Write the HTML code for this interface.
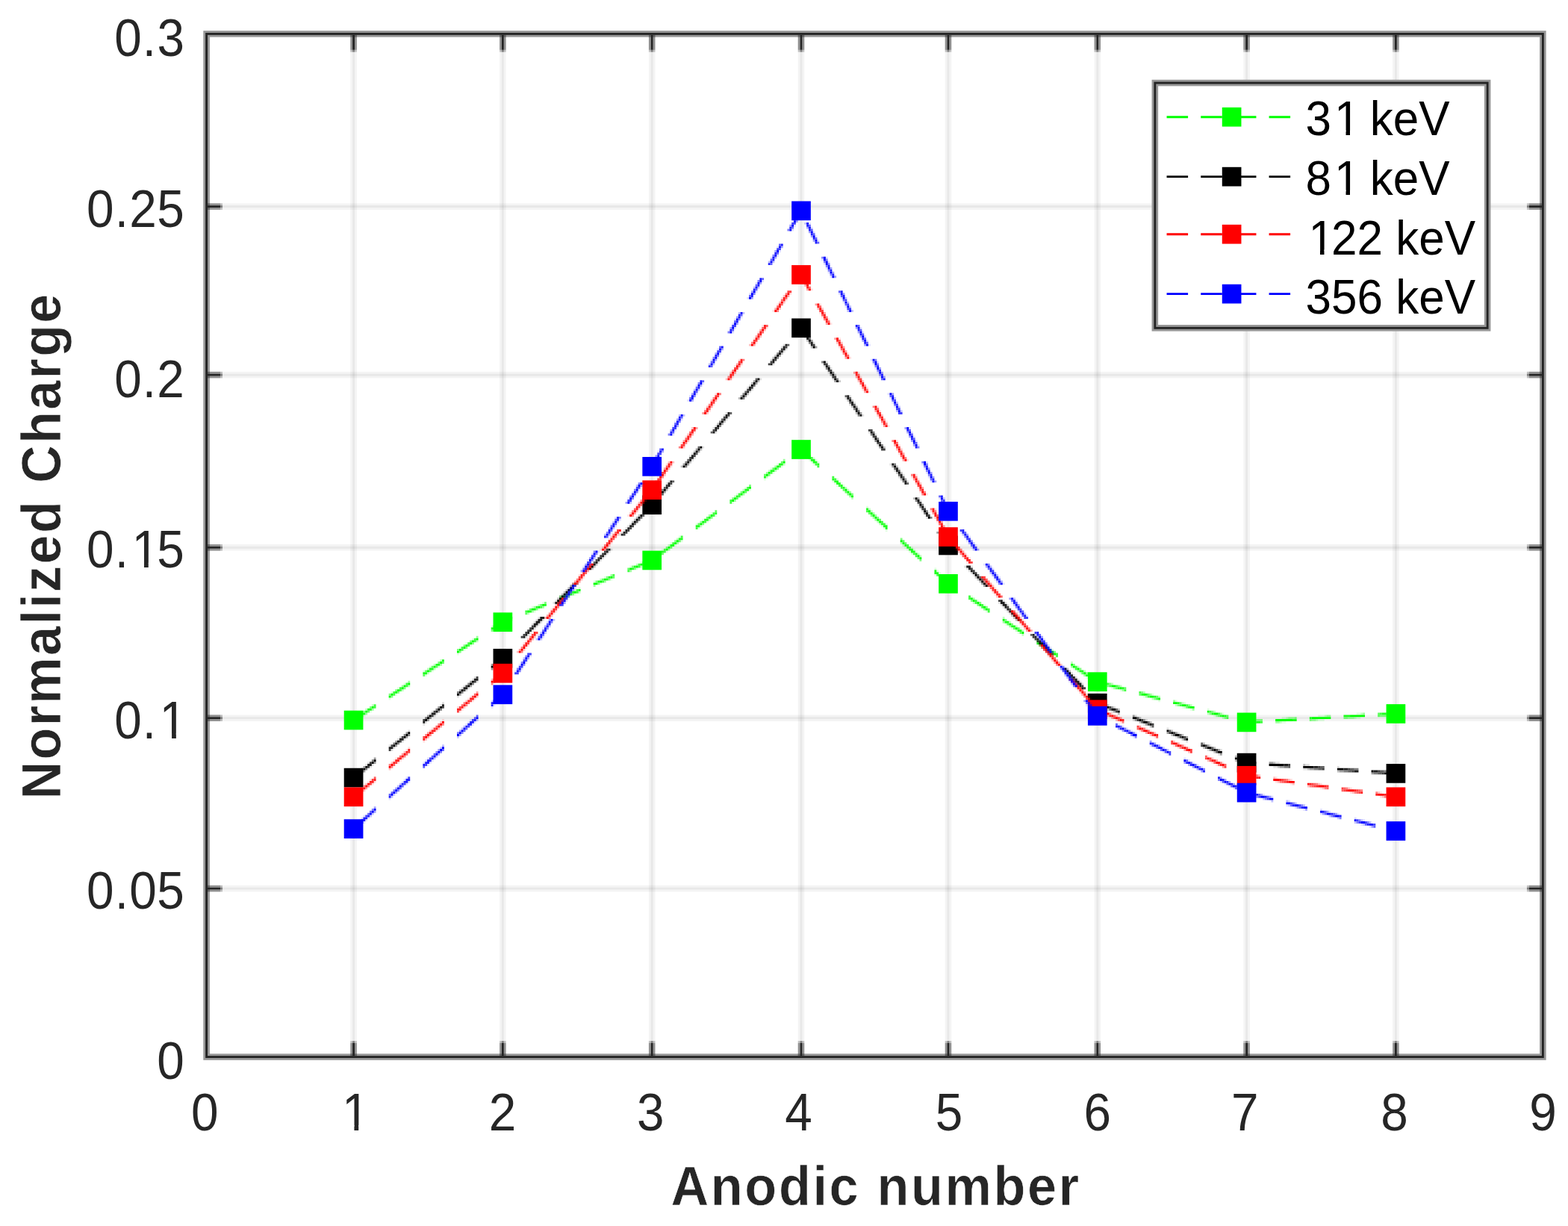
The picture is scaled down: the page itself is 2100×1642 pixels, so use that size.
<!DOCTYPE html>
<html lang="en"><head><meta charset="utf-8"><title>Normalized Charge vs Anodic number</title>
<style>
html,body{margin:0;padding:0;background:#fff;}
body{width:2100px;height:1642px;overflow:hidden;}
svg{display:block;}
text{font-family:"Liberation Sans",Arial,Helvetica,sans-serif;font-kerning:none;white-space:pre;}
.tick{font-size:70.5px;fill:#262626;}
.lab{font-size:73.4px;font-weight:bold;fill:#262626;stroke:#fff;stroke-width:0.6px;letter-spacing:2.75px;}
.leg{font-size:65.6px;fill:#000;}
</style></head><body>
<svg width="2100" height="1642" viewBox="0 0 2100 1642">
<rect width="2100" height="1642" fill="#fff"/>
<g id="grid">
<rect x="469.28" y="45.39" width="2.85" height="1370.16" fill="rgba(38,38,38,0.05)"/>
<rect x="472.13" y="45.39" width="2.85" height="1370.16" fill="rgba(38,38,38,0.105)"/>
<rect x="474.99" y="45.39" width="2.85" height="1370.16" fill="rgba(38,38,38,0.05)"/>
<rect x="669.09" y="45.39" width="2.85" height="1370.16" fill="rgba(38,38,38,0.05)"/>
<rect x="671.95" y="45.39" width="2.85" height="1370.16" fill="rgba(38,38,38,0.105)"/>
<rect x="674.8" y="45.39" width="2.85" height="1370.16" fill="rgba(38,38,38,0.05)"/>
<rect x="868.91" y="45.39" width="2.85" height="1370.16" fill="rgba(38,38,38,0.05)"/>
<rect x="871.76" y="45.39" width="2.85" height="1370.16" fill="rgba(38,38,38,0.105)"/>
<rect x="874.62" y="45.39" width="2.85" height="1370.16" fill="rgba(38,38,38,0.05)"/>
<rect x="1068.72" y="45.39" width="2.85" height="1370.16" fill="rgba(38,38,38,0.05)"/>
<rect x="1071.58" y="45.39" width="2.85" height="1370.16" fill="rgba(38,38,38,0.105)"/>
<rect x="1074.43" y="45.39" width="2.85" height="1370.16" fill="rgba(38,38,38,0.05)"/>
<rect x="1265.69" y="45.39" width="2.85" height="1370.16" fill="rgba(38,38,38,0.05)"/>
<rect x="1268.54" y="45.39" width="2.85" height="1370.16" fill="rgba(38,38,38,0.105)"/>
<rect x="1271.39" y="45.39" width="2.85" height="1370.16" fill="rgba(38,38,38,0.05)"/>
<rect x="1465.5" y="45.39" width="2.85" height="1370.16" fill="rgba(38,38,38,0.05)"/>
<rect x="1468.35" y="45.39" width="2.85" height="1370.16" fill="rgba(38,38,38,0.105)"/>
<rect x="1471.21" y="45.39" width="2.85" height="1370.16" fill="rgba(38,38,38,0.05)"/>
<rect x="1665.32" y="45.39" width="2.85" height="1370.16" fill="rgba(38,38,38,0.05)"/>
<rect x="1668.17" y="45.39" width="2.85" height="1370.16" fill="rgba(38,38,38,0.105)"/>
<rect x="1671.02" y="45.39" width="2.85" height="1370.16" fill="rgba(38,38,38,0.05)"/>
<rect x="1865.13" y="45.39" width="2.85" height="1370.16" fill="rgba(38,38,38,0.05)"/>
<rect x="1867.98" y="45.39" width="2.85" height="1370.16" fill="rgba(38,38,38,0.105)"/>
<rect x="1870.84" y="45.39" width="2.85" height="1370.16" fill="rgba(38,38,38,0.05)"/>
<rect x="276.6" y="272.32" width="1789.77" height="2.85" fill="rgba(38,38,38,0.05)"/>
<rect x="276.6" y="275.17" width="1789.77" height="2.85" fill="rgba(38,38,38,0.105)"/>
<rect x="276.6" y="278.03" width="1789.77" height="2.85" fill="rgba(38,38,38,0.05)"/>
<rect x="276.6" y="497.82" width="1789.77" height="2.85" fill="rgba(38,38,38,0.05)"/>
<rect x="276.6" y="500.68" width="1789.77" height="2.85" fill="rgba(38,38,38,0.105)"/>
<rect x="276.6" y="503.53" width="1789.77" height="2.85" fill="rgba(38,38,38,0.05)"/>
<rect x="276.6" y="729.04" width="1789.77" height="2.85" fill="rgba(38,38,38,0.05)"/>
<rect x="276.6" y="731.89" width="1789.77" height="2.85" fill="rgba(38,38,38,0.105)"/>
<rect x="276.6" y="734.75" width="1789.77" height="2.85" fill="rgba(38,38,38,0.05)"/>
<rect x="276.6" y="957.4" width="1789.77" height="2.85" fill="rgba(38,38,38,0.05)"/>
<rect x="276.6" y="960.25" width="1789.77" height="2.85" fill="rgba(38,38,38,0.105)"/>
<rect x="276.6" y="963.11" width="1789.77" height="2.85" fill="rgba(38,38,38,0.05)"/>
<rect x="276.6" y="1185.76" width="1789.77" height="2.85" fill="rgba(38,38,38,0.05)"/>
<rect x="276.6" y="1188.61" width="1789.77" height="2.85" fill="rgba(38,38,38,0.105)"/>
<rect x="276.6" y="1191.47" width="1789.77" height="2.85" fill="rgba(38,38,38,0.05)"/>
</g>
<g id="series">
<g fill="#00ff00">
<path d="M1068.72 606.3h2.85v2.85h-2.85zM1080.14 612h2.85v2.85h-2.85zM1088.71 612h2.85v2.85h-2.85zM1083 614.86h2.85v2.85h-2.85zM1091.56 614.86h2.85v2.85h-2.85zM1085.85 617.71h2.85v2.85h-2.85zM1094.42 617.71h2.85v2.85h-2.85zM1040.18 620.57h2.85v2.85h-2.85zM1088.71 620.57h2.85v2.85h-2.85zM1045.89 623.42h2.85v2.85h-2.85zM1031.62 626.28h2.85v2.85h-2.85zM1034.47 631.99h2.85v2.85h-2.85zM1023.05 640.55h2.85v2.85h-2.85zM1120.11 640.55h2.85v2.85h-2.85zM1114.4 643.4h2.85v2.85h-2.85zM1122.96 643.4h2.85v2.85h-2.85zM1117.25 646.26h2.85v2.85h-2.85zM1125.81 646.26h2.85v2.85h-2.85zM1120.11 649.11h2.85v2.85h-2.85zM1128.67 649.11h2.85v2.85h-2.85zM997.36 651.97h2.85v2.85h-2.85zM1003.07 654.82h2.85v2.85h-2.85zM985.94 660.53h2.85v2.85h-2.85zM991.65 663.39h2.85v2.85h-2.85zM980.24 671.95h2.85v2.85h-2.85zM1160.07 677.66h2.85v2.85h-2.85zM951.69 686.22h2.85v2.85h-2.85zM957.4 689.08h2.85v2.85h-2.85zM940.27 694.79h2.85v2.85h-2.85zM945.98 697.64h2.85v2.85h-2.85zM931.71 700.49h2.85v2.85h-2.85zM1185.76 700.49h2.85v2.85h-2.85zM1180.05 703.35h2.85v2.85h-2.85zM934.56 706.2h2.85v2.85h-2.85zM1182.9 706.2h2.85v2.85h-2.85zM1185.76 709.06h2.85v2.85h-2.85zM908.87 717.62h2.85v2.85h-2.85zM911.73 723.33h2.85v2.85h-2.85zM897.45 726.18h2.85v2.85h-2.85zM903.16 729.04h2.85v2.85h-2.85zM1211.45 731.89h2.85v2.85h-2.85zM1220.01 731.89h2.85v2.85h-2.85zM886.04 734.75h2.85v2.85h-2.85zM1214.3 734.75h2.85v2.85h-2.85zM1222.87 734.75h2.85v2.85h-2.85zM891.75 737.6h2.85v2.85h-2.85zM1217.16 737.6h2.85v2.85h-2.85zM1225.72 737.6h2.85v2.85h-2.85zM1220.01 740.46h2.85v2.85h-2.85zM857.49 751.88h2.85v2.85h-2.85zM866.06 754.73h2.85v2.85h-2.85zM843.22 757.58h2.85v2.85h-2.85zM851.78 760.44h2.85v2.85h-2.85zM1251.41 760.44h2.85v2.85h-2.85zM1254.27 763.29h2.85v2.85h-2.85zM1257.12 766.15h2.85v2.85h-2.85zM1251.41 769h2.85v2.85h-2.85zM1259.98 769h2.85v2.85h-2.85zM808.97 771.86h2.85v2.85h-2.85zM817.53 774.71h2.85v2.85h-2.85zM794.69 777.57h2.85v2.85h-2.85zM803.26 780.42h2.85v2.85h-2.85zM1274.25 780.42h2.85v2.85h-2.85zM774.71 786.13h2.85v2.85h-2.85zM1271.39 786.13h2.85v2.85h-2.85zM760.44 791.84h2.85v2.85h-2.85zM769 794.69h2.85v2.85h-2.85zM1299.94 797.55h2.85v2.85h-2.85zM749.02 803.26h2.85v2.85h-2.85zM1308.5 803.26h2.85v2.85h-2.85zM726.18 806.11h2.85v2.85h-2.85zM1317.07 808.97h2.85v2.85h-2.85zM711.91 811.82h2.85v2.85h-2.85zM1311.36 811.82h2.85v2.85h-2.85zM706.2 814.67h2.85v2.85h-2.85zM720.48 814.67h2.85v2.85h-2.85zM714.77 817.53h2.85v2.85h-2.85zM1319.92 817.53h2.85v2.85h-2.85zM677.66 826.09h2.85v2.85h-2.85zM666.24 831.8h2.85v2.85h-2.85zM1345.61 834.66h2.85v2.85h-2.85zM657.68 837.51h2.85v2.85h-2.85zM669.09 837.51h2.85v2.85h-2.85zM1354.17 840.36h2.85v2.85h-2.85zM1365.59 840.36h2.85v2.85h-2.85zM1362.74 846.07h2.85v2.85h-2.85zM631.99 854.64h2.85v2.85h-2.85zM1391.28 857.49h2.85v2.85h-2.85zM623.42 860.35h2.85v2.85h-2.85zM629.13 863.2h2.85v2.85h-2.85zM1399.85 863.2h2.85v2.85h-2.85zM614.86 866.06h2.85v2.85h-2.85zM620.57 868.91h2.85v2.85h-2.85zM1408.41 868.91h2.85v2.85h-2.85zM612 874.62h2.85v2.85h-2.85zM1411.26 877.47h2.85v2.85h-2.85zM574.9 891.75h2.85v2.85h-2.85zM586.31 891.75h2.85v2.85h-2.85zM1436.96 894.6h2.85v2.85h-2.85zM566.33 897.45h2.85v2.85h-2.85zM577.75 897.45h2.85v2.85h-2.85zM1445.52 900.31h2.85v2.85h-2.85zM569.19 903.16h2.85v2.85h-2.85zM1454.08 906.02h2.85v2.85h-2.85zM1479.77 911.73h2.85v2.85h-2.85zM540.64 914.58h2.85v2.85h-2.85zM532.08 920.29h2.85v2.85h-2.85zM1488.34 920.29h2.85v2.85h-2.85zM1499.75 923.15h2.85v2.85h-2.85zM523.52 926h2.85v2.85h-2.85zM529.22 928.85h2.85v2.85h-2.85zM1542.57 928.85h2.85v2.85h-2.85zM1531.15 931.71h2.85v2.85h-2.85zM520.66 934.56h2.85v2.85h-2.85zM1551.14 937.42h2.85v2.85h-2.85zM1573.97 937.42h2.85v2.85h-2.85zM1585.39 940.27h2.85v2.85h-2.85zM1582.53 945.98h2.85v2.85h-2.85zM1593.95 948.84h2.85v2.85h-2.85zM1616.79 948.84h2.85v2.85h-2.85zM494.97 951.69h2.85v2.85h-2.85zM1865.13 951.69h5.71v2.85h-5.71zM1636.77 954.54h2.85v2.85h-2.85zM1816.6 954.54h5.71v2.85h-5.71zM474.99 957.4h2.85v2.85h-2.85zM486.41 957.4h2.85v2.85h-2.85zM1625.35 957.4h2.85v2.85h-2.85zM1765.22 957.4h8.56v2.85h-8.56zM1865.13 957.4h5.71v2.85h-5.71zM1716.7 960.25h5.71v2.85h-5.71zM1816.6 960.25h5.71v2.85h-5.71zM477.84 963.11h2.85v2.85h-2.85zM1668.17 963.11h5.71v2.85h-5.71zM1765.22 963.11h8.56v2.85h-8.56zM1716.7 965.96h5.71v2.85h-5.71zM1668.17 968.82h5.71v2.85h-5.71z" fill-opacity="0.12"/>
<path d="M1074.43 606.3h2.85v2.85h-2.85zM1077.29 609.15h2.85v2.85h-2.85zM1048.74 620.57h2.85v2.85h-2.85zM1028.76 629.13h2.85v2.85h-2.85zM1037.33 629.13h2.85v2.85h-2.85zM1025.91 637.7h2.85v2.85h-2.85zM1131.52 651.97h2.85v2.85h-2.85zM994.51 654.82h2.85v2.85h-2.85zM1134.38 654.82h2.85v2.85h-2.85zM983.09 663.39h2.85v2.85h-2.85zM1140.09 666.24h2.85v2.85h-2.85zM1162.92 680.51h2.85v2.85h-2.85zM1165.78 683.37h2.85v2.85h-2.85zM948.84 694.79h2.85v2.85h-2.85zM1174.34 697.64h2.85v2.85h-2.85zM1177.2 700.49h2.85v2.85h-2.85zM937.42 703.35h2.85v2.85h-2.85zM906.02 720.48h2.85v2.85h-2.85zM1205.74 726.18h2.85v2.85h-2.85zM894.6 729.04h2.85v2.85h-2.85zM1208.6 729.04h2.85v2.85h-2.85zM1228.58 740.46h2.85v2.85h-2.85zM1231.43 743.31h2.85v2.85h-2.85zM851.78 754.73h2.85v2.85h-2.85zM857.49 757.58h2.85v2.85h-2.85zM1262.83 771.86h2.85v2.85h-2.85zM803.26 774.71h2.85v2.85h-2.85zM1265.69 774.71h2.85v2.85h-2.85zM1268.54 777.57h2.85v2.85h-2.85zM1268.54 783.27h2.85v2.85h-2.85zM1277.1 783.27h2.85v2.85h-2.85zM769 788.98h2.85v2.85h-2.85zM1277.1 788.98h2.85v2.85h-2.85zM774.71 791.84h2.85v2.85h-2.85zM754.73 794.69h2.85v2.85h-2.85zM754.73 800.4h2.85v2.85h-2.85zM1302.79 806.11h2.85v2.85h-2.85zM720.48 808.97h2.85v2.85h-2.85zM706.2 820.38h2.85v2.85h-2.85zM1342.76 826.09h2.85v2.85h-2.85zM671.95 828.95h2.85v2.85h-2.85zM1351.32 831.8h2.85v2.85h-2.85zM663.39 834.66h2.85v2.85h-2.85zM671.95 834.66h2.85v2.85h-2.85zM1359.88 837.51h2.85v2.85h-2.85zM663.39 840.36h2.85v2.85h-2.85zM1359.88 843.22h2.85v2.85h-2.85zM1368.45 843.22h2.85v2.85h-2.85zM1368.45 848.93h2.85v2.85h-2.85zM637.7 857.49h2.85v2.85h-2.85zM1394.14 866.06h2.85v2.85h-2.85zM1402.7 871.76h2.85v2.85h-2.85zM589.17 883.18h2.85v2.85h-2.85zM1434.1 886.04h2.85v2.85h-2.85zM580.61 888.89h2.85v2.85h-2.85zM1442.66 891.75h2.85v2.85h-2.85zM572.04 894.6h2.85v2.85h-2.85zM580.61 894.6h2.85v2.85h-2.85zM1451.23 897.45h2.85v2.85h-2.85zM572.04 900.31h2.85v2.85h-2.85zM1459.79 903.16h2.85v2.85h-2.85zM1459.79 908.87h2.85v2.85h-2.85zM1488.34 914.58h2.85v2.85h-2.85zM546.35 917.44h2.85v2.85h-2.85zM1479.77 917.44h2.85v2.85h-2.85zM1499.75 917.44h2.85v2.85h-2.85zM537.79 923.15h2.85v2.85h-2.85zM1531.15 926h2.85v2.85h-2.85zM1551.14 931.71h2.85v2.85h-2.85zM1542.57 934.56h2.85v2.85h-2.85zM1582.53 940.27h2.85v2.85h-2.85zM497.82 943.13h2.85v2.85h-2.85zM1573.97 943.13h2.85v2.85h-2.85zM1593.95 943.13h2.85v2.85h-2.85zM1585.39 945.98h2.85v2.85h-2.85zM489.26 948.84h2.85v2.85h-2.85zM1625.35 951.69h2.85v2.85h-2.85zM480.7 954.54h2.85v2.85h-2.85zM1616.79 954.54h2.85v2.85h-2.85zM1822.31 954.54h2.85v2.85h-2.85zM1773.79 957.4h2.85v2.85h-2.85zM1862.28 957.4h2.85v2.85h-2.85zM480.7 960.25h2.85v2.85h-2.85zM1636.77 960.25h2.85v2.85h-2.85zM1722.41 960.25h2.85v2.85h-2.85zM1813.75 960.25h2.85v2.85h-2.85zM1673.88 963.11h2.85v2.85h-2.85zM1762.37 963.11h2.85v2.85h-2.85zM1713.84 965.96h2.85v2.85h-2.85z" fill-opacity="0.25"/>
<path d="M1071.58 597.73h2.85v2.85h-2.85zM1071.58 603.44h2.85v2.85h-2.85zM1048.74 614.86h2.85v2.85h-2.85zM1037.33 623.42h2.85v2.85h-2.85zM1025.91 631.99h2.85v2.85h-2.85zM1137.23 657.68h2.85v2.85h-2.85zM994.51 660.53h2.85v2.85h-2.85zM1137.23 663.39h2.85v2.85h-2.85zM983.09 669.09h2.85v2.85h-2.85zM1168.63 686.22h2.85v2.85h-2.85zM948.84 689.08h2.85v2.85h-2.85zM1171.49 689.08h2.85v2.85h-2.85zM1168.63 691.93h2.85v2.85h-2.85zM1171.49 694.79h2.85v2.85h-2.85zM937.42 697.64h2.85v2.85h-2.85zM906.02 726.18h2.85v2.85h-2.85zM894.6 734.75h2.85v2.85h-2.85zM866.06 749.02h2.85v2.85h-2.85zM843.22 763.29h2.85v2.85h-2.85zM817.53 769h2.85v2.85h-2.85zM808.97 777.57h2.85v2.85h-2.85zM794.69 783.27h2.85v2.85h-2.85zM749.02 797.55h2.85v2.85h-2.85zM760.44 797.55h2.85v2.85h-2.85zM1302.79 800.4h2.85v2.85h-2.85zM714.77 811.82h2.85v2.85h-2.85zM726.18 811.82h2.85v2.85h-2.85zM711.91 817.53h2.85v2.85h-2.85zM677.66 831.8h2.85v2.85h-2.85zM1342.76 831.8h2.85v2.85h-2.85zM1351.32 837.51h2.85v2.85h-2.85zM637.7 851.78h2.85v2.85h-2.85zM1394.14 860.35h2.85v2.85h-2.85zM1402.7 866.06h2.85v2.85h-2.85zM589.17 888.89h2.85v2.85h-2.85zM1434.1 891.75h2.85v2.85h-2.85zM1442.66 897.45h2.85v2.85h-2.85zM1451.23 903.16h2.85v2.85h-2.85zM546.35 911.73h2.85v2.85h-2.85zM537.79 917.44h2.85v2.85h-2.85zM1491.19 920.29h2.85v2.85h-2.85zM1502.61 923.15h2.85v2.85h-2.85zM1539.72 928.85h2.85v2.85h-2.85zM1534.01 931.71h2.85v2.85h-2.85zM1571.12 937.42h2.85v2.85h-2.85zM497.82 948.84h2.85v2.85h-2.85zM1596.81 948.84h2.85v2.85h-2.85zM489.26 954.54h2.85v2.85h-2.85zM1633.92 954.54h2.85v2.85h-2.85zM1825.17 954.54h2.85v2.85h-2.85zM1628.21 957.4h2.85v2.85h-2.85zM1776.64 957.4h5.71v2.85h-5.71zM1856.57 957.4h5.71v2.85h-5.71zM1725.26 960.25h8.56v2.85h-8.56zM1805.19 960.25h8.56v2.85h-8.56zM1676.73 963.11h5.71v2.85h-5.71zM1756.66 963.11h5.71v2.85h-5.71zM1708.13 965.96h5.71v2.85h-5.71z" fill-opacity="0.38"/>
<path d="M1074.43 600.59h2.85v2.85h-2.85zM1040.18 626.28h2.85v2.85h-2.85zM1028.76 634.84h2.85v2.85h-2.85zM1003.07 649.11h2.85v2.85h-2.85zM991.65 657.68h2.85v2.85h-2.85zM1134.38 660.53h2.85v2.85h-2.85zM1140.09 660.53h2.85v2.85h-2.85zM980.24 666.24h2.85v2.85h-2.85zM1165.78 689.08h2.85v2.85h-2.85zM951.69 691.93h2.85v2.85h-2.85zM1174.34 691.93h2.85v2.85h-2.85zM940.27 700.49h2.85v2.85h-2.85zM1205.74 720.48h2.85v2.85h-2.85zM903.16 723.33h2.85v2.85h-2.85zM891.75 731.89h2.85v2.85h-2.85zM1231.43 749.02h2.85v2.85h-2.85zM860.35 751.88h2.85v2.85h-2.85zM863.2 754.73h2.85v2.85h-2.85zM846.07 757.58h2.85v2.85h-2.85zM848.93 760.44h2.85v2.85h-2.85zM811.82 771.86h2.85v2.85h-2.85zM814.67 774.71h2.85v2.85h-2.85zM797.55 777.57h2.85v2.85h-2.85zM800.4 780.42h2.85v2.85h-2.85zM1265.69 780.42h2.85v2.85h-2.85zM763.29 791.84h2.85v2.85h-2.85zM766.15 794.69h2.85v2.85h-2.85zM1299.94 803.26h2.85v2.85h-2.85zM729.04 806.11h2.85v2.85h-2.85zM1311.36 806.11h2.85v2.85h-2.85zM1308.5 808.97h2.85v2.85h-2.85zM1319.92 811.82h2.85v2.85h-2.85zM717.62 814.67h2.85v2.85h-2.85zM1317.07 814.67h2.85v2.85h-2.85zM680.51 826.09h2.85v2.85h-2.85zM683.37 828.95h2.85v2.85h-2.85zM1345.61 828.95h2.85v2.85h-2.85zM1354.17 834.66h2.85v2.85h-2.85zM657.68 843.22h2.85v2.85h-2.85zM629.13 857.49h2.85v2.85h-2.85zM631.99 860.35h2.85v2.85h-2.85zM620.57 863.2h2.85v2.85h-2.85zM1391.28 863.2h2.85v2.85h-2.85zM623.42 866.06h2.85v2.85h-2.85zM612 868.91h2.85v2.85h-2.85zM1399.85 868.91h2.85v2.85h-2.85zM614.86 871.76h2.85v2.85h-2.85zM1411.26 871.76h2.85v2.85h-2.85zM1408.41 874.62h2.85v2.85h-2.85zM586.31 886.04h2.85v2.85h-2.85zM1436.96 888.89h2.85v2.85h-2.85zM1445.52 894.6h2.85v2.85h-2.85zM1454.08 900.31h2.85v2.85h-2.85zM1485.48 914.58h2.85v2.85h-2.85zM1482.63 917.44h2.85v2.85h-2.85zM1496.9 917.44h2.85v2.85h-2.85zM540.64 920.29h2.85v2.85h-2.85zM529.22 923.15h2.85v2.85h-2.85zM532.08 926h2.85v2.85h-2.85zM1528.3 926h2.85v2.85h-2.85zM520.66 928.85h2.85v2.85h-2.85zM523.52 931.71h2.85v2.85h-2.85zM1545.43 934.56h2.85v2.85h-2.85zM1576.83 943.13h2.85v2.85h-2.85zM1591.1 943.13h2.85v2.85h-2.85zM494.97 945.98h2.85v2.85h-2.85zM486.41 951.69h2.85v2.85h-2.85zM1622.5 951.69h2.85v2.85h-2.85zM1619.64 954.54h2.85v2.85h-2.85zM1848 957.4h8.56v2.85h-8.56zM1639.62 960.25h2.85v2.85h-2.85zM1733.82 960.25h2.85v2.85h-2.85zM1799.48 960.25h5.71v2.85h-5.71zM1665.32 963.11h2.85v2.85h-2.85zM1682.44 963.11h8.56v2.85h-8.56zM1753.8 963.11h2.85v2.85h-2.85z" fill-opacity="0.5"/>
<path d="M1068.72 600.59h2.85v2.85h-2.85zM1077.29 603.44h2.85v2.85h-2.85zM1080.14 606.3h2.85v2.85h-2.85zM1045.89 617.71h2.85v2.85h-2.85zM1034.47 626.28h2.85v2.85h-2.85zM1023.05 634.84h2.85v2.85h-2.85zM1128.67 654.82h2.85v2.85h-2.85zM997.36 657.68h2.85v2.85h-2.85zM1131.52 657.68h2.85v2.85h-2.85zM985.94 666.24h2.85v2.85h-2.85zM957.4 683.37h2.85v2.85h-2.85zM1162.92 686.22h2.85v2.85h-2.85zM945.98 691.93h2.85v2.85h-2.85zM1177.2 694.79h2.85v2.85h-2.85zM934.56 700.49h2.85v2.85h-2.85zM908.87 723.33h2.85v2.85h-2.85zM1208.6 723.33h2.85v2.85h-2.85zM1211.45 726.18h2.85v2.85h-2.85zM897.45 731.89h2.85v2.85h-2.85zM886.04 740.46h2.85v2.85h-2.85zM1228.58 746.17h2.85v2.85h-2.85zM840.36 760.44h2.85v2.85h-2.85zM820.38 771.86h2.85v2.85h-2.85zM806.11 774.71h2.85v2.85h-2.85zM1259.98 774.71h2.85v2.85h-2.85zM1262.83 777.57h2.85v2.85h-2.85zM1271.39 780.42h2.85v2.85h-2.85zM1274.25 786.13h2.85v2.85h-2.85zM757.58 794.69h2.85v2.85h-2.85zM751.88 800.4h2.85v2.85h-2.85zM723.33 808.97h2.85v2.85h-2.85zM709.06 814.67h2.85v2.85h-2.85zM703.35 820.38h2.85v2.85h-2.85zM674.8 828.95h2.85v2.85h-2.85zM669.09 831.8h2.85v2.85h-2.85zM1348.47 834.66h2.85v2.85h-2.85zM660.53 837.51h2.85v2.85h-2.85zM666.24 837.51h2.85v2.85h-2.85zM1357.03 840.36h2.85v2.85h-2.85zM1362.74 840.36h2.85v2.85h-2.85zM1365.59 846.07h2.85v2.85h-2.85zM1388.43 857.49h2.85v2.85h-2.85zM592.02 886.04h2.85v2.85h-2.85zM577.75 891.75h2.85v2.85h-2.85zM583.46 891.75h2.85v2.85h-2.85zM569.19 897.45h2.85v2.85h-2.85zM574.9 897.45h2.85v2.85h-2.85zM1448.37 900.31h2.85v2.85h-2.85zM566.33 903.16h2.85v2.85h-2.85zM1456.94 906.02h2.85v2.85h-2.85zM1494.05 920.29h2.85v2.85h-2.85zM1505.46 920.29h2.85v2.85h-2.85zM1525.44 928.85h2.85v2.85h-2.85zM1536.86 928.85h2.85v2.85h-2.85zM1548.28 931.71h2.85v2.85h-2.85zM1579.68 940.27h2.85v2.85h-2.85zM1588.24 945.98h2.85v2.85h-2.85zM492.12 951.69h2.85v2.85h-2.85zM1845.15 954.54h2.85v2.85h-2.85zM477.84 957.4h2.85v2.85h-2.85zM483.55 957.4h2.85v2.85h-2.85zM1631.06 957.4h2.85v2.85h-2.85zM1642.48 957.4h2.85v2.85h-2.85zM1845.15 957.4h2.85v2.85h-2.85zM474.99 963.11h2.85v2.85h-2.85zM1662.46 965.96h2.85v2.85h-2.85z" fill-opacity="0.62"/>
<path d="M1083 609.15h2.85v2.85h-2.85zM1085.85 612h2.85v2.85h-2.85zM1091.56 620.57h2.85v2.85h-2.85zM1043.03 623.42h2.85v2.85h-2.85zM1094.42 623.42h2.85v2.85h-2.85zM1031.62 631.99h2.85v2.85h-2.85zM1114.4 637.7h2.85v2.85h-2.85zM1117.25 640.55h2.85v2.85h-2.85zM1122.96 649.11h2.85v2.85h-2.85zM1000.22 651.97h2.85v2.85h-2.85zM1125.81 651.97h2.85v2.85h-2.85zM988.8 660.53h2.85v2.85h-2.85zM988.8 663.39h2.85v2.85h-2.85zM977.38 669.09h2.85v2.85h-2.85zM977.38 671.95h2.85v2.85h-2.85zM1160.07 683.37h2.85v2.85h-2.85zM954.54 686.22h2.85v2.85h-2.85zM954.54 689.08h2.85v2.85h-2.85zM943.13 697.64h2.85v2.85h-2.85zM1180.05 697.64h2.85v2.85h-2.85zM1182.9 700.49h2.85v2.85h-2.85zM931.71 706.2h2.85v2.85h-2.85zM911.73 717.62h2.85v2.85h-2.85zM900.31 726.18h2.85v2.85h-2.85zM1214.3 729.04h2.85v2.85h-2.85zM1217.16 731.89h2.85v2.85h-2.85zM888.89 734.75h2.85v2.85h-2.85zM888.89 737.6h2.85v2.85h-2.85zM1222.87 740.46h2.85v2.85h-2.85zM1225.72 743.31h2.85v2.85h-2.85zM854.64 754.73h2.85v2.85h-2.85zM854.64 757.58h2.85v2.85h-2.85zM840.36 763.29h2.85v2.85h-2.85zM820.38 769h2.85v2.85h-2.85zM1254.27 769h2.85v2.85h-2.85zM1257.12 771.86h2.85v2.85h-2.85zM806.11 777.57h2.85v2.85h-2.85zM771.86 788.98h2.85v2.85h-2.85zM771.86 791.84h2.85v2.85h-2.85zM751.88 797.55h2.85v2.85h-2.85zM757.58 797.55h2.85v2.85h-2.85zM1297.08 797.55h2.85v2.85h-2.85zM1297.08 800.4h2.85v2.85h-2.85zM1305.65 803.26h2.85v2.85h-2.85zM1305.65 806.11h2.85v2.85h-2.85zM1314.21 808.97h2.85v2.85h-2.85zM723.33 811.82h2.85v2.85h-2.85zM1314.21 811.82h2.85v2.85h-2.85zM1322.78 814.67h2.85v2.85h-2.85zM703.35 817.53h2.85v2.85h-2.85zM1322.78 817.53h2.85v2.85h-2.85zM674.8 831.8h2.85v2.85h-2.85zM634.84 854.64h2.85v2.85h-2.85zM634.84 857.49h2.85v2.85h-2.85zM626.28 860.35h2.85v2.85h-2.85zM626.28 863.2h2.85v2.85h-2.85zM1396.99 863.2h2.85v2.85h-2.85zM617.71 866.06h2.85v2.85h-2.85zM1396.99 866.06h2.85v2.85h-2.85zM617.71 868.91h2.85v2.85h-2.85zM1405.56 868.91h2.85v2.85h-2.85zM1405.56 871.76h2.85v2.85h-2.85zM1414.12 874.62h2.85v2.85h-2.85zM1414.12 877.47h2.85v2.85h-2.85zM1439.81 891.75h2.85v2.85h-2.85zM1439.81 894.6h2.85v2.85h-2.85zM543.5 914.58h2.85v2.85h-2.85zM1482.63 914.58h2.85v2.85h-2.85zM543.5 917.44h2.85v2.85h-2.85zM1485.48 917.44h2.85v2.85h-2.85zM1494.05 917.44h2.85v2.85h-2.85zM534.93 920.29h2.85v2.85h-2.85zM534.93 923.15h2.85v2.85h-2.85zM1505.46 923.15h2.85v2.85h-2.85zM526.37 926h2.85v2.85h-2.85zM1525.44 926h2.85v2.85h-2.85zM526.37 928.85h2.85v2.85h-2.85zM1536.86 931.71h2.85v2.85h-2.85zM1548.28 934.56h2.85v2.85h-2.85zM500.68 943.13h2.85v2.85h-2.85zM1579.68 943.13h2.85v2.85h-2.85zM1588.24 943.13h2.85v2.85h-2.85zM500.68 945.98h2.85v2.85h-2.85zM1619.64 951.69h2.85v2.85h-2.85zM1631.06 954.54h2.85v2.85h-2.85zM1848 954.54h2.85v2.85h-2.85zM1642.48 960.25h2.85v2.85h-2.85zM1662.46 963.11h2.85v2.85h-2.85zM1688.15 965.96h2.85v2.85h-2.85z" fill-opacity="0.75"/>
<path d="M1068.72 603.44h2.85v2.85h-2.85zM1080.14 609.15h2.85v2.85h-2.85zM1083 612h2.85v2.85h-2.85zM1085.85 614.86h5.71v2.85h-5.71zM1088.71 617.71h5.71v2.85h-5.71zM1043.03 620.57h5.71v2.85h-5.71zM1094.42 620.57h2.85v2.85h-2.85zM1031.62 629.13h5.71v2.85h-5.71zM1023.05 637.7h2.85v2.85h-2.85zM1114.4 640.55h2.85v2.85h-2.85zM1117.25 643.4h5.71v2.85h-5.71zM1120.11 646.26h5.71v2.85h-5.71zM1125.81 649.11h2.85v2.85h-2.85zM1128.67 651.97h2.85v2.85h-2.85zM997.36 654.82h5.71v2.85h-5.71zM985.94 663.39h2.85v2.85h-2.85zM1160.07 680.51h2.85v2.85h-2.85zM957.4 686.22h2.85v2.85h-2.85zM943.13 694.79h5.71v2.85h-5.71zM1180.05 700.49h2.85v2.85h-2.85zM931.71 703.35h5.71v2.85h-5.71zM1182.9 703.35h5.71v2.85h-5.71zM1185.76 706.2h2.85v2.85h-2.85zM908.87 720.48h5.71v2.85h-5.71zM897.45 729.04h5.71v2.85h-5.71zM1211.45 729.04h2.85v2.85h-2.85zM1214.3 731.89h2.85v2.85h-2.85zM1217.16 734.75h5.71v2.85h-5.71zM886.04 737.6h2.85v2.85h-2.85zM1220.01 737.6h5.71v2.85h-5.71zM1225.72 740.46h2.85v2.85h-2.85zM860.35 754.73h2.85v2.85h-2.85zM848.93 757.58h2.85v2.85h-2.85zM846.07 760.44h2.85v2.85h-2.85zM1251.41 763.29h2.85v2.85h-2.85zM1251.41 766.15h5.71v2.85h-5.71zM1257.12 769h2.85v2.85h-2.85zM814.67 771.86h2.85v2.85h-2.85zM1259.98 771.86h2.85v2.85h-2.85zM811.82 774.71h2.85v2.85h-2.85zM800.4 777.57h2.85v2.85h-2.85zM1271.39 783.27h5.71v2.85h-5.71zM766.15 791.84h2.85v2.85h-2.85zM763.29 794.69h2.85v2.85h-2.85zM729.04 808.97h2.85v2.85h-2.85zM717.62 811.82h2.85v2.85h-2.85zM709.06 817.53h2.85v2.85h-2.85zM683.37 826.09h2.85v2.85h-2.85zM1345.61 831.8h5.71v2.85h-5.71zM666.24 834.66h5.71v2.85h-5.71zM1354.17 837.51h5.71v2.85h-5.71zM657.68 840.36h5.71v2.85h-5.71zM1362.74 843.22h5.71v2.85h-5.71zM1388.43 860.35h5.71v2.85h-5.71zM592.02 883.18h2.85v2.85h-2.85zM583.46 888.89h5.71v2.85h-5.71zM574.9 894.6h5.71v2.85h-5.71zM1445.52 897.45h5.71v2.85h-5.71zM566.33 900.31h5.71v2.85h-5.71zM1454.08 903.16h5.71v2.85h-5.71zM1496.9 920.29h2.85v2.85h-2.85zM1502.61 920.29h2.85v2.85h-2.85zM1528.3 928.85h2.85v2.85h-2.85zM1534.01 928.85h2.85v2.85h-2.85zM1545.43 931.71h2.85v2.85h-2.85zM1576.83 940.27h2.85v2.85h-2.85zM1591.1 945.98h2.85v2.85h-2.85zM492.12 948.84h5.71v2.85h-5.71zM483.55 954.54h5.71v2.85h-5.71zM1622.5 954.54h2.85v2.85h-2.85zM1850.86 954.54h5.71v2.85h-5.71zM1633.92 957.4h2.85v2.85h-2.85zM1639.62 957.4h2.85v2.85h-2.85zM1799.48 957.4h8.56v2.85h-8.56zM474.99 960.25h5.71v2.85h-5.71zM1753.8 960.25h2.85v2.85h-2.85zM1730.97 963.11h5.71v2.85h-5.71zM1665.32 965.96h2.85v2.85h-2.85zM1682.44 965.96h5.71v2.85h-5.71z" fill-opacity="0.88"/>
<path d="M1071.58 600.59h2.85v2.85h-2.85zM1074.43 603.44h2.85v2.85h-2.85zM1077.29 606.3h2.85v2.85h-2.85zM1048.74 617.71h2.85v2.85h-2.85zM1040.18 623.42h2.85v2.85h-2.85zM1037.33 626.28h2.85v2.85h-2.85zM1028.76 631.99h2.85v2.85h-2.85zM1025.91 634.84h2.85v2.85h-2.85zM1003.07 651.97h2.85v2.85h-2.85zM1131.52 654.82h2.85v2.85h-2.85zM994.51 657.68h2.85v2.85h-2.85zM1134.38 657.68h2.85v2.85h-2.85zM991.65 660.53h2.85v2.85h-2.85zM1137.23 660.53h2.85v2.85h-2.85zM1140.09 663.39h2.85v2.85h-2.85zM983.09 666.24h2.85v2.85h-2.85zM980.24 669.09h2.85v2.85h-2.85zM1162.92 683.37h2.85v2.85h-2.85zM1165.78 686.22h2.85v2.85h-2.85zM951.69 689.08h2.85v2.85h-2.85zM1168.63 689.08h2.85v2.85h-2.85zM948.84 691.93h2.85v2.85h-2.85zM1171.49 691.93h2.85v2.85h-2.85zM1174.34 694.79h2.85v2.85h-2.85zM940.27 697.64h2.85v2.85h-2.85zM1177.2 697.64h2.85v2.85h-2.85zM937.42 700.49h2.85v2.85h-2.85zM906.02 723.33h2.85v2.85h-2.85zM1205.74 723.33h2.85v2.85h-2.85zM903.16 726.18h2.85v2.85h-2.85zM1208.6 726.18h2.85v2.85h-2.85zM894.6 731.89h2.85v2.85h-2.85zM891.75 734.75h2.85v2.85h-2.85zM1228.58 743.31h2.85v2.85h-2.85zM1231.43 746.17h2.85v2.85h-2.85zM863.2 751.88h5.71v2.85h-5.71zM857.49 754.73h2.85v2.85h-2.85zM851.78 757.58h2.85v2.85h-2.85zM843.22 760.44h2.85v2.85h-2.85zM817.53 771.86h2.85v2.85h-2.85zM808.97 774.71h2.85v2.85h-2.85zM1262.83 774.71h2.85v2.85h-2.85zM803.26 777.57h2.85v2.85h-2.85zM1265.69 777.57h2.85v2.85h-2.85zM794.69 780.42h5.71v2.85h-5.71zM1268.54 780.42h2.85v2.85h-2.85zM1277.1 786.13h2.85v2.85h-2.85zM774.71 788.98h2.85v2.85h-2.85zM769 791.84h2.85v2.85h-2.85zM760.44 794.69h2.85v2.85h-2.85zM754.73 797.55h2.85v2.85h-2.85zM749.02 800.4h2.85v2.85h-2.85zM1299.94 800.4h2.85v2.85h-2.85zM1302.79 803.26h2.85v2.85h-2.85zM1308.5 806.11h2.85v2.85h-2.85zM726.18 808.97h2.85v2.85h-2.85zM1311.36 808.97h2.85v2.85h-2.85zM720.48 811.82h2.85v2.85h-2.85zM1317.07 811.82h2.85v2.85h-2.85zM711.91 814.67h5.71v2.85h-5.71zM1319.92 814.67h2.85v2.85h-2.85zM706.2 817.53h2.85v2.85h-2.85zM677.66 828.95h5.71v2.85h-5.71zM1342.76 828.95h2.85v2.85h-2.85zM671.95 831.8h2.85v2.85h-2.85zM1351.32 834.66h2.85v2.85h-2.85zM663.39 837.51h2.85v2.85h-2.85zM1359.88 840.36h2.85v2.85h-2.85zM1368.45 846.07h2.85v2.85h-2.85zM637.7 854.64h2.85v2.85h-2.85zM631.99 857.49h2.85v2.85h-2.85zM629.13 860.35h2.85v2.85h-2.85zM623.42 863.2h2.85v2.85h-2.85zM1394.14 863.2h2.85v2.85h-2.85zM620.57 866.06h2.85v2.85h-2.85zM1399.85 866.06h2.85v2.85h-2.85zM614.86 868.91h2.85v2.85h-2.85zM1402.7 868.91h2.85v2.85h-2.85zM612 871.76h2.85v2.85h-2.85zM1408.41 871.76h2.85v2.85h-2.85zM1411.26 874.62h2.85v2.85h-2.85zM589.17 886.04h2.85v2.85h-2.85zM1434.1 888.89h2.85v2.85h-2.85zM580.61 891.75h2.85v2.85h-2.85zM1436.96 891.75h2.85v2.85h-2.85zM1442.66 894.6h2.85v2.85h-2.85zM572.04 897.45h2.85v2.85h-2.85zM1451.23 900.31h2.85v2.85h-2.85zM1459.79 906.02h2.85v2.85h-2.85zM546.35 914.58h2.85v2.85h-2.85zM1479.77 914.58h2.85v2.85h-2.85zM540.64 917.44h2.85v2.85h-2.85zM1488.34 917.44h5.71v2.85h-5.71zM537.79 920.29h2.85v2.85h-2.85zM1499.75 920.29h2.85v2.85h-2.85zM532.08 923.15h2.85v2.85h-2.85zM529.22 926h2.85v2.85h-2.85zM523.52 928.85h2.85v2.85h-2.85zM1531.15 928.85h2.85v2.85h-2.85zM520.66 931.71h2.85v2.85h-2.85zM1539.72 931.71h5.71v2.85h-5.71zM1551.14 934.56h2.85v2.85h-2.85zM1571.12 940.27h5.71v2.85h-5.71zM1582.53 943.13h5.71v2.85h-5.71zM497.82 945.98h2.85v2.85h-2.85zM1593.95 945.98h5.71v2.85h-5.71zM489.26 951.69h2.85v2.85h-2.85zM1616.79 951.69h2.85v2.85h-2.85zM1625.35 954.54h5.71v2.85h-5.71zM1856.57 954.54h14.27v2.85h-14.27zM480.7 957.4h2.85v2.85h-2.85zM1636.77 957.4h2.85v2.85h-2.85zM1808.04 957.4h19.98v2.85h-19.98zM1756.66 960.25h25.69v2.85h-25.69zM1708.13 963.11h22.84v2.85h-22.84zM1668.17 965.96h14.27v2.85h-14.27z"/>
<rect x="460.72" y="951.69" width="25.69" height="25.69"/>
<rect x="660.53" y="820.38" width="25.69" height="25.69"/>
<rect x="860.35" y="737.6" width="25.69" height="25.69"/>
<rect x="1060.16" y="589.17" width="25.69" height="25.69"/>
<rect x="1257.12" y="769" width="25.69" height="25.69"/>
<rect x="1456.94" y="900.31" width="25.69" height="25.69"/>
<rect x="1656.75" y="954.54" width="25.69" height="25.69"/>
<rect x="1856.57" y="943.13" width="25.69" height="25.69"/>
</g>
<g fill="#000000">
<path d="M1077.29 440.73h2.85v2.85h-2.85zM1071.58 443.59h2.85v2.85h-2.85zM1083 449.3h2.85v2.85h-2.85zM1088.71 457.86h2.85v2.85h-2.85zM1048.74 460.72h2.85v2.85h-2.85zM1045.89 463.57h2.85v2.85h-2.85zM1051.6 466.43h2.85v2.85h-2.85zM1048.74 469.28h2.85v2.85h-2.85zM1031.62 480.7h2.85v2.85h-2.85zM1105.83 483.55h2.85v2.85h-2.85zM1034.47 486.41h2.85v2.85h-2.85zM1102.98 489.26h2.85v2.85h-2.85zM1111.54 492.12h2.85v2.85h-2.85zM1108.69 497.82h2.85v2.85h-2.85zM1017.34 506.39h2.85v2.85h-2.85zM1114.4 506.39h2.85v2.85h-2.85zM1003.07 514.95h2.85v2.85h-2.85zM1000.22 517.81h2.85v2.85h-2.85zM1005.93 520.66h2.85v2.85h-2.85zM1003.07 523.52h2.85v2.85h-2.85zM1137.23 529.22h2.85v2.85h-2.85zM1131.52 532.08h2.85v2.85h-2.85zM1142.94 537.79h2.85v2.85h-2.85zM1137.23 540.64h2.85v2.85h-2.85zM1148.65 546.35h2.85v2.85h-2.85zM971.67 552.06h2.85v2.85h-2.85zM968.82 554.91h2.85v2.85h-2.85zM1154.36 554.91h2.85v2.85h-2.85zM974.53 557.77h2.85v2.85h-2.85zM971.67 560.62h2.85v2.85h-2.85zM957.4 569.19h2.85v2.85h-2.85zM954.54 572.04h2.85v2.85h-2.85zM957.4 577.75h2.85v2.85h-2.85zM1162.92 577.75h2.85v2.85h-2.85zM1171.49 580.61h2.85v2.85h-2.85zM1168.63 586.31h2.85v2.85h-2.85zM1177.2 589.17h2.85v2.85h-2.85zM1174.34 594.88h2.85v2.85h-2.85zM940.27 597.73h2.85v2.85h-2.85zM926 606.3h2.85v2.85h-2.85zM923.15 609.15h2.85v2.85h-2.85zM928.85 612h2.85v2.85h-2.85zM926 614.86h2.85v2.85h-2.85zM1191.47 620.57h2.85v2.85h-2.85zM1202.89 626.28h2.85v2.85h-2.85zM1197.18 629.13h2.85v2.85h-2.85zM1208.6 634.84h2.85v2.85h-2.85zM1202.89 637.7h2.85v2.85h-2.85zM894.6 643.4h2.85v2.85h-2.85zM1214.3 643.4h2.85v2.85h-2.85zM891.75 646.26h2.85v2.85h-2.85zM897.45 649.11h2.85v2.85h-2.85zM894.6 651.97h2.85v2.85h-2.85zM880.33 660.53h2.85v2.85h-2.85zM877.47 663.39h2.85v2.85h-2.85zM883.18 666.24h2.85v2.85h-2.85zM880.33 669.09h2.85v2.85h-2.85zM1231.43 669.09h2.85v2.85h-2.85zM1228.58 674.8h2.85v2.85h-2.85zM1237.14 677.66h2.85v2.85h-2.85zM1234.29 683.37h2.85v2.85h-2.85zM1242.85 686.22h2.85v2.85h-2.85zM1239.99 691.93h2.85v2.85h-2.85zM843.22 700.49h2.85v2.85h-2.85zM840.36 703.35h2.85v2.85h-2.85zM837.51 706.2h2.85v2.85h-2.85zM834.66 709.06h2.85v2.85h-2.85zM831.8 711.91h2.85v2.85h-2.85zM828.95 714.77h2.85v2.85h-2.85zM1257.12 717.62h2.85v2.85h-2.85zM1268.54 723.33h2.85v2.85h-2.85zM1262.83 726.18h2.85v2.85h-2.85zM817.53 734.75h2.85v2.85h-2.85zM814.67 737.6h2.85v2.85h-2.85zM811.82 740.46h2.85v2.85h-2.85zM808.97 743.31h2.85v2.85h-2.85zM806.11 746.17h2.85v2.85h-2.85zM803.26 749.02h2.85v2.85h-2.85zM800.4 751.88h2.85v2.85h-2.85zM1291.38 757.58h2.85v2.85h-2.85zM1299.94 757.58h2.85v2.85h-2.85zM1294.23 760.44h2.85v2.85h-2.85zM1297.08 763.29h2.85v2.85h-2.85zM1299.94 766.15h2.85v2.85h-2.85zM1302.79 769h2.85v2.85h-2.85zM743.31 803.26h2.85v2.85h-2.85zM1342.76 803.26h2.85v2.85h-2.85zM740.46 806.11h2.85v2.85h-2.85zM1337.05 806.11h2.85v2.85h-2.85zM1345.61 806.11h2.85v2.85h-2.85zM1339.9 808.97h2.85v2.85h-2.85zM1348.47 808.97h2.85v2.85h-2.85zM1342.76 811.82h2.85v2.85h-2.85zM1345.61 814.67h2.85v2.85h-2.85zM1348.47 817.53h2.85v2.85h-2.85zM1351.32 820.38h2.85v2.85h-2.85zM720.48 826.09h2.85v2.85h-2.85zM729.04 826.09h2.85v2.85h-2.85zM717.62 828.95h2.85v2.85h-2.85zM726.18 828.95h2.85v2.85h-2.85zM714.77 831.8h2.85v2.85h-2.85zM723.33 831.8h2.85v2.85h-2.85zM711.91 834.66h2.85v2.85h-2.85zM720.48 834.66h2.85v2.85h-2.85zM717.62 837.51h2.85v2.85h-2.85zM714.77 840.36h2.85v2.85h-2.85zM711.91 843.22h2.85v2.85h-2.85zM709.06 846.07h2.85v2.85h-2.85zM706.2 848.93h2.85v2.85h-2.85zM1385.57 848.93h2.85v2.85h-2.85zM703.35 851.78h2.85v2.85h-2.85zM1388.43 851.78h2.85v2.85h-2.85zM1391.28 854.64h2.85v2.85h-2.85zM1394.14 857.49h2.85v2.85h-2.85zM1388.43 860.35h2.85v2.85h-2.85zM1396.99 860.35h2.85v2.85h-2.85zM1391.28 863.2h2.85v2.85h-2.85zM1399.85 863.2h2.85v2.85h-2.85zM1394.14 866.06h2.85v2.85h-2.85zM1396.99 868.91h2.85v2.85h-2.85zM1399.85 871.76h2.85v2.85h-2.85zM1402.7 874.62h2.85v2.85h-2.85zM663.39 883.18h2.85v2.85h-2.85zM660.53 886.04h2.85v2.85h-2.85zM669.09 886.04h2.85v2.85h-2.85zM666.24 888.89h2.85v2.85h-2.85zM1434.1 900.31h2.85v2.85h-2.85zM1436.96 903.16h2.85v2.85h-2.85zM634.84 906.02h2.85v2.85h-2.85zM1439.81 906.02h2.85v2.85h-2.85zM631.99 908.87h2.85v2.85h-2.85zM1442.66 908.87h2.85v2.85h-2.85zM637.7 911.73h2.85v2.85h-2.85zM1436.96 911.73h2.85v2.85h-2.85zM1445.52 911.73h2.85v2.85h-2.85zM1439.81 914.58h2.85v2.85h-2.85zM1448.37 914.58h2.85v2.85h-2.85zM620.57 917.44h2.85v2.85h-2.85zM1442.66 917.44h2.85v2.85h-2.85zM617.71 920.29h2.85v2.85h-2.85zM626.28 920.29h2.85v2.85h-2.85zM1445.52 920.29h2.85v2.85h-2.85zM623.42 923.15h2.85v2.85h-2.85zM612 931.71h2.85v2.85h-2.85zM592.02 940.27h2.85v2.85h-2.85zM1476.92 940.27h2.85v2.85h-2.85zM589.17 943.13h2.85v2.85h-2.85zM1474.06 945.98h2.85v2.85h-2.85zM1491.19 945.98h2.85v2.85h-2.85zM577.75 951.69h2.85v2.85h-2.85zM1488.34 951.69h2.85v2.85h-2.85zM574.9 954.54h2.85v2.85h-2.85zM583.46 954.54h2.85v2.85h-2.85zM580.61 957.4h2.85v2.85h-2.85zM1519.74 957.4h2.85v2.85h-2.85zM1516.88 963.11h2.85v2.85h-2.85zM1534.01 963.11h2.85v2.85h-2.85zM569.19 965.96h2.85v2.85h-2.85zM566.33 968.82h2.85v2.85h-2.85zM1531.15 968.82h2.85v2.85h-2.85zM1562.55 974.53h2.85v2.85h-2.85zM546.35 977.38h2.85v2.85h-2.85zM1576.83 980.24h2.85v2.85h-2.85zM534.93 985.94h2.85v2.85h-2.85zM1573.97 985.94h2.85v2.85h-2.85zM532.08 988.8h2.85v2.85h-2.85zM540.64 988.8h2.85v2.85h-2.85zM537.79 991.65h2.85v2.85h-2.85zM1588.24 991.65h2.85v2.85h-2.85zM520.66 997.36h2.85v2.85h-2.85zM1619.64 997.36h2.85v2.85h-2.85zM526.37 1000.22h2.85v2.85h-2.85zM523.52 1003.07h2.85v2.85h-2.85zM1616.79 1003.07h2.85v2.85h-2.85zM1633.92 1003.07h2.85v2.85h-2.85zM1631.06 1008.78h2.85v2.85h-2.85zM1662.46 1014.49h2.85v2.85h-2.85zM1668.17 1017.34h5.71v2.85h-5.71zM492.12 1020.2h2.85v2.85h-2.85zM1659.61 1020.2h2.85v2.85h-2.85zM1708.13 1020.2h5.71v2.85h-5.71zM489.26 1023.05h2.85v2.85h-2.85zM497.82 1023.05h2.85v2.85h-2.85zM1668.17 1023.05h2.85v2.85h-2.85zM1748.1 1023.05h5.71v2.85h-5.71zM494.97 1025.91h2.85v2.85h-2.85zM1705.28 1025.91h5.71v2.85h-5.71zM1790.91 1025.91h2.85v2.85h-2.85zM1745.24 1028.76h5.71v2.85h-5.71zM477.84 1031.62h2.85v2.85h-2.85zM474.99 1034.47h2.85v2.85h-2.85zM483.55 1034.47h2.85v2.85h-2.85zM480.7 1037.33h2.85v2.85h-2.85z" fill-opacity="0.12"/>
<path d="M1068.72 437.88h2.85v2.85h-2.85zM1074.43 437.88h2.85v2.85h-2.85zM1065.87 440.73h2.85v2.85h-2.85zM1074.43 446.44h2.85v2.85h-2.85zM1080.14 455.01h2.85v2.85h-2.85zM1085.85 463.57h2.85v2.85h-2.85zM1045.89 472.13h2.85v2.85h-2.85zM1037.33 474.99h2.85v2.85h-2.85zM1034.47 477.84h2.85v2.85h-2.85zM1117.25 500.68h2.85v2.85h-2.85zM1014.49 509.24h2.85v2.85h-2.85zM1122.96 509.24h2.85v2.85h-2.85zM1005.93 512.1h2.85v2.85h-2.85zM1000.22 526.37h2.85v2.85h-2.85zM988.8 532.08h2.85v2.85h-2.85zM1134.38 534.93h2.85v2.85h-2.85zM1140.09 534.93h2.85v2.85h-2.85zM1140.09 543.5h2.85v2.85h-2.85zM1145.8 552.06h2.85v2.85h-2.85zM968.82 563.48h2.85v2.85h-2.85zM960.25 566.33h2.85v2.85h-2.85zM1182.9 597.73h2.85v2.85h-2.85zM937.42 600.59h2.85v2.85h-2.85zM928.85 603.44h2.85v2.85h-2.85zM923.15 617.71h2.85v2.85h-2.85zM911.73 623.42h2.85v2.85h-2.85zM1200.03 623.42h2.85v2.85h-2.85zM1200.03 631.99h2.85v2.85h-2.85zM1205.74 631.99h2.85v2.85h-2.85zM1205.74 640.55h2.85v2.85h-2.85zM891.75 654.82h2.85v2.85h-2.85zM883.18 657.68h2.85v2.85h-2.85zM1222.87 666.24h2.85v2.85h-2.85zM854.64 689.08h2.85v2.85h-2.85zM851.78 691.93h2.85v2.85h-2.85zM848.93 694.79h2.85v2.85h-2.85zM846.07 697.64h2.85v2.85h-2.85zM1259.98 711.91h2.85v2.85h-2.85zM1265.69 720.48h2.85v2.85h-2.85zM1277.1 734.75h2.85v2.85h-2.85zM1279.96 737.6h2.85v2.85h-2.85zM797.55 754.73h2.85v2.85h-2.85zM794.69 757.58h2.85v2.85h-2.85zM791.84 760.44h2.85v2.85h-2.85zM1305.65 771.86h2.85v2.85h-2.85zM1308.5 774.71h2.85v2.85h-2.85zM1311.36 777.57h2.85v2.85h-2.85zM760.44 786.13h2.85v2.85h-2.85zM757.58 788.98h2.85v2.85h-2.85zM754.73 791.84h2.85v2.85h-2.85zM751.88 794.69h2.85v2.85h-2.85zM749.02 797.55h2.85v2.85h-2.85zM746.17 800.4h2.85v2.85h-2.85zM1354.17 823.24h2.85v2.85h-2.85zM1357.03 826.09h2.85v2.85h-2.85zM1359.88 828.95h2.85v2.85h-2.85zM683.37 871.76h2.85v2.85h-2.85zM1428.39 894.6h2.85v2.85h-2.85zM1431.25 897.45h2.85v2.85h-2.85zM1482.63 943.13h2.85v2.85h-2.85zM1482.63 948.84h2.85v2.85h-2.85zM1496.9 948.84h2.85v2.85h-2.85zM1496.9 954.54h2.85v2.85h-2.85zM1525.44 960.25h2.85v2.85h-2.85zM1525.44 965.96h2.85v2.85h-2.85zM1539.72 965.96h2.85v2.85h-2.85zM1539.72 971.67h2.85v2.85h-2.85zM1568.26 977.38h2.85v2.85h-2.85zM1568.26 983.09h2.85v2.85h-2.85zM1582.53 983.09h2.85v2.85h-2.85zM1582.53 988.8h2.85v2.85h-2.85zM1611.08 994.51h2.85v2.85h-2.85zM1611.08 1000.22h2.85v2.85h-2.85zM1625.35 1000.22h2.85v2.85h-2.85zM1625.35 1005.93h2.85v2.85h-2.85zM1653.9 1011.63h2.85v2.85h-2.85zM1653.9 1017.34h2.85v2.85h-2.85zM1705.28 1020.2h2.85v2.85h-2.85zM1671.02 1023.05h2.85v2.85h-2.85zM1745.24 1023.05h2.85v2.85h-2.85zM1710.99 1025.91h2.85v2.85h-2.85zM1750.95 1028.76h2.85v2.85h-2.85zM1790.91 1031.62h2.85v2.85h-2.85z" fill-opacity="0.25"/>
<path d="M1080.14 446.44h2.85v2.85h-2.85zM1085.85 455.01h2.85v2.85h-2.85zM1091.56 463.57h2.85v2.85h-2.85zM1043.03 474.99h2.85v2.85h-2.85zM1111.54 500.68h2.85v2.85h-2.85zM1008.78 509.24h2.85v2.85h-2.85zM1117.25 509.24h2.85v2.85h-2.85zM1011.63 512.1h2.85v2.85h-2.85zM991.65 529.22h2.85v2.85h-2.85zM997.36 529.22h2.85v2.85h-2.85zM1145.8 543.5h2.85v2.85h-2.85zM1151.51 552.06h2.85v2.85h-2.85zM965.96 566.33h2.85v2.85h-2.85zM1177.2 597.73h2.85v2.85h-2.85zM931.71 600.59h2.85v2.85h-2.85zM934.56 603.44h2.85v2.85h-2.85zM914.58 620.57h2.85v2.85h-2.85zM920.29 620.57h2.85v2.85h-2.85zM1194.32 623.42h2.85v2.85h-2.85zM1211.45 640.55h2.85v2.85h-2.85zM888.89 657.68h2.85v2.85h-2.85zM1228.58 666.24h2.85v2.85h-2.85zM1254.27 711.91h2.85v2.85h-2.85zM1259.98 720.48h2.85v2.85h-2.85zM1265.69 729.04h2.85v2.85h-2.85zM1271.39 729.04h2.85v2.85h-2.85zM1268.54 731.89h2.85v2.85h-2.85zM1274.25 731.89h2.85v2.85h-2.85zM1317.07 777.57h2.85v2.85h-2.85zM766.15 780.42h2.85v2.85h-2.85zM771.86 780.42h2.85v2.85h-2.85zM1314.21 780.42h2.85v2.85h-2.85zM1319.92 780.42h2.85v2.85h-2.85zM763.29 783.27h2.85v2.85h-2.85zM769 783.27h2.85v2.85h-2.85zM1317.07 783.27h2.85v2.85h-2.85zM1322.78 783.27h2.85v2.85h-2.85zM674.8 874.62h2.85v2.85h-2.85zM680.51 874.62h2.85v2.85h-2.85zM671.95 877.47h2.85v2.85h-2.85zM677.66 877.47h2.85v2.85h-2.85zM674.8 880.33h2.85v2.85h-2.85zM657.68 888.89h2.85v2.85h-2.85zM657.68 894.6h2.85v2.85h-2.85zM629.13 911.73h2.85v2.85h-2.85zM629.13 917.44h2.85v2.85h-2.85zM614.86 923.15h2.85v2.85h-2.85zM614.86 928.85h2.85v2.85h-2.85zM1474.06 940.27h2.85v2.85h-2.85zM586.31 945.98h2.85v2.85h-2.85zM1476.92 945.98h2.85v2.85h-2.85zM1488.34 945.98h2.85v2.85h-2.85zM586.31 951.69h2.85v2.85h-2.85zM1491.19 951.69h2.85v2.85h-2.85zM572.04 957.4h2.85v2.85h-2.85zM1516.88 957.4h2.85v2.85h-2.85zM572.04 963.11h2.85v2.85h-2.85zM1519.74 963.11h2.85v2.85h-2.85zM1531.15 963.11h2.85v2.85h-2.85zM1534.01 968.82h2.85v2.85h-2.85zM543.5 980.24h2.85v2.85h-2.85zM1562.55 980.24h2.85v2.85h-2.85zM1573.97 980.24h2.85v2.85h-2.85zM543.5 985.94h2.85v2.85h-2.85zM1576.83 985.94h2.85v2.85h-2.85zM1588.24 985.94h2.85v2.85h-2.85zM529.22 991.65h2.85v2.85h-2.85zM529.22 997.36h2.85v2.85h-2.85zM1616.79 997.36h2.85v2.85h-2.85zM1619.64 1003.07h2.85v2.85h-2.85zM1631.06 1003.07h2.85v2.85h-2.85zM1633.92 1008.78h2.85v2.85h-2.85zM500.68 1014.49h2.85v2.85h-2.85zM1659.61 1014.49h2.85v2.85h-2.85zM500.68 1020.2h2.85v2.85h-2.85zM1662.46 1020.2h2.85v2.85h-2.85zM1699.57 1020.2h5.71v2.85h-5.71zM1673.88 1023.05h5.71v2.85h-5.71zM486.41 1025.91h2.85v2.85h-2.85zM1713.84 1025.91h5.71v2.85h-5.71zM1753.8 1028.76h5.71v2.85h-5.71zM486.41 1031.62h2.85v2.85h-2.85zM1793.77 1031.62h5.71v2.85h-5.71zM1859.42 1031.62h5.71v2.85h-5.71zM1836.59 1034.47h2.85v2.85h-2.85z" fill-opacity="0.38"/>
<path d="M1077.29 449.3h2.85v2.85h-2.85zM1083 457.86h2.85v2.85h-2.85zM1040.18 472.13h2.85v2.85h-2.85zM1040.18 477.84h2.85v2.85h-2.85zM1100.12 483.55h2.85v2.85h-2.85zM1108.69 489.26h2.85v2.85h-2.85zM1105.83 492.12h2.85v2.85h-2.85zM1114.4 497.82h2.85v2.85h-2.85zM1120.11 506.39h2.85v2.85h-2.85zM994.51 526.37h2.85v2.85h-2.85zM994.51 532.08h2.85v2.85h-2.85zM1142.94 546.35h2.85v2.85h-2.85zM1148.65 554.91h2.85v2.85h-2.85zM963.11 563.48h2.85v2.85h-2.85zM963.11 569.19h2.85v2.85h-2.85zM1168.63 577.75h2.85v2.85h-2.85zM1165.78 580.61h2.85v2.85h-2.85zM1174.34 586.31h2.85v2.85h-2.85zM1171.49 589.17h2.85v2.85h-2.85zM1180.05 594.88h2.85v2.85h-2.85zM917.44 617.71h2.85v2.85h-2.85zM1197.18 620.57h2.85v2.85h-2.85zM917.44 623.42h2.85v2.85h-2.85zM1208.6 643.4h2.85v2.85h-2.85zM886.04 654.82h2.85v2.85h-2.85zM1225.72 669.09h2.85v2.85h-2.85zM1234.29 674.8h2.85v2.85h-2.85zM1231.43 677.66h2.85v2.85h-2.85zM1239.99 683.37h2.85v2.85h-2.85zM1237.14 686.22h2.85v2.85h-2.85zM1245.7 691.93h2.85v2.85h-2.85zM1262.83 717.62h2.85v2.85h-2.85zM1271.39 734.75h2.85v2.85h-2.85zM766.15 786.13h2.85v2.85h-2.85zM1365.59 828.95h2.85v2.85h-2.85zM677.66 871.76h2.85v2.85h-2.85zM669.09 880.33h2.85v2.85h-2.85zM660.53 891.75h2.85v2.85h-2.85zM626.28 914.58h2.85v2.85h-2.85zM631.99 914.58h2.85v2.85h-2.85zM612 926h2.85v2.85h-2.85zM617.71 926h2.85v2.85h-2.85zM583.46 948.84h2.85v2.85h-2.85zM589.17 948.84h2.85v2.85h-2.85zM569.19 960.25h2.85v2.85h-2.85zM574.9 960.25h2.85v2.85h-2.85zM540.64 983.09h2.85v2.85h-2.85zM546.35 983.09h2.85v2.85h-2.85zM526.37 994.51h2.85v2.85h-2.85zM532.08 994.51h2.85v2.85h-2.85zM497.82 1017.34h2.85v2.85h-2.85zM1679.59 1023.05h2.85v2.85h-2.85zM1719.55 1025.91h5.71v2.85h-5.71zM483.55 1028.76h2.85v2.85h-2.85zM489.26 1028.76h2.85v2.85h-2.85zM1759.51 1028.76h5.71v2.85h-5.71zM1813.75 1028.76h5.71v2.85h-5.71zM1799.48 1031.62h5.71v2.85h-5.71zM1853.71 1031.62h5.71v2.85h-5.71zM1839.44 1034.47h5.71v2.85h-5.71zM474.99 1040.18h2.85v2.85h-2.85z" fill-opacity="0.5"/>
<path d="M1071.58 440.73h2.85v2.85h-2.85zM1077.29 443.59h2.85v2.85h-2.85zM1083 452.15h2.85v2.85h-2.85zM1054.45 460.72h2.85v2.85h-2.85zM1043.03 469.28h2.85v2.85h-2.85zM1011.63 506.39h2.85v2.85h-2.85zM1008.78 514.95h2.85v2.85h-2.85zM997.36 523.52h2.85v2.85h-2.85zM1131.52 529.22h2.85v2.85h-2.85zM1137.23 532.08h2.85v2.85h-2.85zM1137.23 537.79h2.85v2.85h-2.85zM1142.94 540.64h2.85v2.85h-2.85zM1148.65 549.21h2.85v2.85h-2.85zM977.38 552.06h2.85v2.85h-2.85zM965.96 560.62h2.85v2.85h-2.85zM951.69 577.75h2.85v2.85h-2.85zM934.56 597.73h2.85v2.85h-2.85zM931.71 606.3h2.85v2.85h-2.85zM920.29 614.86h2.85v2.85h-2.85zM1197.18 626.28h2.85v2.85h-2.85zM1202.89 629.13h2.85v2.85h-2.85zM1202.89 634.84h2.85v2.85h-2.85zM1208.6 637.7h2.85v2.85h-2.85zM900.31 643.4h2.85v2.85h-2.85zM1214.3 646.26h2.85v2.85h-2.85zM888.89 651.97h2.85v2.85h-2.85zM886.04 660.53h2.85v2.85h-2.85zM874.62 669.09h2.85v2.85h-2.85zM860.35 689.08h2.85v2.85h-2.85zM857.49 691.93h2.85v2.85h-2.85zM854.64 694.79h2.85v2.85h-2.85zM851.78 697.64h2.85v2.85h-2.85zM848.93 700.49h2.85v2.85h-2.85zM1257.12 714.77h2.85v2.85h-2.85zM1262.83 723.33h2.85v2.85h-2.85zM1268.54 726.18h2.85v2.85h-2.85zM1274.25 737.6h2.85v2.85h-2.85zM794.69 751.88h2.85v2.85h-2.85zM791.84 754.73h2.85v2.85h-2.85zM788.98 757.58h2.85v2.85h-2.85zM786.13 760.44h2.85v2.85h-2.85zM1308.5 769h2.85v2.85h-2.85zM1311.36 771.86h2.85v2.85h-2.85zM1314.21 774.71h2.85v2.85h-2.85zM763.29 788.98h2.85v2.85h-2.85zM760.44 791.84h2.85v2.85h-2.85zM757.58 794.69h2.85v2.85h-2.85zM754.73 797.55h2.85v2.85h-2.85zM751.88 800.4h2.85v2.85h-2.85zM749.02 803.26h2.85v2.85h-2.85zM1357.03 820.38h2.85v2.85h-2.85zM1359.88 823.24h2.85v2.85h-2.85zM1362.74 826.09h2.85v2.85h-2.85zM1379.87 848.93h2.85v2.85h-2.85zM1408.41 874.62h2.85v2.85h-2.85zM1422.68 894.6h2.85v2.85h-2.85zM1425.54 897.45h2.85v2.85h-2.85zM1428.39 900.31h2.85v2.85h-2.85zM1471.21 943.13h2.85v2.85h-2.85zM1479.77 943.13h2.85v2.85h-2.85zM1485.48 948.84h2.85v2.85h-2.85zM1494.05 948.84h2.85v2.85h-2.85zM1522.59 960.25h2.85v2.85h-2.85zM1528.3 965.96h2.85v2.85h-2.85zM1536.86 965.96h2.85v2.85h-2.85zM1542.57 971.67h2.85v2.85h-2.85zM1565.41 977.38h2.85v2.85h-2.85zM1571.12 983.09h2.85v2.85h-2.85zM1579.68 983.09h2.85v2.85h-2.85zM1585.39 988.8h2.85v2.85h-2.85zM1608.23 994.51h2.85v2.85h-2.85zM1613.93 1000.22h2.85v2.85h-2.85zM1622.5 1000.22h2.85v2.85h-2.85zM1628.21 1005.93h2.85v2.85h-2.85zM1656.75 1017.34h2.85v2.85h-2.85zM1665.32 1017.34h2.85v2.85h-2.85zM1725.26 1025.91h2.85v2.85h-2.85zM1768.08 1025.91h5.71v2.85h-5.71zM1765.22 1028.76h5.71v2.85h-5.71zM1808.04 1028.76h5.71v2.85h-5.71zM1805.19 1031.62h5.71v2.85h-5.71zM1848 1031.62h5.71v2.85h-5.71zM1845.15 1034.47h5.71v2.85h-5.71z" fill-opacity="0.62"/>
<path d="M1088.71 460.72h2.85v2.85h-2.85zM1051.6 463.57h2.85v2.85h-2.85zM1045.89 466.43h2.85v2.85h-2.85zM1037.33 480.7h2.85v2.85h-2.85zM1031.62 483.55h2.85v2.85h-2.85zM1028.76 486.41h2.85v2.85h-2.85zM1102.98 486.41h5.71v2.85h-5.71zM1108.69 494.97h5.71v2.85h-5.71zM1114.4 503.53h5.71v2.85h-5.71zM1005.93 517.81h2.85v2.85h-2.85zM1000.22 520.66h2.85v2.85h-2.85zM974.53 554.91h2.85v2.85h-2.85zM968.82 557.77h2.85v2.85h-2.85zM960.25 572.04h2.85v2.85h-2.85zM954.54 574.9h2.85v2.85h-2.85zM1162.92 574.9h5.71v2.85h-5.71zM1168.63 583.46h5.71v2.85h-5.71zM1174.34 592.02h5.71v2.85h-5.71zM1180.05 600.59h5.71v2.85h-5.71zM928.85 609.15h2.85v2.85h-2.85zM923.15 612h2.85v2.85h-2.85zM897.45 646.26h2.85v2.85h-2.85zM891.75 649.11h2.85v2.85h-2.85zM883.18 663.39h2.85v2.85h-2.85zM877.47 666.24h2.85v2.85h-2.85zM1228.58 671.95h5.71v2.85h-5.71zM1234.29 680.51h5.71v2.85h-5.71zM1239.99 689.08h5.71v2.85h-5.71zM846.07 703.35h2.85v2.85h-2.85zM843.22 706.2h2.85v2.85h-2.85zM840.36 709.06h2.85v2.85h-2.85zM837.51 711.91h2.85v2.85h-2.85zM834.66 714.77h2.85v2.85h-2.85zM811.82 734.75h2.85v2.85h-2.85zM808.97 737.6h2.85v2.85h-2.85zM806.11 740.46h2.85v2.85h-2.85zM803.26 743.31h2.85v2.85h-2.85zM800.4 746.17h2.85v2.85h-2.85zM797.55 749.02h2.85v2.85h-2.85zM1299.94 760.44h2.85v2.85h-2.85zM1302.79 763.29h2.85v2.85h-2.85zM1305.65 766.15h2.85v2.85h-2.85zM1337.05 803.26h2.85v2.85h-2.85zM746.17 806.11h2.85v2.85h-2.85zM1348.47 811.82h2.85v2.85h-2.85zM1351.32 814.67h2.85v2.85h-2.85zM1354.17 817.53h2.85v2.85h-2.85zM711.91 837.51h2.85v2.85h-2.85zM709.06 840.36h2.85v2.85h-2.85zM706.2 843.22h2.85v2.85h-2.85zM703.35 846.07h2.85v2.85h-2.85zM700.49 848.93h2.85v2.85h-2.85zM697.64 851.78h2.85v2.85h-2.85zM1382.72 851.78h2.85v2.85h-2.85zM1385.57 854.64h2.85v2.85h-2.85zM1388.43 857.49h2.85v2.85h-2.85zM1399.85 866.06h2.85v2.85h-2.85zM1402.7 868.91h2.85v2.85h-2.85zM1405.56 871.76h2.85v2.85h-2.85zM666.24 883.18h2.85v2.85h-2.85zM663.39 888.89h2.85v2.85h-2.85zM1431.25 903.16h2.85v2.85h-2.85zM637.7 906.02h2.85v2.85h-2.85zM1434.1 906.02h2.85v2.85h-2.85zM1436.96 908.87h2.85v2.85h-2.85zM634.84 911.73h2.85v2.85h-2.85zM623.42 917.44h2.85v2.85h-2.85zM1448.37 917.44h2.85v2.85h-2.85zM1451.23 920.29h2.85v2.85h-2.85zM620.57 923.15h2.85v2.85h-2.85zM1471.21 940.27h2.85v2.85h-2.85zM592.02 945.98h2.85v2.85h-2.85zM1479.77 945.98h2.85v2.85h-2.85zM1485.48 945.98h2.85v2.85h-2.85zM580.61 951.69h2.85v2.85h-2.85zM1494.05 951.69h2.85v2.85h-2.85zM577.75 957.4h2.85v2.85h-2.85zM566.33 963.11h2.85v2.85h-2.85zM1522.59 963.11h2.85v2.85h-2.85zM1528.3 963.11h2.85v2.85h-2.85zM1536.86 968.82h2.85v2.85h-2.85zM1542.57 968.82h2.85v2.85h-2.85zM1565.41 980.24h2.85v2.85h-2.85zM1571.12 980.24h2.85v2.85h-2.85zM537.79 985.94h2.85v2.85h-2.85zM1579.68 985.94h2.85v2.85h-2.85zM1585.39 985.94h2.85v2.85h-2.85zM534.93 991.65h2.85v2.85h-2.85zM523.52 997.36h2.85v2.85h-2.85zM1608.23 997.36h2.85v2.85h-2.85zM1613.93 997.36h2.85v2.85h-2.85zM520.66 1003.07h2.85v2.85h-2.85zM1622.5 1003.07h2.85v2.85h-2.85zM1628.21 1003.07h2.85v2.85h-2.85zM1656.75 1014.49h2.85v2.85h-2.85zM494.97 1020.2h2.85v2.85h-2.85zM1665.32 1020.2h2.85v2.85h-2.85zM1725.26 1023.05h2.85v2.85h-2.85zM492.12 1025.91h2.85v2.85h-2.85zM1765.22 1025.91h2.85v2.85h-2.85zM1770.93 1028.76h2.85v2.85h-2.85zM1805.19 1028.76h2.85v2.85h-2.85zM480.7 1031.62h2.85v2.85h-2.85zM1810.89 1031.62h2.85v2.85h-2.85zM1845.15 1031.62h2.85v2.85h-2.85zM1850.86 1034.47h2.85v2.85h-2.85zM477.84 1037.33h2.85v2.85h-2.85z" fill-opacity="0.75"/>
<path d="M1074.43 440.73h2.85v2.85h-2.85zM1074.43 443.59h2.85v2.85h-2.85zM1080.14 449.3h2.85v2.85h-2.85zM1080.14 452.15h2.85v2.85h-2.85zM1085.85 457.86h2.85v2.85h-2.85zM1051.6 460.72h2.85v2.85h-2.85zM1085.85 460.72h2.85v2.85h-2.85zM1048.74 463.57h2.85v2.85h-2.85zM1048.74 466.43h2.85v2.85h-2.85zM1045.89 469.28h2.85v2.85h-2.85zM1034.47 480.7h2.85v2.85h-2.85zM1034.47 483.55h2.85v2.85h-2.85zM1031.62 486.41h2.85v2.85h-2.85zM1003.07 517.81h2.85v2.85h-2.85zM1003.07 520.66h2.85v2.85h-2.85zM1000.22 523.52h2.85v2.85h-2.85zM1134.38 529.22h2.85v2.85h-2.85zM1134.38 532.08h2.85v2.85h-2.85zM1140.09 537.79h2.85v2.85h-2.85zM1140.09 540.64h2.85v2.85h-2.85zM1145.8 546.35h2.85v2.85h-2.85zM1145.8 549.21h2.85v2.85h-2.85zM974.53 552.06h2.85v2.85h-2.85zM971.67 554.91h2.85v2.85h-2.85zM1151.51 554.91h2.85v2.85h-2.85zM971.67 557.77h2.85v2.85h-2.85zM968.82 560.62h2.85v2.85h-2.85zM957.4 572.04h2.85v2.85h-2.85zM957.4 574.9h2.85v2.85h-2.85zM954.54 577.75h2.85v2.85h-2.85zM926 609.15h2.85v2.85h-2.85zM926 612h2.85v2.85h-2.85zM923.15 614.86h2.85v2.85h-2.85zM1194.32 620.57h2.85v2.85h-2.85zM1200.03 626.28h2.85v2.85h-2.85zM1200.03 629.13h2.85v2.85h-2.85zM1205.74 634.84h2.85v2.85h-2.85zM1205.74 637.7h2.85v2.85h-2.85zM897.45 643.4h2.85v2.85h-2.85zM1211.45 643.4h2.85v2.85h-2.85zM894.6 646.26h2.85v2.85h-2.85zM1211.45 646.26h2.85v2.85h-2.85zM894.6 649.11h2.85v2.85h-2.85zM891.75 651.97h2.85v2.85h-2.85zM880.33 663.39h2.85v2.85h-2.85zM880.33 666.24h2.85v2.85h-2.85zM877.47 669.09h2.85v2.85h-2.85zM843.22 703.35h2.85v2.85h-2.85zM840.36 706.2h2.85v2.85h-2.85zM837.51 709.06h2.85v2.85h-2.85zM834.66 711.91h2.85v2.85h-2.85zM831.8 714.77h2.85v2.85h-2.85zM1259.98 714.77h2.85v2.85h-2.85zM1259.98 717.62h2.85v2.85h-2.85zM1265.69 723.33h2.85v2.85h-2.85zM1265.69 726.18h2.85v2.85h-2.85zM814.67 734.75h2.85v2.85h-2.85zM811.82 737.6h2.85v2.85h-2.85zM808.97 740.46h2.85v2.85h-2.85zM806.11 743.31h2.85v2.85h-2.85zM803.26 746.17h2.85v2.85h-2.85zM800.4 749.02h2.85v2.85h-2.85zM1294.23 757.58h5.71v2.85h-5.71zM1297.08 760.44h2.85v2.85h-2.85zM1299.94 763.29h2.85v2.85h-2.85zM1302.79 766.15h2.85v2.85h-2.85zM1339.9 803.26h2.85v2.85h-2.85zM743.31 806.11h2.85v2.85h-2.85zM1339.9 806.11h5.71v2.85h-5.71zM1342.76 808.97h5.71v2.85h-5.71zM1345.61 811.82h2.85v2.85h-2.85zM1348.47 814.67h2.85v2.85h-2.85zM1351.32 817.53h2.85v2.85h-2.85zM1354.17 820.38h2.85v2.85h-2.85zM723.33 826.09h5.71v2.85h-5.71zM720.48 828.95h5.71v2.85h-5.71zM717.62 831.8h5.71v2.85h-5.71zM714.77 834.66h5.71v2.85h-5.71zM714.77 837.51h2.85v2.85h-2.85zM711.91 840.36h2.85v2.85h-2.85zM709.06 843.22h2.85v2.85h-2.85zM706.2 846.07h2.85v2.85h-2.85zM703.35 848.93h2.85v2.85h-2.85zM1382.72 848.93h2.85v2.85h-2.85zM700.49 851.78h2.85v2.85h-2.85zM1385.57 851.78h2.85v2.85h-2.85zM1388.43 854.64h2.85v2.85h-2.85zM1391.28 857.49h2.85v2.85h-2.85zM1391.28 860.35h5.71v2.85h-5.71zM1394.14 863.2h5.71v2.85h-5.71zM1396.99 866.06h2.85v2.85h-2.85zM1399.85 868.91h2.85v2.85h-2.85zM1402.7 871.76h2.85v2.85h-2.85zM663.39 886.04h5.71v2.85h-5.71zM1434.1 903.16h2.85v2.85h-2.85zM1436.96 906.02h2.85v2.85h-2.85zM634.84 908.87h5.71v2.85h-5.71zM1439.81 908.87h2.85v2.85h-2.85zM1439.81 911.73h5.71v2.85h-5.71zM1442.66 914.58h5.71v2.85h-5.71zM1445.52 917.44h2.85v2.85h-2.85zM620.57 920.29h5.71v2.85h-5.71zM1448.37 920.29h2.85v2.85h-2.85zM592.02 943.13h2.85v2.85h-2.85zM577.75 954.54h5.71v2.85h-5.71zM566.33 965.96h2.85v2.85h-2.85zM534.93 988.8h5.71v2.85h-5.71zM520.66 1000.22h5.71v2.85h-5.71zM1679.59 1020.2h2.85v2.85h-2.85zM492.12 1023.05h5.71v2.85h-5.71zM1719.55 1023.05h5.71v2.85h-5.71zM1759.51 1025.91h5.71v2.85h-5.71zM1799.48 1028.76h5.71v2.85h-5.71zM1813.75 1031.62h5.71v2.85h-5.71zM1839.44 1031.62h5.71v2.85h-5.71zM477.84 1034.47h5.71v2.85h-5.71zM1853.71 1034.47h5.71v2.85h-5.71z" fill-opacity="0.88"/>
<path d="M1071.58 437.88h2.85v2.85h-2.85zM1068.72 440.73h2.85v2.85h-2.85zM1077.29 446.44h2.85v2.85h-2.85zM1083 455.01h2.85v2.85h-2.85zM1088.71 463.57h2.85v2.85h-2.85zM1043.03 472.13h2.85v2.85h-2.85zM1040.18 474.99h2.85v2.85h-2.85zM1037.33 477.84h2.85v2.85h-2.85zM1102.98 483.55h2.85v2.85h-2.85zM1105.83 489.26h2.85v2.85h-2.85zM1108.69 492.12h2.85v2.85h-2.85zM1111.54 497.82h2.85v2.85h-2.85zM1114.4 500.68h2.85v2.85h-2.85zM1014.49 506.39h2.85v2.85h-2.85zM1117.25 506.39h2.85v2.85h-2.85zM1011.63 509.24h2.85v2.85h-2.85zM1120.11 509.24h2.85v2.85h-2.85zM1008.78 512.1h2.85v2.85h-2.85zM1005.93 514.95h2.85v2.85h-2.85zM997.36 526.37h2.85v2.85h-2.85zM994.51 529.22h2.85v2.85h-2.85zM991.65 532.08h2.85v2.85h-2.85zM1137.23 534.93h2.85v2.85h-2.85zM1142.94 543.5h2.85v2.85h-2.85zM1148.65 552.06h2.85v2.85h-2.85zM965.96 563.48h2.85v2.85h-2.85zM963.11 566.33h2.85v2.85h-2.85zM960.25 569.19h2.85v2.85h-2.85zM1165.78 577.75h2.85v2.85h-2.85zM1168.63 580.61h2.85v2.85h-2.85zM1171.49 586.31h2.85v2.85h-2.85zM1174.34 589.17h2.85v2.85h-2.85zM1177.2 594.88h2.85v2.85h-2.85zM937.42 597.73h2.85v2.85h-2.85zM1180.05 597.73h2.85v2.85h-2.85zM934.56 600.59h2.85v2.85h-2.85zM931.71 603.44h2.85v2.85h-2.85zM928.85 606.3h2.85v2.85h-2.85zM920.29 617.71h2.85v2.85h-2.85zM917.44 620.57h2.85v2.85h-2.85zM914.58 623.42h2.85v2.85h-2.85zM1197.18 623.42h2.85v2.85h-2.85zM1202.89 631.99h2.85v2.85h-2.85zM1208.6 640.55h2.85v2.85h-2.85zM888.89 654.82h2.85v2.85h-2.85zM886.04 657.68h2.85v2.85h-2.85zM883.18 660.53h2.85v2.85h-2.85zM1225.72 666.24h2.85v2.85h-2.85zM1228.58 669.09h2.85v2.85h-2.85zM1231.43 674.8h2.85v2.85h-2.85zM1234.29 677.66h2.85v2.85h-2.85zM1237.14 683.37h2.85v2.85h-2.85zM1239.99 686.22h2.85v2.85h-2.85zM857.49 689.08h2.85v2.85h-2.85zM854.64 691.93h2.85v2.85h-2.85zM1242.85 691.93h2.85v2.85h-2.85zM851.78 694.79h2.85v2.85h-2.85zM848.93 697.64h2.85v2.85h-2.85zM846.07 700.49h2.85v2.85h-2.85zM1257.12 711.91h2.85v2.85h-2.85zM1262.83 720.48h2.85v2.85h-2.85zM1268.54 729.04h2.85v2.85h-2.85zM1271.39 731.89h2.85v2.85h-2.85zM1274.25 734.75h2.85v2.85h-2.85zM1277.1 737.6h2.85v2.85h-2.85zM797.55 751.88h2.85v2.85h-2.85zM794.69 754.73h2.85v2.85h-2.85zM791.84 757.58h2.85v2.85h-2.85zM788.98 760.44h2.85v2.85h-2.85zM1305.65 769h2.85v2.85h-2.85zM1308.5 771.86h2.85v2.85h-2.85zM1311.36 774.71h2.85v2.85h-2.85zM1314.21 777.57h2.85v2.85h-2.85zM769 780.42h2.85v2.85h-2.85zM1317.07 780.42h2.85v2.85h-2.85zM766.15 783.27h2.85v2.85h-2.85zM1319.92 783.27h2.85v2.85h-2.85zM763.29 786.13h2.85v2.85h-2.85zM760.44 788.98h2.85v2.85h-2.85zM757.58 791.84h2.85v2.85h-2.85zM754.73 794.69h2.85v2.85h-2.85zM751.88 797.55h2.85v2.85h-2.85zM749.02 800.4h2.85v2.85h-2.85zM746.17 803.26h2.85v2.85h-2.85zM1357.03 823.24h2.85v2.85h-2.85zM1359.88 826.09h2.85v2.85h-2.85zM1362.74 828.95h2.85v2.85h-2.85zM680.51 871.76h2.85v2.85h-2.85zM677.66 874.62h2.85v2.85h-2.85zM1405.56 874.62h2.85v2.85h-2.85zM674.8 877.47h2.85v2.85h-2.85zM671.95 880.33h2.85v2.85h-2.85zM669.09 883.18h2.85v2.85h-2.85zM660.53 888.89h2.85v2.85h-2.85zM657.68 891.75h2.85v2.85h-2.85zM1425.54 894.6h2.85v2.85h-2.85zM1428.39 897.45h2.85v2.85h-2.85zM1431.25 900.31h2.85v2.85h-2.85zM631.99 911.73h2.85v2.85h-2.85zM629.13 914.58h2.85v2.85h-2.85zM626.28 917.44h2.85v2.85h-2.85zM617.71 923.15h2.85v2.85h-2.85zM614.86 926h2.85v2.85h-2.85zM612 928.85h2.85v2.85h-2.85zM1474.06 943.13h5.71v2.85h-5.71zM589.17 945.98h2.85v2.85h-2.85zM1482.63 945.98h2.85v2.85h-2.85zM586.31 948.84h2.85v2.85h-2.85zM1488.34 948.84h5.71v2.85h-5.71zM583.46 951.69h2.85v2.85h-2.85zM1496.9 951.69h2.85v2.85h-2.85zM574.9 957.4h2.85v2.85h-2.85zM572.04 960.25h2.85v2.85h-2.85zM1516.88 960.25h5.71v2.85h-5.71zM569.19 963.11h2.85v2.85h-2.85zM1525.44 963.11h2.85v2.85h-2.85zM1531.15 965.96h5.71v2.85h-5.71zM1539.72 968.82h2.85v2.85h-2.85zM1562.55 977.38h2.85v2.85h-2.85zM546.35 980.24h2.85v2.85h-2.85zM1568.26 980.24h2.85v2.85h-2.85zM543.5 983.09h2.85v2.85h-2.85zM1573.97 983.09h5.71v2.85h-5.71zM540.64 985.94h2.85v2.85h-2.85zM1582.53 985.94h2.85v2.85h-2.85zM1588.24 988.8h2.85v2.85h-2.85zM532.08 991.65h2.85v2.85h-2.85zM529.22 994.51h2.85v2.85h-2.85zM526.37 997.36h2.85v2.85h-2.85zM1611.08 997.36h2.85v2.85h-2.85zM1616.79 1000.22h5.71v2.85h-5.71zM1625.35 1003.07h2.85v2.85h-2.85zM1631.06 1005.93h5.71v2.85h-5.71zM1653.9 1014.49h2.85v2.85h-2.85zM500.68 1017.34h2.85v2.85h-2.85zM1659.61 1017.34h5.71v2.85h-5.71zM497.82 1020.2h2.85v2.85h-2.85zM1668.17 1020.2h11.42v2.85h-11.42zM1699.57 1023.05h19.98v2.85h-19.98zM489.26 1025.91h2.85v2.85h-2.85zM1745.24 1025.91h14.27v2.85h-14.27zM486.41 1028.76h2.85v2.85h-2.85zM1790.91 1028.76h8.56v2.85h-8.56zM483.55 1031.62h2.85v2.85h-2.85zM1836.59 1031.62h2.85v2.85h-2.85zM1859.42 1034.47h5.71v2.85h-5.71zM474.99 1037.33h2.85v2.85h-2.85z"/>
<rect x="460.72" y="1028.76" width="25.69" height="25.69"/>
<rect x="660.53" y="868.91" width="25.69" height="25.69"/>
<rect x="860.35" y="663.39" width="25.69" height="25.69"/>
<rect x="1060.16" y="426.46" width="25.69" height="25.69"/>
<rect x="1257.12" y="717.62" width="25.69" height="25.69"/>
<rect x="1456.94" y="928.85" width="25.69" height="25.69"/>
<rect x="1656.75" y="1008.78" width="25.69" height="25.69"/>
<rect x="1856.57" y="1023.05" width="25.69" height="25.69"/>
</g>
<g fill="#ff0000">
<path d="M1065.87 369.37h2.85v2.85h-2.85zM1071.58 372.23h2.85v2.85h-2.85zM1074.43 377.94h2.85v2.85h-2.85zM1083 380.79h2.85v2.85h-2.85zM1085.85 386.5h2.85v2.85h-2.85zM1057.31 392.21h2.85v2.85h-2.85zM1045.89 397.92h2.85v2.85h-2.85zM1051.6 400.77h2.85v2.85h-2.85zM1040.18 406.48h2.85v2.85h-2.85zM1097.27 406.48h2.85v2.85h-2.85zM1034.47 415.04h2.85v2.85h-2.85zM1097.27 417.9h2.85v2.85h-2.85zM1100.12 423.61h2.85v2.85h-2.85zM1108.69 426.46h2.85v2.85h-2.85zM1111.54 432.17h2.85v2.85h-2.85zM1020.2 435.03h2.85v2.85h-2.85zM1025.91 437.88h2.85v2.85h-2.85zM1014.49 443.59h2.85v2.85h-2.85zM1008.78 452.15h2.85v2.85h-2.85zM1122.96 452.15h2.85v2.85h-2.85zM1011.63 457.86h2.85v2.85h-2.85zM1122.96 463.57h2.85v2.85h-2.85zM1125.81 469.28h2.85v2.85h-2.85zM1134.38 472.13h2.85v2.85h-2.85zM1137.23 477.84h2.85v2.85h-2.85zM988.8 480.7h2.85v2.85h-2.85zM983.09 489.26h2.85v2.85h-2.85zM985.94 494.97h2.85v2.85h-2.85zM1148.65 497.82h2.85v2.85h-2.85zM980.24 503.53h2.85v2.85h-2.85zM1151.51 503.53h2.85v2.85h-2.85zM1151.51 514.95h2.85v2.85h-2.85zM1160.07 517.81h2.85v2.85h-2.85zM1154.36 520.66h2.85v2.85h-2.85zM1162.92 523.52h2.85v2.85h-2.85zM957.4 526.37h2.85v2.85h-2.85zM960.25 532.08h2.85v2.85h-2.85zM954.54 540.64h2.85v2.85h-2.85zM1174.34 543.5h2.85v2.85h-2.85zM943.13 546.35h2.85v2.85h-2.85zM948.84 549.21h2.85v2.85h-2.85zM1177.2 549.21h2.85v2.85h-2.85zM1177.2 560.62h2.85v2.85h-2.85zM1185.76 563.48h2.85v2.85h-2.85zM1180.05 566.33h2.85v2.85h-2.85zM1188.61 569.19h2.85v2.85h-2.85zM928.85 577.75h2.85v2.85h-2.85zM917.44 583.46h2.85v2.85h-2.85zM923.15 586.31h2.85v2.85h-2.85zM1200.03 589.17h2.85v2.85h-2.85zM911.73 592.02h2.85v2.85h-2.85zM1202.89 594.88h2.85v2.85h-2.85zM1202.89 606.3h2.85v2.85h-2.85zM1205.74 612h2.85v2.85h-2.85zM1214.3 614.86h2.85v2.85h-2.85zM891.75 620.57h2.85v2.85h-2.85zM897.45 623.42h2.85v2.85h-2.85zM886.04 629.13h2.85v2.85h-2.85zM1225.72 634.84h2.85v2.85h-2.85zM880.33 637.7h2.85v2.85h-2.85zM1220.01 637.7h2.85v2.85h-2.85zM1228.58 640.55h2.85v2.85h-2.85zM883.18 643.4h2.85v2.85h-2.85zM1228.58 651.97h2.85v2.85h-2.85zM1231.43 657.68h2.85v2.85h-2.85zM1239.99 660.53h2.85v2.85h-2.85zM868.91 663.39h2.85v2.85h-2.85zM866.06 666.24h2.85v2.85h-2.85zM851.78 674.8h2.85v2.85h-2.85zM854.64 680.51h2.85v2.85h-2.85zM1251.41 680.51h2.85v2.85h-2.85zM1245.7 683.37h2.85v2.85h-2.85zM1254.27 686.22h2.85v2.85h-2.85zM840.36 689.08h2.85v2.85h-2.85zM1254.27 697.64h2.85v2.85h-2.85zM1257.12 703.35h2.85v2.85h-2.85zM1265.69 706.2h2.85v2.85h-2.85zM828.95 711.91h2.85v2.85h-2.85zM814.67 720.48h2.85v2.85h-2.85zM817.53 726.18h2.85v2.85h-2.85zM1279.96 726.18h2.85v2.85h-2.85zM1274.25 729.04h2.85v2.85h-2.85zM1277.1 731.89h2.85v2.85h-2.85zM803.26 734.75h2.85v2.85h-2.85zM1294.23 743.31h2.85v2.85h-2.85zM1297.08 746.17h2.85v2.85h-2.85zM1294.23 751.88h2.85v2.85h-2.85zM791.84 757.58h2.85v2.85h-2.85zM777.57 766.15h2.85v2.85h-2.85zM774.71 769h2.85v2.85h-2.85zM780.42 771.86h2.85v2.85h-2.85zM1311.36 771.86h2.85v2.85h-2.85zM1314.21 774.71h2.85v2.85h-2.85zM1331.34 786.13h2.85v2.85h-2.85zM1334.19 788.98h2.85v2.85h-2.85zM1328.48 791.84h2.85v2.85h-2.85zM1331.34 794.69h2.85v2.85h-2.85zM754.73 803.26h2.85v2.85h-2.85zM740.46 811.82h2.85v2.85h-2.85zM737.6 814.67h2.85v2.85h-2.85zM743.31 817.53h2.85v2.85h-2.85zM1351.32 817.53h2.85v2.85h-2.85zM740.46 820.38h2.85v2.85h-2.85zM1368.45 828.95h2.85v2.85h-2.85zM1371.3 831.8h2.85v2.85h-2.85zM1365.59 834.66h2.85v2.85h-2.85zM1368.45 837.51h2.85v2.85h-2.85zM717.62 848.93h2.85v2.85h-2.85zM703.35 857.49h2.85v2.85h-2.85zM700.49 860.35h2.85v2.85h-2.85zM706.2 863.2h2.85v2.85h-2.85zM703.35 866.06h2.85v2.85h-2.85zM1405.56 871.76h2.85v2.85h-2.85zM1408.41 874.62h2.85v2.85h-2.85zM1402.7 877.47h2.85v2.85h-2.85zM1405.56 880.33h2.85v2.85h-2.85zM674.8 891.75h2.85v2.85h-2.85zM680.51 894.6h2.85v2.85h-2.85zM660.53 906.02h2.85v2.85h-2.85zM666.24 908.87h2.85v2.85h-2.85zM1439.81 911.73h2.85v2.85h-2.85zM1442.66 914.58h2.85v2.85h-2.85zM1439.81 920.29h2.85v2.85h-2.85zM1442.66 923.15h2.85v2.85h-2.85zM629.13 931.71h2.85v2.85h-2.85zM626.28 934.56h2.85v2.85h-2.85zM634.84 934.56h2.85v2.85h-2.85zM1459.79 934.56h2.85v2.85h-2.85zM631.99 937.42h2.85v2.85h-2.85zM612 945.98h2.85v2.85h-2.85zM617.71 948.84h2.85v2.85h-2.85zM614.86 951.69h2.85v2.85h-2.85zM1482.63 951.69h2.85v2.85h-2.85zM1488.34 954.54h2.85v2.85h-2.85zM1479.77 957.4h2.85v2.85h-2.85zM592.02 963.11h2.85v2.85h-2.85zM1499.75 965.96h2.85v2.85h-2.85zM577.75 974.53h2.85v2.85h-2.85zM1534.01 974.53h2.85v2.85h-2.85zM583.46 977.38h2.85v2.85h-2.85zM1525.44 977.38h2.85v2.85h-2.85zM1539.72 977.38h2.85v2.85h-2.85zM1545.43 985.94h2.85v2.85h-2.85zM566.33 991.65h2.85v2.85h-2.85zM1571.12 997.36h2.85v2.85h-2.85zM1585.39 997.36h2.85v2.85h-2.85zM546.35 1000.22h2.85v2.85h-2.85zM1576.83 1000.22h2.85v2.85h-2.85zM1591.1 1000.22h2.85v2.85h-2.85zM543.5 1003.07h2.85v2.85h-2.85zM1616.79 1011.63h2.85v2.85h-2.85zM529.22 1014.49h2.85v2.85h-2.85zM526.37 1017.34h2.85v2.85h-2.85zM534.93 1017.34h2.85v2.85h-2.85zM532.08 1020.2h2.85v2.85h-2.85zM1622.5 1020.2h2.85v2.85h-2.85zM1636.77 1020.2h2.85v2.85h-2.85zM1628.21 1023.05h2.85v2.85h-2.85zM1662.46 1031.62h2.85v2.85h-2.85zM1668.17 1034.47h2.85v2.85h-2.85zM1668.17 1040.18h2.85v2.85h-2.85zM1708.13 1040.18h2.85v2.85h-2.85zM494.97 1043.03h2.85v2.85h-2.85zM1728.11 1043.03h2.85v2.85h-2.85zM492.12 1045.89h2.85v2.85h-2.85zM500.68 1045.89h2.85v2.85h-2.85zM1708.13 1045.89h2.85v2.85h-2.85zM497.82 1048.74h2.85v2.85h-2.85zM1728.11 1048.74h2.85v2.85h-2.85zM1768.08 1048.74h2.85v2.85h-2.85zM1768.08 1054.45h2.85v2.85h-2.85zM1808.04 1054.45h2.85v2.85h-2.85zM477.84 1057.31h2.85v2.85h-2.85zM483.55 1060.16h2.85v2.85h-2.85zM1808.04 1060.16h2.85v2.85h-2.85zM1848 1060.16h2.85v2.85h-2.85zM1867.98 1063.02h2.85v2.85h-2.85zM1848 1065.87h2.85v2.85h-2.85zM1867.98 1068.72h2.85v2.85h-2.85z" fill-opacity="0.12"/>
<path d="M1068.72 366.52h2.85v2.85h-2.85zM1074.43 366.52h2.85v2.85h-2.85zM1048.74 395.06h2.85v2.85h-2.85zM1043.03 403.63h2.85v2.85h-2.85zM1048.74 403.63h2.85v2.85h-2.85zM1043.03 412.19h2.85v2.85h-2.85zM1094.42 412.19h2.85v2.85h-2.85zM1100.12 412.19h2.85v2.85h-2.85zM1023.05 440.73h2.85v2.85h-2.85zM1017.34 449.3h2.85v2.85h-2.85zM1120.11 457.86h2.85v2.85h-2.85zM1125.81 457.86h2.85v2.85h-2.85zM1003.07 460.72h2.85v2.85h-2.85zM991.65 486.41h2.85v2.85h-2.85zM977.38 497.82h2.85v2.85h-2.85zM971.67 506.39h2.85v2.85h-2.85zM1148.65 509.24h2.85v2.85h-2.85zM1154.36 509.24h2.85v2.85h-2.85zM951.69 534.93h2.85v2.85h-2.85zM945.98 543.5h2.85v2.85h-2.85zM945.98 552.06h2.85v2.85h-2.85zM1174.34 554.91h2.85v2.85h-2.85zM1180.05 554.91h2.85v2.85h-2.85zM926 572.04h2.85v2.85h-2.85zM920.29 580.61h2.85v2.85h-2.85zM920.29 589.17h2.85v2.85h-2.85zM914.58 597.73h2.85v2.85h-2.85zM1200.03 600.59h2.85v2.85h-2.85zM1205.74 600.59h2.85v2.85h-2.85zM894.6 617.71h2.85v2.85h-2.85zM900.31 617.71h2.85v2.85h-2.85zM894.6 626.28h2.85v2.85h-2.85zM888.89 634.84h2.85v2.85h-2.85zM1225.72 646.26h2.85v2.85h-2.85zM1231.43 646.26h2.85v2.85h-2.85zM863.2 669.09h2.85v2.85h-2.85zM854.64 671.95h2.85v2.85h-2.85zM851.78 683.37h2.85v2.85h-2.85zM843.22 686.22h2.85v2.85h-2.85zM1251.41 691.93h2.85v2.85h-2.85zM1257.12 691.93h2.85v2.85h-2.85zM826.09 714.77h2.85v2.85h-2.85zM817.53 717.62h2.85v2.85h-2.85zM814.67 729.04h2.85v2.85h-2.85zM806.11 731.89h2.85v2.85h-2.85zM1279.96 734.75h2.85v2.85h-2.85zM1282.81 737.6h2.85v2.85h-2.85zM1291.38 740.46h2.85v2.85h-2.85zM788.98 760.44h2.85v2.85h-2.85zM780.42 763.29h2.85v2.85h-2.85zM777.57 774.71h2.85v2.85h-2.85zM1317.07 777.57h2.85v2.85h-2.85zM766.15 780.42h2.85v2.85h-2.85zM1328.48 783.27h2.85v2.85h-2.85zM1334.19 797.55h2.85v2.85h-2.85zM751.88 806.11h2.85v2.85h-2.85zM743.31 808.97h2.85v2.85h-2.85zM1354.17 820.38h2.85v2.85h-2.85zM737.6 823.24h2.85v2.85h-2.85zM729.04 826.09h2.85v2.85h-2.85zM1365.59 826.09h2.85v2.85h-2.85zM1371.3 840.36h2.85v2.85h-2.85zM714.77 851.78h2.85v2.85h-2.85zM706.2 854.64h2.85v2.85h-2.85zM1391.28 863.2h2.85v2.85h-2.85zM1399.85 866.06h2.85v2.85h-2.85zM700.49 868.91h2.85v2.85h-2.85zM1402.7 868.91h2.85v2.85h-2.85zM691.93 871.76h2.85v2.85h-2.85zM1408.41 883.18h2.85v2.85h-2.85zM1419.83 888.89h2.85v2.85h-2.85zM677.66 897.45h2.85v2.85h-2.85zM669.09 906.02h2.85v2.85h-2.85zM657.68 908.87h2.85v2.85h-2.85zM1436.96 908.87h2.85v2.85h-2.85zM1445.52 926h2.85v2.85h-2.85zM1454.08 928.85h2.85v2.85h-2.85zM637.7 931.71h2.85v2.85h-2.85zM1456.94 931.71h2.85v2.85h-2.85zM623.42 937.42h2.85v2.85h-2.85zM620.57 945.98h2.85v2.85h-2.85zM1494.05 957.4h2.85v2.85h-2.85zM1494.05 963.11h2.85v2.85h-2.85zM589.17 965.96h2.85v2.85h-2.85zM586.31 974.53h2.85v2.85h-2.85zM574.9 977.38h2.85v2.85h-2.85zM1545.43 980.24h2.85v2.85h-2.85zM1539.72 983.09h2.85v2.85h-2.85zM569.19 988.8h2.85v2.85h-2.85zM1571.12 991.65h2.85v2.85h-2.85zM540.64 1005.93h2.85v2.85h-2.85zM1591.1 1005.93h2.85v2.85h-2.85zM537.79 1014.49h2.85v2.85h-2.85zM1622.5 1014.49h2.85v2.85h-2.85zM1616.79 1017.34h2.85v2.85h-2.85zM523.52 1020.2h2.85v2.85h-2.85zM520.66 1028.76h2.85v2.85h-2.85zM1685.3 1037.33h2.85v2.85h-2.85zM1671.02 1040.18h2.85v2.85h-2.85zM1705.28 1040.18h2.85v2.85h-2.85zM1725.26 1043.03h2.85v2.85h-2.85zM1710.99 1045.89h2.85v2.85h-2.85zM489.26 1048.74h2.85v2.85h-2.85zM1730.97 1048.74h2.85v2.85h-2.85zM1765.22 1048.74h2.85v2.85h-2.85zM1750.95 1051.6h2.85v2.85h-2.85zM1770.93 1054.45h2.85v2.85h-2.85zM1805.19 1054.45h2.85v2.85h-2.85zM486.41 1057.31h2.85v2.85h-2.85zM474.99 1060.16h2.85v2.85h-2.85zM1810.89 1060.16h2.85v2.85h-2.85zM1845.15 1060.16h2.85v2.85h-2.85zM1865.13 1063.02h2.85v2.85h-2.85zM1850.86 1065.87h2.85v2.85h-2.85z" fill-opacity="0.25"/>
<path d="M1077.29 372.23h2.85v2.85h-2.85zM1077.29 380.79h2.85v2.85h-2.85zM1080.14 386.5h2.85v2.85h-2.85zM1054.45 395.06h2.85v2.85h-2.85zM1091.56 406.48h2.85v2.85h-2.85zM1037.33 412.19h2.85v2.85h-2.85zM1102.98 417.9h2.85v2.85h-2.85zM1105.83 432.17h2.85v2.85h-2.85zM1017.34 440.73h2.85v2.85h-2.85zM1011.63 449.3h2.85v2.85h-2.85zM1117.25 452.15h2.85v2.85h-2.85zM1008.78 460.72h2.85v2.85h-2.85zM1128.67 463.57h2.85v2.85h-2.85zM1131.52 469.28h2.85v2.85h-2.85zM1131.52 477.84h2.85v2.85h-2.85zM985.94 486.41h2.85v2.85h-2.85zM983.09 497.82h2.85v2.85h-2.85zM1142.94 497.82h2.85v2.85h-2.85zM1145.8 503.53h2.85v2.85h-2.85zM977.38 506.39h2.85v2.85h-2.85zM1157.21 514.95h2.85v2.85h-2.85zM1157.21 523.52h2.85v2.85h-2.85zM957.4 534.93h2.85v2.85h-2.85zM951.69 543.5h2.85v2.85h-2.85zM1171.49 549.21h2.85v2.85h-2.85zM940.27 552.06h2.85v2.85h-2.85zM1182.9 560.62h2.85v2.85h-2.85zM1182.9 569.19h2.85v2.85h-2.85zM931.71 572.04h2.85v2.85h-2.85zM926 580.61h2.85v2.85h-2.85zM914.58 589.17h2.85v2.85h-2.85zM1197.18 594.88h2.85v2.85h-2.85zM1208.6 606.3h2.85v2.85h-2.85zM1208.6 614.86h2.85v2.85h-2.85zM888.89 626.28h2.85v2.85h-2.85zM1222.87 640.55h2.85v2.85h-2.85zM1234.29 651.97h2.85v2.85h-2.85zM857.49 669.09h2.85v2.85h-2.85zM848.93 686.22h2.85v2.85h-2.85zM1248.56 686.22h2.85v2.85h-2.85zM1259.98 697.64h2.85v2.85h-2.85zM1262.83 703.35h2.85v2.85h-2.85zM811.82 731.89h2.85v2.85h-2.85zM1288.52 737.6h2.85v2.85h-2.85zM786.13 763.29h2.85v2.85h-2.85zM769 777.57h2.85v2.85h-2.85zM774.71 777.57h2.85v2.85h-2.85zM1319.92 780.42h2.85v2.85h-2.85zM1325.63 780.42h2.85v2.85h-2.85zM749.02 808.97h2.85v2.85h-2.85zM731.89 823.24h2.85v2.85h-2.85zM1357.03 823.24h2.85v2.85h-2.85zM1362.74 823.24h2.85v2.85h-2.85zM1374.16 843.22h2.85v2.85h-2.85zM1379.87 843.22h2.85v2.85h-2.85zM711.91 854.64h2.85v2.85h-2.85zM1396.99 863.2h2.85v2.85h-2.85zM1394.14 866.06h2.85v2.85h-2.85zM694.79 868.91h2.85v2.85h-2.85zM1411.26 886.04h2.85v2.85h-2.85zM1416.97 886.04h2.85v2.85h-2.85zM674.8 900.31h2.85v2.85h-2.85zM637.7 926h2.85v2.85h-2.85zM1448.37 928.85h2.85v2.85h-2.85zM1482.63 957.4h2.85v2.85h-2.85zM1488.34 960.25h2.85v2.85h-2.85zM1499.75 960.25h2.85v2.85h-2.85zM589.17 971.67h2.85v2.85h-2.85zM1525.44 971.67h2.85v2.85h-2.85zM572.04 980.24h2.85v2.85h-2.85zM1534.01 980.24h2.85v2.85h-2.85zM572.04 985.94h2.85v2.85h-2.85zM1576.83 994.51h2.85v2.85h-2.85zM1585.39 1003.07h2.85v2.85h-2.85zM537.79 1008.78h2.85v2.85h-2.85zM1628.21 1017.34h2.85v2.85h-2.85zM1636.77 1025.91h2.85v2.85h-2.85zM1662.46 1037.33h2.85v2.85h-2.85zM489.26 1054.45h2.85v2.85h-2.85z" fill-opacity="0.38"/>
<path d="M1080.14 377.94h2.85v2.85h-2.85zM1051.6 392.21h2.85v2.85h-2.85zM1040.18 415.04h2.85v2.85h-2.85zM1105.83 423.61h2.85v2.85h-2.85zM1102.98 426.46h2.85v2.85h-2.85zM1014.49 452.15h2.85v2.85h-2.85zM1005.93 457.86h2.85v2.85h-2.85zM1128.67 472.13h2.85v2.85h-2.85zM994.51 480.7h2.85v2.85h-2.85zM988.8 489.26h2.85v2.85h-2.85zM980.24 494.97h2.85v2.85h-2.85zM974.53 503.53h2.85v2.85h-2.85zM1154.36 517.81h2.85v2.85h-2.85zM1160.07 520.66h2.85v2.85h-2.85zM963.11 526.37h2.85v2.85h-2.85zM954.54 532.08h2.85v2.85h-2.85zM948.84 540.64h2.85v2.85h-2.85zM1168.63 543.5h2.85v2.85h-2.85zM1180.05 563.48h2.85v2.85h-2.85zM1185.76 566.33h2.85v2.85h-2.85zM1194.32 589.17h2.85v2.85h-2.85zM917.44 592.02h2.85v2.85h-2.85zM908.87 597.73h2.85v2.85h-2.85zM1211.45 612h2.85v2.85h-2.85zM891.75 629.13h2.85v2.85h-2.85zM883.18 634.84h2.85v2.85h-2.85zM1220.01 634.84h2.85v2.85h-2.85zM886.04 637.7h2.85v2.85h-2.85zM1225.72 637.7h2.85v2.85h-2.85zM877.47 643.4h2.85v2.85h-2.85zM1237.14 657.68h2.85v2.85h-2.85zM1234.29 660.53h2.85v2.85h-2.85zM860.35 671.95h2.85v2.85h-2.85zM1245.7 680.51h2.85v2.85h-2.85zM846.07 683.37h2.85v2.85h-2.85zM1251.41 683.37h2.85v2.85h-2.85zM846.07 689.08h2.85v2.85h-2.85zM1259.98 706.2h2.85v2.85h-2.85zM820.38 714.77h2.85v2.85h-2.85zM823.24 717.62h2.85v2.85h-2.85zM808.97 729.04h2.85v2.85h-2.85zM808.97 734.75h2.85v2.85h-2.85zM1285.67 734.75h2.85v2.85h-2.85zM1285.67 740.46h2.85v2.85h-2.85zM783.27 760.44h2.85v2.85h-2.85zM771.86 774.71h2.85v2.85h-2.85zM1322.78 777.57h2.85v2.85h-2.85zM771.86 780.42h2.85v2.85h-2.85zM1322.78 783.27h2.85v2.85h-2.85zM746.17 806.11h2.85v2.85h-2.85zM746.17 811.82h2.85v2.85h-2.85zM734.75 820.38h2.85v2.85h-2.85zM1359.88 820.38h2.85v2.85h-2.85zM734.75 826.09h2.85v2.85h-2.85zM1359.88 826.09h2.85v2.85h-2.85zM1377.01 840.36h2.85v2.85h-2.85zM709.06 851.78h2.85v2.85h-2.85zM709.06 857.49h2.85v2.85h-2.85zM697.64 866.06h2.85v2.85h-2.85zM697.64 871.76h2.85v2.85h-2.85zM1414.12 883.18h2.85v2.85h-2.85zM1414.12 888.89h2.85v2.85h-2.85zM671.95 897.45h2.85v2.85h-2.85zM669.09 900.31h2.85v2.85h-2.85zM1431.25 908.87h2.85v2.85h-2.85zM657.68 914.58h2.85v2.85h-2.85zM1451.23 926h2.85v2.85h-2.85zM1451.23 931.71h2.85v2.85h-2.85zM620.57 940.27h2.85v2.85h-2.85zM623.42 943.13h2.85v2.85h-2.85zM1479.77 951.69h2.85v2.85h-2.85zM1476.92 954.54h2.85v2.85h-2.85zM1485.48 954.54h2.85v2.85h-2.85zM1502.61 965.96h2.85v2.85h-2.85zM586.31 968.82h2.85v2.85h-2.85zM592.02 968.82h2.85v2.85h-2.85zM1531.15 974.53h2.85v2.85h-2.85zM1528.3 977.38h2.85v2.85h-2.85zM569.19 983.09h2.85v2.85h-2.85zM574.9 983.09h2.85v2.85h-2.85zM1582.53 997.36h2.85v2.85h-2.85zM1579.68 1000.22h2.85v2.85h-2.85zM540.64 1011.63h2.85v2.85h-2.85zM1633.92 1020.2h2.85v2.85h-2.85zM520.66 1023.05h2.85v2.85h-2.85zM1631.06 1023.05h2.85v2.85h-2.85zM523.52 1025.91h2.85v2.85h-2.85zM1659.61 1031.62h2.85v2.85h-2.85zM1682.44 1037.33h2.85v2.85h-2.85zM1673.88 1040.18h2.85v2.85h-2.85zM1722.41 1043.03h2.85v2.85h-2.85zM1713.84 1045.89h2.85v2.85h-2.85zM1762.37 1048.74h2.85v2.85h-2.85zM486.41 1051.6h2.85v2.85h-2.85zM492.12 1051.6h2.85v2.85h-2.85zM1753.8 1051.6h2.85v2.85h-2.85zM1773.79 1054.45h2.85v2.85h-2.85zM1802.33 1054.45h2.85v2.85h-2.85zM1822.31 1057.31h2.85v2.85h-2.85zM1813.75 1060.16h2.85v2.85h-2.85zM1842.29 1060.16h2.85v2.85h-2.85zM1862.28 1063.02h2.85v2.85h-2.85zM474.99 1065.87h2.85v2.85h-2.85zM1853.71 1065.87h2.85v2.85h-2.85z" fill-opacity="0.5"/>
<path d="M1074.43 375.08h2.85v2.85h-2.85zM1083 383.64h2.85v2.85h-2.85zM1051.6 397.92h2.85v2.85h-2.85zM1045.89 400.77h2.85v2.85h-2.85zM1045.89 406.48h2.85v2.85h-2.85zM1040.18 409.34h2.85v2.85h-2.85zM1097.27 409.34h2.85v2.85h-2.85zM1100.12 420.75h2.85v2.85h-2.85zM1108.69 429.32h2.85v2.85h-2.85zM1025.91 435.03h2.85v2.85h-2.85zM1020.2 437.88h2.85v2.85h-2.85zM1020.2 443.59h2.85v2.85h-2.85zM1122.96 455.01h2.85v2.85h-2.85zM1125.81 466.43h2.85v2.85h-2.85zM1134.38 474.99h2.85v2.85h-2.85zM1148.65 500.68h2.85v2.85h-2.85zM1151.51 512.1h2.85v2.85h-2.85zM948.84 546.35h2.85v2.85h-2.85zM1174.34 546.35h2.85v2.85h-2.85zM943.13 549.21h2.85v2.85h-2.85zM1177.2 557.77h2.85v2.85h-2.85zM923.15 577.75h2.85v2.85h-2.85zM923.15 583.46h2.85v2.85h-2.85zM917.44 586.31h2.85v2.85h-2.85zM1200.03 592.02h2.85v2.85h-2.85zM1205.74 609.15h2.85v2.85h-2.85zM897.45 620.57h2.85v2.85h-2.85zM891.75 623.42h2.85v2.85h-2.85zM1228.58 643.4h2.85v2.85h-2.85zM1231.43 654.82h2.85v2.85h-2.85zM860.35 666.24h2.85v2.85h-2.85zM857.49 674.8h2.85v2.85h-2.85zM848.93 680.51h2.85v2.85h-2.85zM1254.27 689.08h2.85v2.85h-2.85zM1257.12 700.49h2.85v2.85h-2.85zM823.24 711.91h2.85v2.85h-2.85zM820.38 720.48h2.85v2.85h-2.85zM1288.52 743.31h2.85v2.85h-2.85zM786.13 757.58h2.85v2.85h-2.85zM783.27 766.15h2.85v2.85h-2.85zM1319.92 774.71h2.85v2.85h-2.85zM1325.63 786.13h2.85v2.85h-2.85zM1339.9 797.55h2.85v2.85h-2.85zM749.02 803.26h2.85v2.85h-2.85zM1357.03 817.53h2.85v2.85h-2.85zM1362.74 828.95h2.85v2.85h-2.85zM1374.16 837.51h2.85v2.85h-2.85zM1396.99 868.91h2.85v2.85h-2.85zM1411.26 880.33h2.85v2.85h-2.85zM660.53 911.73h2.85v2.85h-2.85zM1434.1 911.73h2.85v2.85h-2.85zM1448.37 923.15h2.85v2.85h-2.85zM634.84 928.85h2.85v2.85h-2.85zM626.28 940.27h2.85v2.85h-2.85zM617.71 943.13h2.85v2.85h-2.85zM1491.19 957.4h2.85v2.85h-2.85zM1496.9 963.11h2.85v2.85h-2.85zM583.46 971.67h2.85v2.85h-2.85zM1522.59 974.53h2.85v2.85h-2.85zM1536.86 977.38h2.85v2.85h-2.85zM1548.28 985.94h2.85v2.85h-2.85zM1573.97 997.36h2.85v2.85h-2.85zM1588.24 1000.22h2.85v2.85h-2.85zM543.5 1008.78h2.85v2.85h-2.85zM534.93 1011.63h2.85v2.85h-2.85zM1613.93 1011.63h2.85v2.85h-2.85zM1619.64 1017.34h2.85v2.85h-2.85zM1625.35 1020.2h2.85v2.85h-2.85zM526.37 1023.05h2.85v2.85h-2.85zM1639.62 1023.05h2.85v2.85h-2.85zM1665.32 1034.47h2.85v2.85h-2.85zM1679.59 1037.33h2.85v2.85h-2.85zM500.68 1040.18h2.85v2.85h-2.85zM1676.73 1040.18h2.85v2.85h-2.85zM1719.55 1043.03h2.85v2.85h-2.85zM1716.7 1045.89h2.85v2.85h-2.85zM1759.51 1048.74h2.85v2.85h-2.85zM1756.66 1051.6h2.85v2.85h-2.85zM483.55 1054.45h2.85v2.85h-2.85zM1776.64 1054.45h2.85v2.85h-2.85zM1799.48 1054.45h2.85v2.85h-2.85zM1796.62 1057.31h2.85v2.85h-2.85zM1819.46 1057.31h2.85v2.85h-2.85zM1816.6 1060.16h2.85v2.85h-2.85zM1859.42 1063.02h2.85v2.85h-2.85zM1856.57 1065.87h2.85v2.85h-2.85z" fill-opacity="0.62"/>
<path d="M1071.58 369.37h5.71v2.85h-5.71zM1054.45 389.35h5.71v2.85h-5.71zM1097.27 415.04h5.71v2.85h-5.71zM1014.49 446.44h2.85v2.85h-2.85zM1008.78 455.01h5.71v2.85h-5.71zM1122.96 460.72h5.71v2.85h-5.71zM988.8 483.55h2.85v2.85h-2.85zM983.09 492.12h5.71v2.85h-5.71zM980.24 500.68h2.85v2.85h-2.85zM1148.65 506.39h5.71v2.85h-5.71zM957.4 529.22h5.71v2.85h-5.71zM954.54 537.79h2.85v2.85h-2.85zM1174.34 552.06h5.71v2.85h-5.71zM928.85 574.9h2.85v2.85h-2.85zM911.73 594.88h5.71v2.85h-5.71zM1200.03 597.73h5.71v2.85h-5.71zM1202.89 603.44h5.71v2.85h-5.71zM886.04 631.99h5.71v2.85h-5.71zM880.33 640.55h5.71v2.85h-5.71zM1228.58 649.11h5.71v2.85h-5.71zM863.2 663.39h2.85v2.85h-2.85zM854.64 677.66h2.85v2.85h-2.85zM1254.27 694.79h5.71v2.85h-5.71zM826.09 709.06h2.85v2.85h-2.85zM817.53 723.33h2.85v2.85h-2.85zM811.82 726.18h2.85v2.85h-2.85zM1274.25 726.18h2.85v2.85h-2.85zM1279.96 729.04h2.85v2.85h-2.85zM1282.81 731.89h2.85v2.85h-2.85zM1291.38 746.17h2.85v2.85h-2.85zM1299.94 751.88h2.85v2.85h-2.85zM788.98 754.73h2.85v2.85h-2.85zM780.42 769h2.85v2.85h-2.85zM774.71 771.86h2.85v2.85h-2.85zM1317.07 771.86h2.85v2.85h-2.85zM1328.48 788.98h2.85v2.85h-2.85zM1334.19 791.84h2.85v2.85h-2.85zM1337.05 794.69h2.85v2.85h-2.85zM754.73 800.4h2.85v2.85h-2.85zM743.31 814.67h2.85v2.85h-2.85zM737.6 817.53h2.85v2.85h-2.85zM1365.59 831.8h2.85v2.85h-2.85zM1371.3 834.66h2.85v2.85h-2.85zM717.62 846.07h2.85v2.85h-2.85zM711.91 848.93h2.85v2.85h-2.85zM706.2 860.35h2.85v2.85h-2.85zM700.49 863.2h2.85v2.85h-2.85zM1399.85 871.76h2.85v2.85h-2.85zM1402.7 874.62h2.85v2.85h-2.85zM1408.41 877.47h2.85v2.85h-2.85zM680.51 891.75h2.85v2.85h-2.85zM674.8 894.6h2.85v2.85h-2.85zM666.24 903.16h2.85v2.85h-2.85zM663.39 908.87h2.85v2.85h-2.85zM1436.96 914.58h2.85v2.85h-2.85zM1445.52 920.29h2.85v2.85h-2.85zM631.99 931.71h2.85v2.85h-2.85zM1454.08 934.56h2.85v2.85h-2.85zM629.13 937.42h2.85v2.85h-2.85zM614.86 945.98h2.85v2.85h-2.85zM612 951.69h2.85v2.85h-2.85zM1491.19 960.25h2.85v2.85h-2.85zM1496.9 960.25h2.85v2.85h-2.85zM1522.59 971.67h2.85v2.85h-2.85zM580.61 974.53h2.85v2.85h-2.85zM577.75 980.24h2.85v2.85h-2.85zM1542.57 980.24h2.85v2.85h-2.85zM1542.57 983.09h2.85v2.85h-2.85zM566.33 985.94h2.85v2.85h-2.85zM1568.26 991.65h2.85v2.85h-2.85zM1568.26 994.51h2.85v2.85h-2.85zM1593.95 1003.07h2.85v2.85h-2.85zM546.35 1005.93h2.85v2.85h-2.85zM1593.95 1005.93h2.85v2.85h-2.85zM532.08 1014.49h2.85v2.85h-2.85zM1613.93 1014.49h2.85v2.85h-2.85zM1619.64 1014.49h2.85v2.85h-2.85zM529.22 1020.2h2.85v2.85h-2.85zM1639.62 1025.91h2.85v2.85h-2.85zM1665.32 1037.33h2.85v2.85h-2.85zM1676.73 1037.33h2.85v2.85h-2.85zM1679.59 1040.18h2.85v2.85h-2.85zM497.82 1043.03h2.85v2.85h-2.85zM1716.7 1043.03h2.85v2.85h-2.85zM1719.55 1045.89h2.85v2.85h-2.85zM494.97 1048.74h2.85v2.85h-2.85zM1756.66 1048.74h2.85v2.85h-2.85zM1759.51 1051.6h2.85v2.85h-2.85zM1776.64 1051.6h2.85v2.85h-2.85zM1796.62 1054.45h2.85v2.85h-2.85zM480.7 1057.31h2.85v2.85h-2.85zM1799.48 1057.31h2.85v2.85h-2.85zM1816.6 1057.31h2.85v2.85h-2.85zM1819.46 1060.16h2.85v2.85h-2.85zM477.84 1063.02h2.85v2.85h-2.85zM1856.57 1063.02h2.85v2.85h-2.85zM1859.42 1065.87h2.85v2.85h-2.85z" fill-opacity="0.75"/>
<path d="M1068.72 369.37h2.85v2.85h-2.85zM1077.29 375.08h2.85v2.85h-2.85zM1080.14 383.64h2.85v2.85h-2.85zM1048.74 397.92h2.85v2.85h-2.85zM1048.74 400.77h2.85v2.85h-2.85zM1043.03 406.48h2.85v2.85h-2.85zM1043.03 409.34h2.85v2.85h-2.85zM1094.42 409.34h2.85v2.85h-2.85zM1102.98 420.75h2.85v2.85h-2.85zM1105.83 429.32h2.85v2.85h-2.85zM1023.05 435.03h2.85v2.85h-2.85zM1023.05 437.88h2.85v2.85h-2.85zM1017.34 443.59h2.85v2.85h-2.85zM1017.34 446.44h2.85v2.85h-2.85zM1120.11 455.01h2.85v2.85h-2.85zM1128.67 466.43h2.85v2.85h-2.85zM1131.52 474.99h2.85v2.85h-2.85zM991.65 480.7h2.85v2.85h-2.85zM991.65 483.55h2.85v2.85h-2.85zM977.38 500.68h2.85v2.85h-2.85zM1145.8 500.68h2.85v2.85h-2.85zM977.38 503.53h2.85v2.85h-2.85zM1154.36 512.1h2.85v2.85h-2.85zM1157.21 517.81h2.85v2.85h-2.85zM1157.21 520.66h2.85v2.85h-2.85zM951.69 537.79h2.85v2.85h-2.85zM951.69 540.64h2.85v2.85h-2.85zM945.98 546.35h2.85v2.85h-2.85zM1171.49 546.35h2.85v2.85h-2.85zM945.98 549.21h2.85v2.85h-2.85zM1180.05 557.77h2.85v2.85h-2.85zM1182.9 563.48h2.85v2.85h-2.85zM1182.9 566.33h2.85v2.85h-2.85zM926 574.9h2.85v2.85h-2.85zM926 577.75h2.85v2.85h-2.85zM920.29 583.46h2.85v2.85h-2.85zM920.29 586.31h2.85v2.85h-2.85zM1197.18 592.02h2.85v2.85h-2.85zM1208.6 609.15h2.85v2.85h-2.85zM894.6 620.57h2.85v2.85h-2.85zM894.6 623.42h2.85v2.85h-2.85zM1222.87 634.84h2.85v2.85h-2.85zM1222.87 637.7h2.85v2.85h-2.85zM1225.72 643.4h2.85v2.85h-2.85zM1234.29 654.82h2.85v2.85h-2.85zM866.06 663.39h2.85v2.85h-2.85zM863.2 666.24h2.85v2.85h-2.85zM854.64 674.8h2.85v2.85h-2.85zM851.78 677.66h2.85v2.85h-2.85zM851.78 680.51h2.85v2.85h-2.85zM1248.56 680.51h2.85v2.85h-2.85zM1248.56 683.37h2.85v2.85h-2.85zM1251.41 689.08h2.85v2.85h-2.85zM1259.98 700.49h2.85v2.85h-2.85zM828.95 709.06h2.85v2.85h-2.85zM826.09 711.91h2.85v2.85h-2.85zM817.53 720.48h2.85v2.85h-2.85zM814.67 723.33h2.85v2.85h-2.85zM814.67 726.18h2.85v2.85h-2.85zM1277.1 726.18h2.85v2.85h-2.85zM1277.1 729.04h2.85v2.85h-2.85zM1279.96 731.89h2.85v2.85h-2.85zM1294.23 746.17h2.85v2.85h-2.85zM1294.23 749.02h5.71v2.85h-5.71zM1297.08 751.88h2.85v2.85h-2.85zM791.84 754.73h2.85v2.85h-2.85zM788.98 757.58h2.85v2.85h-2.85zM780.42 766.15h2.85v2.85h-2.85zM777.57 769h2.85v2.85h-2.85zM777.57 771.86h2.85v2.85h-2.85zM1314.21 771.86h2.85v2.85h-2.85zM1317.07 774.71h2.85v2.85h-2.85zM1328.48 786.13h2.85v2.85h-2.85zM1331.34 788.98h2.85v2.85h-2.85zM1331.34 791.84h2.85v2.85h-2.85zM1334.19 794.69h2.85v2.85h-2.85zM751.88 800.4h2.85v2.85h-2.85zM751.88 803.26h2.85v2.85h-2.85zM740.46 814.67h2.85v2.85h-2.85zM740.46 817.53h2.85v2.85h-2.85zM1365.59 828.95h2.85v2.85h-2.85zM1368.45 831.8h2.85v2.85h-2.85zM1368.45 834.66h2.85v2.85h-2.85zM1371.3 837.51h2.85v2.85h-2.85zM714.77 846.07h2.85v2.85h-2.85zM714.77 848.93h2.85v2.85h-2.85zM703.35 860.35h2.85v2.85h-2.85zM703.35 863.2h2.85v2.85h-2.85zM1402.7 871.76h2.85v2.85h-2.85zM1405.56 874.62h2.85v2.85h-2.85zM1405.56 877.47h2.85v2.85h-2.85zM1408.41 880.33h2.85v2.85h-2.85zM677.66 891.75h2.85v2.85h-2.85zM677.66 894.6h2.85v2.85h-2.85zM663.39 906.02h5.71v2.85h-5.71zM660.53 908.87h2.85v2.85h-2.85zM1439.81 914.58h2.85v2.85h-2.85zM1439.81 917.44h5.71v2.85h-5.71zM1442.66 920.29h2.85v2.85h-2.85zM629.13 934.56h5.71v2.85h-5.71zM1456.94 934.56h2.85v2.85h-2.85zM626.28 937.42h2.85v2.85h-2.85zM617.71 945.98h2.85v2.85h-2.85zM612 948.84h5.71v2.85h-5.71zM1476.92 951.69h2.85v2.85h-2.85zM1485.48 957.4h2.85v2.85h-2.85zM1502.61 963.11h2.85v2.85h-2.85zM583.46 974.53h2.85v2.85h-2.85zM1528.3 974.53h2.85v2.85h-2.85zM577.75 977.38h5.71v2.85h-5.71zM1536.86 980.24h2.85v2.85h-2.85zM1548.28 983.09h2.85v2.85h-2.85zM566.33 988.8h2.85v2.85h-2.85zM1573.97 994.51h2.85v2.85h-2.85zM1579.68 997.36h2.85v2.85h-2.85zM1582.53 1000.22h2.85v2.85h-2.85zM546.35 1003.07h2.85v2.85h-2.85zM1588.24 1003.07h2.85v2.85h-2.85zM543.5 1005.93h2.85v2.85h-2.85zM529.22 1017.34h5.71v2.85h-5.71zM1625.35 1017.34h2.85v2.85h-2.85zM526.37 1020.2h2.85v2.85h-2.85zM1633.92 1023.05h2.85v2.85h-2.85zM1659.61 1034.47h2.85v2.85h-2.85zM1673.88 1037.33h2.85v2.85h-2.85zM1682.44 1040.18h2.85v2.85h-2.85zM500.68 1043.03h2.85v2.85h-2.85zM1713.84 1043.03h2.85v2.85h-2.85zM494.97 1045.89h5.71v2.85h-5.71zM1722.41 1045.89h2.85v2.85h-2.85zM1753.8 1048.74h2.85v2.85h-2.85zM1762.37 1051.6h2.85v2.85h-2.85zM1773.79 1051.6h2.85v2.85h-2.85zM483.55 1057.31h2.85v2.85h-2.85zM1802.33 1057.31h2.85v2.85h-2.85zM1813.75 1057.31h2.85v2.85h-2.85zM477.84 1060.16h5.71v2.85h-5.71zM1822.31 1060.16h2.85v2.85h-2.85zM1842.29 1063.02h2.85v2.85h-2.85zM1853.71 1063.02h2.85v2.85h-2.85zM1862.28 1065.87h2.85v2.85h-2.85z" fill-opacity="0.88"/>
<path d="M1071.58 366.52h2.85v2.85h-2.85zM1074.43 372.23h2.85v2.85h-2.85zM1077.29 377.94h2.85v2.85h-2.85zM1080.14 380.79h2.85v2.85h-2.85zM1083 386.5h2.85v2.85h-2.85zM1054.45 392.21h2.85v2.85h-2.85zM1051.6 395.06h2.85v2.85h-2.85zM1045.89 403.63h2.85v2.85h-2.85zM1094.42 406.48h2.85v2.85h-2.85zM1040.18 412.19h2.85v2.85h-2.85zM1097.27 412.19h2.85v2.85h-2.85zM1037.33 415.04h2.85v2.85h-2.85zM1100.12 417.9h2.85v2.85h-2.85zM1102.98 423.61h2.85v2.85h-2.85zM1105.83 426.46h2.85v2.85h-2.85zM1108.69 432.17h2.85v2.85h-2.85zM1020.2 440.73h2.85v2.85h-2.85zM1014.49 449.3h2.85v2.85h-2.85zM1011.63 452.15h2.85v2.85h-2.85zM1120.11 452.15h2.85v2.85h-2.85zM1008.78 457.86h2.85v2.85h-2.85zM1122.96 457.86h2.85v2.85h-2.85zM1005.93 460.72h2.85v2.85h-2.85zM1125.81 463.57h2.85v2.85h-2.85zM1128.67 469.28h2.85v2.85h-2.85zM1131.52 472.13h2.85v2.85h-2.85zM1134.38 477.84h2.85v2.85h-2.85zM988.8 486.41h2.85v2.85h-2.85zM985.94 489.26h2.85v2.85h-2.85zM983.09 494.97h2.85v2.85h-2.85zM980.24 497.82h2.85v2.85h-2.85zM1145.8 497.82h2.85v2.85h-2.85zM1148.65 503.53h2.85v2.85h-2.85zM974.53 506.39h2.85v2.85h-2.85zM1151.51 509.24h2.85v2.85h-2.85zM1154.36 514.95h2.85v2.85h-2.85zM1160.07 523.52h2.85v2.85h-2.85zM960.25 526.37h2.85v2.85h-2.85zM957.4 532.08h2.85v2.85h-2.85zM954.54 534.93h2.85v2.85h-2.85zM948.84 543.5h2.85v2.85h-2.85zM1171.49 543.5h2.85v2.85h-2.85zM1174.34 549.21h2.85v2.85h-2.85zM943.13 552.06h2.85v2.85h-2.85zM1177.2 554.91h2.85v2.85h-2.85zM1180.05 560.62h2.85v2.85h-2.85zM1185.76 569.19h2.85v2.85h-2.85zM928.85 572.04h2.85v2.85h-2.85zM923.15 580.61h2.85v2.85h-2.85zM917.44 589.17h2.85v2.85h-2.85zM1197.18 589.17h2.85v2.85h-2.85zM914.58 592.02h2.85v2.85h-2.85zM1200.03 594.88h2.85v2.85h-2.85zM911.73 597.73h2.85v2.85h-2.85zM1202.89 600.59h2.85v2.85h-2.85zM1205.74 606.3h2.85v2.85h-2.85zM1208.6 612h2.85v2.85h-2.85zM1211.45 614.86h2.85v2.85h-2.85zM897.45 617.71h2.85v2.85h-2.85zM891.75 626.28h2.85v2.85h-2.85zM888.89 629.13h2.85v2.85h-2.85zM886.04 634.84h2.85v2.85h-2.85zM883.18 637.7h2.85v2.85h-2.85zM1225.72 640.55h2.85v2.85h-2.85zM880.33 643.4h2.85v2.85h-2.85zM1228.58 646.26h2.85v2.85h-2.85zM1231.43 651.97h2.85v2.85h-2.85zM1234.29 657.68h2.85v2.85h-2.85zM1237.14 660.53h2.85v2.85h-2.85zM860.35 669.09h2.85v2.85h-2.85zM857.49 671.95h2.85v2.85h-2.85zM848.93 683.37h2.85v2.85h-2.85zM846.07 686.22h2.85v2.85h-2.85zM1251.41 686.22h2.85v2.85h-2.85zM843.22 689.08h2.85v2.85h-2.85zM1254.27 691.93h2.85v2.85h-2.85zM1257.12 697.64h2.85v2.85h-2.85zM1259.98 703.35h2.85v2.85h-2.85zM1262.83 706.2h2.85v2.85h-2.85zM823.24 714.77h2.85v2.85h-2.85zM820.38 717.62h2.85v2.85h-2.85zM811.82 729.04h2.85v2.85h-2.85zM808.97 731.89h2.85v2.85h-2.85zM806.11 734.75h2.85v2.85h-2.85zM1282.81 734.75h2.85v2.85h-2.85zM1285.67 737.6h2.85v2.85h-2.85zM1288.52 740.46h2.85v2.85h-2.85zM1291.38 743.31h2.85v2.85h-2.85zM786.13 760.44h2.85v2.85h-2.85zM783.27 763.29h2.85v2.85h-2.85zM774.71 774.71h2.85v2.85h-2.85zM771.86 777.57h2.85v2.85h-2.85zM1319.92 777.57h2.85v2.85h-2.85zM769 780.42h2.85v2.85h-2.85zM1322.78 780.42h2.85v2.85h-2.85zM1325.63 783.27h2.85v2.85h-2.85zM1337.05 797.55h2.85v2.85h-2.85zM749.02 806.11h2.85v2.85h-2.85zM746.17 808.97h2.85v2.85h-2.85zM743.31 811.82h2.85v2.85h-2.85zM1354.17 817.53h2.85v2.85h-2.85zM737.6 820.38h2.85v2.85h-2.85zM1357.03 820.38h2.85v2.85h-2.85zM734.75 823.24h2.85v2.85h-2.85zM1359.88 823.24h2.85v2.85h-2.85zM731.89 826.09h2.85v2.85h-2.85zM1362.74 826.09h2.85v2.85h-2.85zM1374.16 840.36h2.85v2.85h-2.85zM1377.01 843.22h2.85v2.85h-2.85zM711.91 851.78h2.85v2.85h-2.85zM709.06 854.64h2.85v2.85h-2.85zM706.2 857.49h2.85v2.85h-2.85zM1394.14 863.2h2.85v2.85h-2.85zM700.49 866.06h2.85v2.85h-2.85zM1396.99 866.06h2.85v2.85h-2.85zM697.64 868.91h2.85v2.85h-2.85zM1399.85 868.91h2.85v2.85h-2.85zM694.79 871.76h2.85v2.85h-2.85zM1411.26 883.18h2.85v2.85h-2.85zM1414.12 886.04h2.85v2.85h-2.85zM1416.97 888.89h2.85v2.85h-2.85zM674.8 897.45h2.85v2.85h-2.85zM671.95 900.31h2.85v2.85h-2.85zM669.09 903.16h2.85v2.85h-2.85zM1434.1 908.87h2.85v2.85h-2.85zM657.68 911.73h2.85v2.85h-2.85zM1436.96 911.73h2.85v2.85h-2.85zM1445.52 923.15h2.85v2.85h-2.85zM1448.37 926h2.85v2.85h-2.85zM637.7 928.85h2.85v2.85h-2.85zM1451.23 928.85h2.85v2.85h-2.85zM634.84 931.71h2.85v2.85h-2.85zM1454.08 931.71h2.85v2.85h-2.85zM623.42 940.27h2.85v2.85h-2.85zM620.57 943.13h2.85v2.85h-2.85zM1479.77 954.54h5.71v2.85h-5.71zM1488.34 957.4h2.85v2.85h-2.85zM1494.05 960.25h2.85v2.85h-2.85zM1499.75 963.11h2.85v2.85h-2.85zM592.02 965.96h2.85v2.85h-2.85zM589.17 968.82h2.85v2.85h-2.85zM586.31 971.67h2.85v2.85h-2.85zM1525.44 974.53h2.85v2.85h-2.85zM1531.15 977.38h5.71v2.85h-5.71zM574.9 980.24h2.85v2.85h-2.85zM1539.72 980.24h2.85v2.85h-2.85zM572.04 983.09h2.85v2.85h-2.85zM1545.43 983.09h2.85v2.85h-2.85zM569.19 985.94h2.85v2.85h-2.85zM1571.12 994.51h2.85v2.85h-2.85zM1576.83 997.36h2.85v2.85h-2.85zM1585.39 1000.22h2.85v2.85h-2.85zM1591.1 1003.07h2.85v2.85h-2.85zM540.64 1008.78h2.85v2.85h-2.85zM537.79 1011.63h2.85v2.85h-2.85zM534.93 1014.49h2.85v2.85h-2.85zM1616.79 1014.49h2.85v2.85h-2.85zM1622.5 1017.34h2.85v2.85h-2.85zM1628.21 1020.2h5.71v2.85h-5.71zM523.52 1023.05h2.85v2.85h-2.85zM1636.77 1023.05h2.85v2.85h-2.85zM520.66 1025.91h2.85v2.85h-2.85zM1662.46 1034.47h2.85v2.85h-2.85zM1668.17 1037.33h5.71v2.85h-5.71zM1685.3 1040.18h2.85v2.85h-2.85zM1705.28 1043.03h8.56v2.85h-8.56zM1725.26 1045.89h8.56v2.85h-8.56zM492.12 1048.74h2.85v2.85h-2.85zM1750.95 1048.74h2.85v2.85h-2.85zM489.26 1051.6h2.85v2.85h-2.85zM1765.22 1051.6h8.56v2.85h-8.56zM486.41 1054.45h2.85v2.85h-2.85zM1805.19 1057.31h8.56v2.85h-8.56zM474.99 1063.02h2.85v2.85h-2.85zM1845.15 1063.02h8.56v2.85h-8.56zM1865.13 1065.87h5.71v2.85h-5.71z"/>
<rect x="460.72" y="1054.45" width="25.69" height="25.69"/>
<rect x="660.53" y="888.89" width="25.69" height="25.69"/>
<rect x="860.35" y="643.4" width="25.69" height="25.69"/>
<rect x="1060.16" y="355.1" width="25.69" height="25.69"/>
<rect x="1257.12" y="706.2" width="25.69" height="25.69"/>
<rect x="1456.94" y="937.42" width="25.69" height="25.69"/>
<rect x="1656.75" y="1025.91" width="25.69" height="25.69"/>
<rect x="1856.57" y="1054.45" width="25.69" height="25.69"/>
</g>
<g fill="#0000ff">
<path d="M1071.58 286.59h2.85v2.85h-2.85zM1063.02 289.45h2.85v2.85h-2.85zM1060.16 295.16h2.85v2.85h-2.85zM1083 298.01h2.85v2.85h-2.85zM1063.02 300.86h2.85v2.85h-2.85zM1085.85 303.72h2.85v2.85h-2.85zM1060.16 306.57h2.85v2.85h-2.85zM1088.71 309.43h2.85v2.85h-2.85zM1091.56 315.14h2.85v2.85h-2.85zM1094.42 320.85h2.85v2.85h-2.85zM1040.18 329.41h2.85v2.85h-2.85zM1043.03 335.12h2.85v2.85h-2.85zM1040.18 340.83h2.85v2.85h-2.85zM1031.62 343.68h2.85v2.85h-2.85zM1105.83 343.68h2.85v2.85h-2.85zM1100.12 346.54h2.85v2.85h-2.85zM1108.69 349.39h2.85v2.85h-2.85zM1102.98 352.25h2.85v2.85h-2.85zM1105.83 357.95h2.85v2.85h-2.85zM1108.69 363.66h2.85v2.85h-2.85zM1111.54 369.37h2.85v2.85h-2.85zM1020.2 375.08h2.85v2.85h-2.85zM1011.63 377.94h2.85v2.85h-2.85zM1011.63 389.35h2.85v2.85h-2.85zM1003.07 392.21h2.85v2.85h-2.85zM1122.96 392.21h2.85v2.85h-2.85zM1000.22 397.92h2.85v2.85h-2.85zM1125.81 397.92h2.85v2.85h-2.85zM1128.67 403.63h2.85v2.85h-2.85zM1131.52 409.34h2.85v2.85h-2.85zM991.65 423.61h2.85v2.85h-2.85zM983.09 426.46h2.85v2.85h-2.85zM980.24 432.17h2.85v2.85h-2.85zM983.09 437.88h2.85v2.85h-2.85zM1151.51 437.88h2.85v2.85h-2.85zM980.24 443.59h2.85v2.85h-2.85zM1154.36 443.59h2.85v2.85h-2.85zM1157.21 449.3h2.85v2.85h-2.85zM1160.07 455.01h2.85v2.85h-2.85zM1162.92 460.72h2.85v2.85h-2.85zM960.25 466.43h2.85v2.85h-2.85zM963.11 472.13h2.85v2.85h-2.85zM960.25 477.84h2.85v2.85h-2.85zM951.69 480.7h2.85v2.85h-2.85zM1165.78 480.7h2.85v2.85h-2.85zM1174.34 483.55h2.85v2.85h-2.85zM1168.63 486.41h2.85v2.85h-2.85zM1171.49 492.12h2.85v2.85h-2.85zM1174.34 497.82h2.85v2.85h-2.85zM1177.2 503.53h2.85v2.85h-2.85zM940.27 512.1h2.85v2.85h-2.85zM931.71 514.95h2.85v2.85h-2.85zM931.71 526.37h2.85v2.85h-2.85zM1188.61 526.37h2.85v2.85h-2.85zM923.15 529.22h2.85v2.85h-2.85zM1191.47 532.08h2.85v2.85h-2.85zM920.29 534.93h2.85v2.85h-2.85zM1194.32 537.79h2.85v2.85h-2.85zM1197.18 543.5h2.85v2.85h-2.85zM911.73 560.62h2.85v2.85h-2.85zM903.16 563.48h2.85v2.85h-2.85zM900.31 569.19h2.85v2.85h-2.85zM1217.16 572.04h2.85v2.85h-2.85zM903.16 574.9h2.85v2.85h-2.85zM1220.01 577.75h2.85v2.85h-2.85zM900.31 580.61h2.85v2.85h-2.85zM1222.87 583.46h2.85v2.85h-2.85zM1225.72 589.17h2.85v2.85h-2.85zM1228.58 594.88h2.85v2.85h-2.85zM880.33 603.44h2.85v2.85h-2.85zM883.18 609.15h2.85v2.85h-2.85zM880.33 614.86h2.85v2.85h-2.85zM871.76 617.71h2.85v2.85h-2.85zM1239.99 617.71h2.85v2.85h-2.85zM1234.29 620.57h2.85v2.85h-2.85zM866.06 626.28h2.85v2.85h-2.85zM1237.14 626.28h2.85v2.85h-2.85zM1239.99 631.99h2.85v2.85h-2.85zM1242.85 637.7h2.85v2.85h-2.85zM1245.7 643.4h2.85v2.85h-2.85zM860.35 646.26h2.85v2.85h-2.85zM854.64 654.82h2.85v2.85h-2.85zM846.07 657.68h2.85v2.85h-2.85zM848.93 663.39h2.85v2.85h-2.85zM840.36 666.24h2.85v2.85h-2.85zM1257.12 666.24h2.85v2.85h-2.85zM1259.98 671.95h2.85v2.85h-2.85zM1262.83 677.66h2.85v2.85h-2.85zM1274.25 686.22h2.85v2.85h-2.85zM823.24 691.93h2.85v2.85h-2.85zM828.95 694.79h2.85v2.85h-2.85zM817.53 700.49h2.85v2.85h-2.85zM823.24 703.35h2.85v2.85h-2.85zM817.53 711.91h2.85v2.85h-2.85zM1285.67 711.91h2.85v2.85h-2.85zM1297.08 717.62h2.85v2.85h-2.85zM1294.23 723.33h2.85v2.85h-2.85zM1305.65 729.04h2.85v2.85h-2.85zM1299.94 731.89h2.85v2.85h-2.85zM800.4 737.6h2.85v2.85h-2.85zM791.84 740.46h2.85v2.85h-2.85zM786.13 749.02h2.85v2.85h-2.85zM1317.07 754.73h2.85v2.85h-2.85zM780.42 757.58h2.85v2.85h-2.85zM1328.48 760.44h2.85v2.85h-2.85zM1337.05 771.86h2.85v2.85h-2.85zM1331.34 774.71h2.85v2.85h-2.85zM1342.76 780.42h2.85v2.85h-2.85zM769 786.13h2.85v2.85h-2.85zM763.29 794.69h2.85v2.85h-2.85zM757.58 803.26h2.85v2.85h-2.85zM1359.88 803.26h2.85v2.85h-2.85zM1354.17 806.11h2.85v2.85h-2.85zM1365.59 811.82h2.85v2.85h-2.85zM1362.74 817.53h2.85v2.85h-2.85zM1374.16 823.24h2.85v2.85h-2.85zM731.89 831.8h2.85v2.85h-2.85zM726.18 840.36h2.85v2.85h-2.85zM720.48 848.93h2.85v2.85h-2.85zM1385.57 848.93h2.85v2.85h-2.85zM726.18 851.78h2.85v2.85h-2.85zM1396.99 854.64h2.85v2.85h-2.85zM1394.14 860.35h2.85v2.85h-2.85zM1405.56 866.06h2.85v2.85h-2.85zM1399.85 868.91h2.85v2.85h-2.85zM709.06 877.47h2.85v2.85h-2.85zM703.35 886.04h2.85v2.85h-2.85zM694.79 888.89h2.85v2.85h-2.85zM1416.97 891.75h2.85v2.85h-2.85zM697.64 894.6h2.85v2.85h-2.85zM689.08 897.45h2.85v2.85h-2.85zM1428.39 897.45h2.85v2.85h-2.85zM1436.96 908.87h2.85v2.85h-2.85zM1431.25 911.73h2.85v2.85h-2.85zM1442.66 917.44h2.85v2.85h-2.85zM671.95 923.15h2.85v2.85h-2.85zM677.66 926h2.85v2.85h-2.85zM657.68 937.42h2.85v2.85h-2.85zM663.39 940.27h2.85v2.85h-2.85zM1459.79 940.27h2.85v2.85h-2.85zM660.53 943.13h2.85v2.85h-2.85zM1454.08 943.13h2.85v2.85h-2.85zM657.68 945.98h2.85v2.85h-2.85zM1465.5 948.84h2.85v2.85h-2.85zM1462.65 954.54h2.85v2.85h-2.85zM1474.06 957.4h2.85v2.85h-2.85zM629.13 963.11h2.85v2.85h-2.85zM626.28 965.96h2.85v2.85h-2.85zM634.84 965.96h2.85v2.85h-2.85zM623.42 968.82h2.85v2.85h-2.85zM631.99 968.82h2.85v2.85h-2.85zM1496.9 968.82h2.85v2.85h-2.85zM629.13 971.67h2.85v2.85h-2.85zM1502.61 971.67h2.85v2.85h-2.85zM1508.32 974.53h2.85v2.85h-2.85zM1514.03 977.38h2.85v2.85h-2.85zM1519.74 980.24h2.85v2.85h-2.85zM1516.88 985.94h2.85v2.85h-2.85zM1539.72 997.36h2.85v2.85h-2.85zM1545.43 1000.22h2.85v2.85h-2.85zM1551.14 1003.07h2.85v2.85h-2.85zM1556.84 1005.93h2.85v2.85h-2.85zM1562.55 1008.78h2.85v2.85h-2.85zM572.04 1014.49h2.85v2.85h-2.85zM1585.39 1014.49h2.85v2.85h-2.85zM569.19 1017.34h2.85v2.85h-2.85zM577.75 1017.34h2.85v2.85h-2.85zM1591.1 1017.34h2.85v2.85h-2.85zM566.33 1020.2h2.85v2.85h-2.85zM574.9 1020.2h2.85v2.85h-2.85zM1596.81 1020.2h2.85v2.85h-2.85zM572.04 1023.05h2.85v2.85h-2.85zM1602.52 1023.05h2.85v2.85h-2.85zM1608.23 1025.91h2.85v2.85h-2.85zM543.5 1040.18h2.85v2.85h-2.85zM540.64 1043.03h2.85v2.85h-2.85zM537.79 1045.89h2.85v2.85h-2.85zM546.35 1045.89h2.85v2.85h-2.85zM1633.92 1045.89h2.85v2.85h-2.85zM543.5 1048.74h2.85v2.85h-2.85zM1639.62 1048.74h2.85v2.85h-2.85zM1645.33 1051.6h2.85v2.85h-2.85zM1651.04 1054.45h2.85v2.85h-2.85zM1656.75 1057.31h2.85v2.85h-2.85zM1679.59 1060.16h2.85v2.85h-2.85zM1691.01 1063.02h2.85v2.85h-2.85zM1702.42 1065.87h2.85v2.85h-2.85zM520.66 1068.72h2.85v2.85h-2.85zM1725.26 1071.58h2.85v2.85h-2.85zM1722.41 1077.29h2.85v2.85h-2.85zM1733.82 1080.14h2.85v2.85h-2.85zM1745.24 1083h2.85v2.85h-2.85zM1768.08 1083h2.85v2.85h-2.85zM1779.5 1085.85h2.85v2.85h-2.85zM1768.08 1088.71h2.85v2.85h-2.85zM1790.91 1088.71h2.85v2.85h-2.85zM486.41 1091.56h2.85v2.85h-2.85zM483.55 1094.42h2.85v2.85h-2.85zM492.12 1094.42h2.85v2.85h-2.85zM1813.75 1094.42h2.85v2.85h-2.85zM480.7 1097.27h2.85v2.85h-2.85zM489.26 1097.27h2.85v2.85h-2.85zM1825.17 1097.27h2.85v2.85h-2.85zM486.41 1100.12h2.85v2.85h-2.85zM1822.31 1102.98h2.85v2.85h-2.85zM1833.73 1105.83h2.85v2.85h-2.85zM1867.98 1108.69h2.85v2.85h-2.85zM1867.98 1114.4h2.85v2.85h-2.85z" fill-opacity="0.12"/>
<path d="M1077.29 298.01h2.85v2.85h-2.85zM1028.76 349.39h2.85v2.85h-2.85zM1034.47 349.39h2.85v2.85h-2.85zM1008.78 383.64h2.85v2.85h-2.85zM1014.49 383.64h2.85v2.85h-2.85zM1131.52 397.92h2.85v2.85h-2.85zM1134.38 403.63h2.85v2.85h-2.85zM1137.23 409.34h2.85v2.85h-2.85zM1134.38 415.04h2.85v2.85h-2.85zM1140.09 415.04h2.85v2.85h-2.85zM988.8 417.9h2.85v2.85h-2.85zM994.51 417.9h2.85v2.85h-2.85zM948.84 486.41h2.85v2.85h-2.85zM954.54 486.41h2.85v2.85h-2.85zM928.85 520.66h2.85v2.85h-2.85zM934.56 520.66h2.85v2.85h-2.85zM1197.18 532.08h2.85v2.85h-2.85zM1200.03 537.79h2.85v2.85h-2.85zM1202.89 543.5h2.85v2.85h-2.85zM1200.03 549.21h2.85v2.85h-2.85zM1205.74 549.21h2.85v2.85h-2.85zM908.87 554.91h2.85v2.85h-2.85zM914.58 554.91h2.85v2.85h-2.85zM868.91 623.42h2.85v2.85h-2.85zM874.62 623.42h2.85v2.85h-2.85zM851.78 649.11h2.85v2.85h-2.85zM1262.83 666.24h2.85v2.85h-2.85zM843.22 671.95h2.85v2.85h-2.85zM1265.69 671.95h2.85v2.85h-2.85zM1268.54 677.66h2.85v2.85h-2.85zM1265.69 683.37h2.85v2.85h-2.85zM1271.39 683.37h2.85v2.85h-2.85zM820.38 697.64h2.85v2.85h-2.85zM826.09 697.64h2.85v2.85h-2.85zM814.67 706.2h2.85v2.85h-2.85zM820.38 706.2h2.85v2.85h-2.85zM808.97 714.77h2.85v2.85h-2.85zM1288.52 714.77h2.85v2.85h-2.85zM1302.79 726.18h2.85v2.85h-2.85zM1302.79 734.75h2.85v2.85h-2.85zM794.69 746.17h2.85v2.85h-2.85zM788.98 754.73h2.85v2.85h-2.85zM1325.63 757.58h2.85v2.85h-2.85zM783.27 763.29h2.85v2.85h-2.85zM1325.63 766.15h2.85v2.85h-2.85zM1334.19 769h2.85v2.85h-2.85zM1334.19 777.57h2.85v2.85h-2.85zM760.44 788.98h2.85v2.85h-2.85zM754.73 797.55h2.85v2.85h-2.85zM1357.03 800.4h2.85v2.85h-2.85zM749.02 806.11h2.85v2.85h-2.85zM1357.03 808.97h2.85v2.85h-2.85zM1365.59 820.38h2.85v2.85h-2.85zM1371.3 820.38h2.85v2.85h-2.85zM740.46 828.95h2.85v2.85h-2.85zM734.75 837.51h2.85v2.85h-2.85zM723.33 846.07h2.85v2.85h-2.85zM729.04 846.07h2.85v2.85h-2.85zM1388.43 851.78h2.85v2.85h-2.85zM717.62 854.64h2.85v2.85h-2.85zM723.33 854.64h2.85v2.85h-2.85zM1402.7 863.2h2.85v2.85h-2.85zM1402.7 871.76h2.85v2.85h-2.85zM700.49 880.33h2.85v2.85h-2.85zM1425.54 894.6h2.85v2.85h-2.85zM1425.54 903.16h2.85v2.85h-2.85zM1434.1 906.02h2.85v2.85h-2.85zM1434.1 914.58h2.85v2.85h-2.85zM680.51 920.29h2.85v2.85h-2.85zM674.8 928.85h2.85v2.85h-2.85zM669.09 934.56h2.85v2.85h-2.85zM666.24 937.42h2.85v2.85h-2.85zM1456.94 937.42h2.85v2.85h-2.85zM1456.94 945.98h2.85v2.85h-2.85zM1468.35 960.25h2.85v2.85h-2.85zM637.7 963.11h2.85v2.85h-2.85zM1474.06 963.11h2.85v2.85h-2.85zM620.57 971.67h2.85v2.85h-2.85zM617.71 974.53h2.85v2.85h-2.85zM612 985.94h2.85v2.85h-2.85zM592.02 997.36h2.85v2.85h-2.85zM589.17 1000.22h2.85v2.85h-2.85zM1556.84 1000.22h2.85v2.85h-2.85zM1562.55 1003.07h2.85v2.85h-2.85zM583.46 1011.63h2.85v2.85h-2.85zM580.61 1014.49h2.85v2.85h-2.85zM534.93 1048.74h2.85v2.85h-2.85zM532.08 1051.6h2.85v2.85h-2.85zM1656.75 1051.6h2.85v2.85h-2.85zM526.37 1063.02h2.85v2.85h-2.85zM523.52 1065.87h2.85v2.85h-2.85zM1679.59 1065.87h2.85v2.85h-2.85zM1691.01 1068.72h2.85v2.85h-2.85zM1702.42 1071.58h2.85v2.85h-2.85zM1722.41 1071.58h2.85v2.85h-2.85zM1733.82 1074.43h2.85v2.85h-2.85zM1725.26 1077.29h2.85v2.85h-2.85zM1745.24 1077.29h2.85v2.85h-2.85zM497.82 1088.71h2.85v2.85h-2.85zM494.97 1091.56h2.85v2.85h-2.85zM1779.5 1091.56h2.85v2.85h-2.85zM1790.91 1094.42h2.85v2.85h-2.85zM1822.31 1097.27h2.85v2.85h-2.85zM477.84 1100.12h2.85v2.85h-2.85zM1813.75 1100.12h2.85v2.85h-2.85zM1833.73 1100.12h2.85v2.85h-2.85zM474.99 1102.98h2.85v2.85h-2.85zM1825.17 1102.98h2.85v2.85h-2.85z" fill-opacity="0.25"/>
<path d="M1065.87 286.59h2.85v2.85h-2.85zM1065.87 295.16h2.85v2.85h-2.85zM1057.31 300.86h2.85v2.85h-2.85zM1080.14 303.72h2.85v2.85h-2.85zM1083 309.43h2.85v2.85h-2.85zM1085.85 315.14h2.85v2.85h-2.85zM1088.71 320.85h2.85v2.85h-2.85zM1045.89 329.41h2.85v2.85h-2.85zM1037.33 335.12h2.85v2.85h-2.85zM1037.33 343.68h2.85v2.85h-2.85zM1111.54 357.95h2.85v2.85h-2.85zM1114.4 363.66h2.85v2.85h-2.85zM1117.25 369.37h2.85v2.85h-2.85zM1017.34 377.94h2.85v2.85h-2.85zM1005.93 389.35h2.85v2.85h-2.85zM1128.67 392.21h2.85v2.85h-2.85zM1005.93 397.92h2.85v2.85h-2.85zM985.94 423.61h2.85v2.85h-2.85zM985.94 432.17h2.85v2.85h-2.85zM977.38 437.88h2.85v2.85h-2.85zM1145.8 437.88h2.85v2.85h-2.85zM1148.65 443.59h2.85v2.85h-2.85zM1151.51 449.3h2.85v2.85h-2.85zM1154.36 455.01h2.85v2.85h-2.85zM1157.21 460.72h2.85v2.85h-2.85zM965.96 466.43h2.85v2.85h-2.85zM957.4 472.13h2.85v2.85h-2.85zM957.4 480.7h2.85v2.85h-2.85zM1177.2 492.12h2.85v2.85h-2.85zM1180.05 497.82h2.85v2.85h-2.85zM1182.9 503.53h2.85v2.85h-2.85zM937.42 514.95h2.85v2.85h-2.85zM926 526.37h2.85v2.85h-2.85zM1194.32 526.37h2.85v2.85h-2.85zM926 534.93h2.85v2.85h-2.85zM906.02 560.62h2.85v2.85h-2.85zM906.02 569.19h2.85v2.85h-2.85zM1211.45 572.04h2.85v2.85h-2.85zM897.45 574.9h2.85v2.85h-2.85zM1214.3 577.75h2.85v2.85h-2.85zM1217.16 583.46h2.85v2.85h-2.85zM1220.01 589.17h2.85v2.85h-2.85zM1222.87 594.88h2.85v2.85h-2.85zM886.04 603.44h2.85v2.85h-2.85zM877.47 609.15h2.85v2.85h-2.85zM877.47 617.71h2.85v2.85h-2.85zM1242.85 626.28h2.85v2.85h-2.85zM1245.7 631.99h2.85v2.85h-2.85zM1248.56 637.7h2.85v2.85h-2.85zM1251.41 643.4h2.85v2.85h-2.85zM857.49 649.11h2.85v2.85h-2.85zM837.51 671.95h2.85v2.85h-2.85zM814.67 714.77h2.85v2.85h-2.85zM1294.23 714.77h2.85v2.85h-2.85zM1297.08 726.18h2.85v2.85h-2.85zM1308.5 734.75h2.85v2.85h-2.85zM788.98 746.17h2.85v2.85h-2.85zM783.27 754.73h2.85v2.85h-2.85zM1319.92 757.58h2.85v2.85h-2.85zM777.57 763.29h2.85v2.85h-2.85zM1328.48 769h2.85v2.85h-2.85zM1339.9 777.57h2.85v2.85h-2.85zM766.15 788.98h2.85v2.85h-2.85zM760.44 797.55h2.85v2.85h-2.85zM1351.32 800.4h2.85v2.85h-2.85zM754.73 806.11h2.85v2.85h-2.85zM1362.74 808.97h2.85v2.85h-2.85zM734.75 828.95h2.85v2.85h-2.85zM729.04 837.51h2.85v2.85h-2.85zM1394.14 851.78h2.85v2.85h-2.85zM1396.99 863.2h2.85v2.85h-2.85zM1408.41 871.76h2.85v2.85h-2.85zM706.2 880.33h2.85v2.85h-2.85zM1419.83 894.6h2.85v2.85h-2.85zM1428.39 906.02h2.85v2.85h-2.85zM1439.81 914.58h2.85v2.85h-2.85zM674.8 920.29h2.85v2.85h-2.85zM1451.23 937.42h2.85v2.85h-2.85zM1462.65 945.98h2.85v2.85h-2.85zM1496.9 974.53h2.85v2.85h-2.85zM614.86 977.38h2.85v2.85h-2.85zM1502.61 977.38h2.85v2.85h-2.85zM1508.32 980.24h2.85v2.85h-2.85zM614.86 983.09h2.85v2.85h-2.85zM1539.72 991.65h2.85v2.85h-2.85zM1545.43 994.51h2.85v2.85h-2.85zM1551.14 997.36h2.85v2.85h-2.85zM586.31 1003.07h2.85v2.85h-2.85zM586.31 1008.78h2.85v2.85h-2.85zM1585.39 1020.2h2.85v2.85h-2.85zM1591.1 1023.05h2.85v2.85h-2.85zM1596.81 1025.91h2.85v2.85h-2.85zM1602.52 1028.76h2.85v2.85h-2.85zM1608.23 1031.62h2.85v2.85h-2.85zM1633.92 1040.18h2.85v2.85h-2.85zM1639.62 1043.03h2.85v2.85h-2.85zM1645.33 1045.89h2.85v2.85h-2.85zM1651.04 1048.74h2.85v2.85h-2.85zM529.22 1054.45h2.85v2.85h-2.85zM529.22 1060.16h2.85v2.85h-2.85zM1676.73 1060.16h2.85v2.85h-2.85zM1688.15 1063.02h2.85v2.85h-2.85zM1699.57 1065.87h2.85v2.85h-2.85zM500.68 1080.14h2.85v2.85h-2.85zM1736.68 1080.14h2.85v2.85h-2.85zM1748.1 1083h2.85v2.85h-2.85zM500.68 1085.85h2.85v2.85h-2.85zM1776.64 1085.85h2.85v2.85h-2.85zM1770.93 1088.71h2.85v2.85h-2.85zM1788.06 1088.71h2.85v2.85h-2.85zM1836.59 1105.83h2.85v2.85h-2.85zM1865.13 1108.69h2.85v2.85h-2.85zM1859.42 1111.54h2.85v2.85h-2.85z" fill-opacity="0.38"/>
<path d="M1068.72 289.45h2.85v2.85h-2.85zM1054.45 306.57h2.85v2.85h-2.85zM1034.47 340.83h2.85v2.85h-2.85zM1100.12 343.68h2.85v2.85h-2.85zM1105.83 346.54h2.85v2.85h-2.85zM1102.98 349.39h2.85v2.85h-2.85zM1108.69 352.25h2.85v2.85h-2.85zM1105.83 355.1h2.85v2.85h-2.85zM1108.69 360.81h2.85v2.85h-2.85zM1111.54 366.52h2.85v2.85h-2.85zM1014.49 375.08h2.85v2.85h-2.85zM1008.78 392.21h2.85v2.85h-2.85zM988.8 426.46h2.85v2.85h-2.85zM974.53 443.59h2.85v2.85h-2.85zM954.54 477.84h2.85v2.85h-2.85zM1171.49 480.7h2.85v2.85h-2.85zM1168.63 483.55h2.85v2.85h-2.85zM1174.34 486.41h2.85v2.85h-2.85zM1171.49 489.26h2.85v2.85h-2.85zM1174.34 494.97h2.85v2.85h-2.85zM1177.2 500.68h2.85v2.85h-2.85zM934.56 512.1h2.85v2.85h-2.85zM928.85 529.22h2.85v2.85h-2.85zM908.87 563.48h2.85v2.85h-2.85zM894.6 580.61h2.85v2.85h-2.85zM1228.58 597.73h2.85v2.85h-2.85zM874.62 614.86h2.85v2.85h-2.85zM1234.29 617.71h2.85v2.85h-2.85zM1239.99 620.57h2.85v2.85h-2.85zM1237.14 623.42h2.85v2.85h-2.85zM1239.99 629.13h2.85v2.85h-2.85zM1242.85 634.84h2.85v2.85h-2.85zM854.64 646.26h2.85v2.85h-2.85zM848.93 654.82h2.85v2.85h-2.85zM851.78 657.68h2.85v2.85h-2.85zM843.22 663.39h2.85v2.85h-2.85zM846.07 666.24h2.85v2.85h-2.85zM828.95 691.93h2.85v2.85h-2.85zM811.82 711.91h2.85v2.85h-2.85zM1291.38 717.62h2.85v2.85h-2.85zM1299.94 723.33h2.85v2.85h-2.85zM794.69 737.6h2.85v2.85h-2.85zM797.55 740.46h2.85v2.85h-2.85zM791.84 749.02h2.85v2.85h-2.85zM1322.78 754.73h2.85v2.85h-2.85zM786.13 757.58h2.85v2.85h-2.85zM1331.34 766.15h2.85v2.85h-2.85zM1337.05 780.42h2.85v2.85h-2.85zM763.29 786.13h2.85v2.85h-2.85zM757.58 794.69h2.85v2.85h-2.85zM751.88 803.26h2.85v2.85h-2.85zM1359.88 811.82h2.85v2.85h-2.85zM737.6 831.8h2.85v2.85h-2.85zM731.89 840.36h2.85v2.85h-2.85zM1391.28 854.64h2.85v2.85h-2.85zM1399.85 860.35h2.85v2.85h-2.85zM703.35 877.47h2.85v2.85h-2.85zM697.64 886.04h2.85v2.85h-2.85zM700.49 888.89h2.85v2.85h-2.85zM1422.68 891.75h2.85v2.85h-2.85zM691.93 894.6h2.85v2.85h-2.85zM694.79 897.45h2.85v2.85h-2.85zM1431.25 903.16h2.85v2.85h-2.85zM1436.96 917.44h2.85v2.85h-2.85zM669.09 928.85h2.85v2.85h-2.85zM1459.79 948.84h2.85v2.85h-2.85zM1505.46 974.53h2.85v2.85h-2.85zM1511.17 977.38h2.85v2.85h-2.85zM612 980.24h2.85v2.85h-2.85zM617.71 980.24h2.85v2.85h-2.85zM1516.88 980.24h2.85v2.85h-2.85zM1514.03 983.09h2.85v2.85h-2.85zM1519.74 985.94h2.85v2.85h-2.85zM583.46 1005.93h2.85v2.85h-2.85zM589.17 1005.93h2.85v2.85h-2.85zM1605.37 1025.91h2.85v2.85h-2.85zM1611.08 1028.76h2.85v2.85h-2.85zM1631.06 1043.03h2.85v2.85h-2.85zM526.37 1057.31h2.85v2.85h-2.85zM532.08 1057.31h2.85v2.85h-2.85zM1682.44 1065.87h2.85v2.85h-2.85zM1693.86 1068.72h2.85v2.85h-2.85zM1730.97 1074.43h2.85v2.85h-2.85zM1742.39 1077.29h2.85v2.85h-2.85zM497.82 1083h2.85v2.85h-2.85zM1782.35 1091.56h2.85v2.85h-2.85zM1793.77 1094.42h2.85v2.85h-2.85zM1819.46 1097.27h2.85v2.85h-2.85zM1816.6 1100.12h2.85v2.85h-2.85zM1830.88 1100.12h2.85v2.85h-2.85zM474.99 1108.69h2.85v2.85h-2.85z" fill-opacity="0.5"/>
<path d="M1071.58 283.74h2.85v2.85h-2.85zM1063.02 292.3h2.85v2.85h-2.85zM1083 300.86h2.85v2.85h-2.85zM1060.16 303.72h2.85v2.85h-2.85zM1085.85 306.57h2.85v2.85h-2.85zM1088.71 312.28h2.85v2.85h-2.85zM1091.56 317.99h2.85v2.85h-2.85zM1094.42 323.7h2.85v2.85h-2.85zM1043.03 326.55h2.85v2.85h-2.85zM1040.18 337.97h2.85v2.85h-2.85zM1031.62 346.54h2.85v2.85h-2.85zM1031.62 352.25h2.85v2.85h-2.85zM1020.2 372.23h2.85v2.85h-2.85zM1011.63 380.79h2.85v2.85h-2.85zM1011.63 386.5h2.85v2.85h-2.85zM1122.96 389.35h2.85v2.85h-2.85zM1003.07 395.06h2.85v2.85h-2.85zM1125.81 395.06h2.85v2.85h-2.85zM1128.67 400.77h2.85v2.85h-2.85zM1131.52 406.48h2.85v2.85h-2.85zM991.65 420.75h2.85v2.85h-2.85zM983.09 429.32h2.85v2.85h-2.85zM1148.65 435.03h2.85v2.85h-2.85zM980.24 440.73h2.85v2.85h-2.85zM1151.51 440.73h2.85v2.85h-2.85zM1154.36 446.44h2.85v2.85h-2.85zM1157.21 452.15h2.85v2.85h-2.85zM1160.07 457.86h2.85v2.85h-2.85zM963.11 463.57h2.85v2.85h-2.85zM960.25 474.99h2.85v2.85h-2.85zM951.69 483.55h2.85v2.85h-2.85zM951.69 489.26h2.85v2.85h-2.85zM1180.05 506.39h2.85v2.85h-2.85zM940.27 509.24h2.85v2.85h-2.85zM931.71 517.81h2.85v2.85h-2.85zM931.71 523.52h2.85v2.85h-2.85zM1191.47 529.22h2.85v2.85h-2.85zM923.15 532.08h2.85v2.85h-2.85zM1194.32 534.93h2.85v2.85h-2.85zM1197.18 540.64h2.85v2.85h-2.85zM911.73 557.77h2.85v2.85h-2.85zM903.16 566.33h2.85v2.85h-2.85zM1217.16 574.9h2.85v2.85h-2.85zM900.31 577.75h2.85v2.85h-2.85zM1220.01 580.61h2.85v2.85h-2.85zM1222.87 586.31h2.85v2.85h-2.85zM1225.72 592.02h2.85v2.85h-2.85zM883.18 600.59h2.85v2.85h-2.85zM880.33 612h2.85v2.85h-2.85zM871.76 620.57h2.85v2.85h-2.85zM871.76 626.28h2.85v2.85h-2.85zM1245.7 640.55h2.85v2.85h-2.85zM1257.12 663.39h2.85v2.85h-2.85zM1259.98 669.09h2.85v2.85h-2.85zM1262.83 674.8h2.85v2.85h-2.85zM1268.54 686.22h2.85v2.85h-2.85zM823.24 694.79h2.85v2.85h-2.85zM823.24 700.49h2.85v2.85h-2.85zM817.53 703.35h2.85v2.85h-2.85zM817.53 709.06h2.85v2.85h-2.85zM1291.38 711.91h2.85v2.85h-2.85zM811.82 717.62h2.85v2.85h-2.85zM1299.94 729.04h2.85v2.85h-2.85zM780.42 760.44h2.85v2.85h-2.85zM1322.78 760.44h2.85v2.85h-2.85zM1337.05 774.71h2.85v2.85h-2.85zM769 783.27h2.85v2.85h-2.85zM763.29 791.84h2.85v2.85h-2.85zM1354.17 803.26h2.85v2.85h-2.85zM1359.88 806.11h2.85v2.85h-2.85zM1368.45 817.53h2.85v2.85h-2.85zM1368.45 823.24h2.85v2.85h-2.85zM731.89 834.66h2.85v2.85h-2.85zM726.18 843.22h2.85v2.85h-2.85zM726.18 848.93h2.85v2.85h-2.85zM1391.28 848.93h2.85v2.85h-2.85zM720.48 851.78h2.85v2.85h-2.85zM1399.85 866.06h2.85v2.85h-2.85zM1422.68 897.45h2.85v2.85h-2.85zM1436.96 911.73h2.85v2.85h-2.85zM677.66 923.15h2.85v2.85h-2.85zM671.95 926h2.85v2.85h-2.85zM666.24 931.71h2.85v2.85h-2.85zM663.39 934.56h2.85v2.85h-2.85zM1454.08 940.27h2.85v2.85h-2.85zM1459.79 943.13h2.85v2.85h-2.85zM1468.35 954.54h2.85v2.85h-2.85zM637.7 957.4h2.85v2.85h-2.85zM634.84 960.25h2.85v2.85h-2.85zM1494.05 968.82h2.85v2.85h-2.85zM1499.75 971.67h2.85v2.85h-2.85zM623.42 974.53h2.85v2.85h-2.85zM620.57 977.38h2.85v2.85h-2.85zM1542.57 997.36h2.85v2.85h-2.85zM1548.28 1000.22h2.85v2.85h-2.85zM592.02 1003.07h2.85v2.85h-2.85zM1553.99 1003.07h2.85v2.85h-2.85zM1559.7 1005.93h2.85v2.85h-2.85zM580.61 1008.78h2.85v2.85h-2.85zM577.75 1011.63h2.85v2.85h-2.85zM1588.24 1017.34h2.85v2.85h-2.85zM1593.95 1020.2h2.85v2.85h-2.85zM1599.66 1023.05h2.85v2.85h-2.85zM566.33 1025.91h2.85v2.85h-2.85zM1636.77 1045.89h2.85v2.85h-2.85zM1642.48 1048.74h2.85v2.85h-2.85zM537.79 1051.6h2.85v2.85h-2.85zM1648.19 1051.6h2.85v2.85h-2.85zM534.93 1054.45h2.85v2.85h-2.85zM1653.9 1054.45h2.85v2.85h-2.85zM523.52 1060.16h2.85v2.85h-2.85zM520.66 1063.02h2.85v2.85h-2.85zM1685.3 1063.02h2.85v2.85h-2.85zM1696.71 1065.87h2.85v2.85h-2.85zM1728.11 1077.29h2.85v2.85h-2.85zM1739.53 1080.14h2.85v2.85h-2.85zM494.97 1085.85h2.85v2.85h-2.85zM1773.79 1085.85h2.85v2.85h-2.85zM492.12 1088.71h2.85v2.85h-2.85zM1773.79 1088.71h2.85v2.85h-2.85zM1785.2 1088.71h2.85v2.85h-2.85zM480.7 1102.98h2.85v2.85h-2.85zM1828.02 1102.98h2.85v2.85h-2.85zM477.84 1105.83h2.85v2.85h-2.85zM1839.44 1105.83h2.85v2.85h-2.85zM1862.28 1108.69h2.85v2.85h-2.85zM1862.28 1111.54h2.85v2.85h-2.85z" fill-opacity="0.62"/>
<path d="M1060.16 298.01h5.71v2.85h-5.71zM1040.18 332.26h5.71v2.85h-5.71zM1131.52 400.77h2.85v2.85h-2.85zM1134.38 406.48h2.85v2.85h-2.85zM1134.38 412.19h5.71v2.85h-5.71zM980.24 435.03h5.71v2.85h-5.71zM960.25 469.28h5.71v2.85h-5.71zM1197.18 534.93h2.85v2.85h-2.85zM1200.03 540.64h2.85v2.85h-2.85zM1200.03 546.35h5.71v2.85h-5.71zM1202.89 552.06h5.71v2.85h-5.71zM900.31 572.04h5.71v2.85h-5.71zM880.33 606.3h5.71v2.85h-5.71zM851.78 651.97h5.71v2.85h-5.71zM846.07 660.53h5.71v2.85h-5.71zM840.36 669.09h5.71v2.85h-5.71zM1262.83 669.09h2.85v2.85h-2.85zM1265.69 674.8h2.85v2.85h-2.85zM1265.69 680.51h5.71v2.85h-5.71zM1271.39 689.08h5.71v2.85h-5.71zM1285.67 709.06h2.85v2.85h-2.85zM1294.23 720.48h5.71v2.85h-5.71zM1305.65 731.89h2.85v2.85h-2.85zM791.84 743.31h5.71v2.85h-5.71zM786.13 751.88h5.71v2.85h-5.71zM1328.48 763.29h2.85v2.85h-2.85zM1331.34 771.86h2.85v2.85h-2.85zM754.73 800.4h5.71v2.85h-5.71zM749.02 808.97h5.71v2.85h-5.71zM1362.74 814.67h5.71v2.85h-5.71zM1371.3 826.09h5.71v2.85h-5.71zM1385.57 846.07h2.85v2.85h-2.85zM1394.14 857.49h5.71v2.85h-5.71zM1405.56 868.91h2.85v2.85h-2.85zM706.2 874.62h5.71v2.85h-5.71zM700.49 883.18h5.71v2.85h-5.71zM694.79 891.75h5.71v2.85h-5.71zM689.08 900.31h5.71v2.85h-5.71zM1428.39 900.31h2.85v2.85h-2.85zM1431.25 908.87h2.85v2.85h-2.85zM660.53 937.42h2.85v2.85h-2.85zM1462.65 951.69h5.71v2.85h-5.71zM1471.21 957.4h2.85v2.85h-2.85zM1471.21 960.25h2.85v2.85h-2.85zM631.99 963.11h2.85v2.85h-2.85zM626.28 971.67h2.85v2.85h-2.85zM1559.7 1003.07h2.85v2.85h-2.85zM1565.41 1005.93h2.85v2.85h-2.85zM1565.41 1008.78h2.85v2.85h-2.85zM574.9 1014.49h2.85v2.85h-2.85zM569.19 1023.05h2.85v2.85h-2.85zM546.35 1040.18h2.85v2.85h-2.85zM540.64 1048.74h2.85v2.85h-2.85zM1685.3 1065.87h2.85v2.85h-2.85zM1696.71 1068.72h2.85v2.85h-2.85zM1728.11 1074.43h2.85v2.85h-2.85zM1739.53 1077.29h2.85v2.85h-2.85zM489.26 1091.56h2.85v2.85h-2.85zM1785.2 1091.56h2.85v2.85h-2.85zM1816.6 1097.27h2.85v2.85h-2.85zM483.55 1100.12h2.85v2.85h-2.85zM1819.46 1100.12h2.85v2.85h-2.85zM1828.02 1100.12h2.85v2.85h-2.85zM1839.44 1102.98h2.85v2.85h-2.85z" fill-opacity="0.75"/>
<path d="M1068.72 283.74h2.85v2.85h-2.85zM1065.87 292.3h2.85v2.85h-2.85zM1080.14 300.86h2.85v2.85h-2.85zM1057.31 303.72h2.85v2.85h-2.85zM1083 306.57h2.85v2.85h-2.85zM1085.85 312.28h2.85v2.85h-2.85zM1088.71 317.99h2.85v2.85h-2.85zM1091.56 323.7h2.85v2.85h-2.85zM1045.89 326.55h2.85v2.85h-2.85zM1037.33 337.97h2.85v2.85h-2.85zM1034.47 346.54h2.85v2.85h-2.85zM1028.76 352.25h2.85v2.85h-2.85zM1108.69 355.1h2.85v2.85h-2.85zM1111.54 360.81h2.85v2.85h-2.85zM1114.4 366.52h2.85v2.85h-2.85zM1017.34 372.23h2.85v2.85h-2.85zM1014.49 380.79h2.85v2.85h-2.85zM1008.78 386.5h2.85v2.85h-2.85zM1125.81 389.35h2.85v2.85h-2.85zM1005.93 395.06h2.85v2.85h-2.85zM1128.67 395.06h2.85v2.85h-2.85zM988.8 420.75h2.85v2.85h-2.85zM985.94 429.32h2.85v2.85h-2.85zM1145.8 435.03h2.85v2.85h-2.85zM977.38 440.73h2.85v2.85h-2.85zM1148.65 440.73h2.85v2.85h-2.85zM1151.51 446.44h2.85v2.85h-2.85zM1154.36 452.15h2.85v2.85h-2.85zM1157.21 457.86h2.85v2.85h-2.85zM965.96 463.57h2.85v2.85h-2.85zM957.4 474.99h2.85v2.85h-2.85zM954.54 483.55h2.85v2.85h-2.85zM948.84 489.26h2.85v2.85h-2.85zM1174.34 489.26h2.85v2.85h-2.85zM1177.2 494.97h2.85v2.85h-2.85zM1180.05 500.68h2.85v2.85h-2.85zM1182.9 506.39h2.85v2.85h-2.85zM937.42 509.24h2.85v2.85h-2.85zM934.56 517.81h2.85v2.85h-2.85zM928.85 523.52h2.85v2.85h-2.85zM1194.32 529.22h2.85v2.85h-2.85zM926 532.08h2.85v2.85h-2.85zM908.87 557.77h2.85v2.85h-2.85zM906.02 566.33h2.85v2.85h-2.85zM1214.3 574.9h2.85v2.85h-2.85zM897.45 577.75h2.85v2.85h-2.85zM1217.16 580.61h2.85v2.85h-2.85zM1220.01 586.31h2.85v2.85h-2.85zM1222.87 592.02h2.85v2.85h-2.85zM1225.72 597.73h2.85v2.85h-2.85zM886.04 600.59h2.85v2.85h-2.85zM877.47 612h2.85v2.85h-2.85zM874.62 620.57h2.85v2.85h-2.85zM1239.99 623.42h2.85v2.85h-2.85zM868.91 626.28h2.85v2.85h-2.85zM1242.85 629.13h2.85v2.85h-2.85zM1245.7 634.84h2.85v2.85h-2.85zM1248.56 640.55h2.85v2.85h-2.85zM1259.98 663.39h2.85v2.85h-2.85zM1271.39 686.22h2.85v2.85h-2.85zM826.09 691.93h2.85v2.85h-2.85zM826.09 694.79h2.85v2.85h-2.85zM820.38 700.49h2.85v2.85h-2.85zM820.38 703.35h2.85v2.85h-2.85zM814.67 709.06h2.85v2.85h-2.85zM1288.52 709.06h2.85v2.85h-2.85zM814.67 711.91h2.85v2.85h-2.85zM1288.52 711.91h2.85v2.85h-2.85zM808.97 717.62h2.85v2.85h-2.85zM1302.79 729.04h2.85v2.85h-2.85zM1302.79 731.89h2.85v2.85h-2.85zM783.27 760.44h2.85v2.85h-2.85zM1325.63 760.44h2.85v2.85h-2.85zM1325.63 763.29h2.85v2.85h-2.85zM1334.19 771.86h2.85v2.85h-2.85zM1334.19 774.71h2.85v2.85h-2.85zM766.15 783.27h2.85v2.85h-2.85zM766.15 786.13h2.85v2.85h-2.85zM760.44 791.84h2.85v2.85h-2.85zM1357.03 803.26h2.85v2.85h-2.85zM1357.03 806.11h2.85v2.85h-2.85zM1365.59 817.53h2.85v2.85h-2.85zM1371.3 823.24h2.85v2.85h-2.85zM734.75 834.66h2.85v2.85h-2.85zM729.04 840.36h2.85v2.85h-2.85zM729.04 843.22h2.85v2.85h-2.85zM1388.43 846.07h2.85v2.85h-2.85zM723.33 848.93h2.85v2.85h-2.85zM1388.43 848.93h2.85v2.85h-2.85zM723.33 851.78h2.85v2.85h-2.85zM1402.7 866.06h2.85v2.85h-2.85zM1402.7 868.91h2.85v2.85h-2.85zM1425.54 897.45h2.85v2.85h-2.85zM1425.54 900.31h2.85v2.85h-2.85zM1434.1 908.87h2.85v2.85h-2.85zM1434.1 911.73h2.85v2.85h-2.85zM674.8 923.15h2.85v2.85h-2.85zM674.8 926h2.85v2.85h-2.85zM663.39 937.42h2.85v2.85h-2.85zM657.68 940.27h5.71v2.85h-5.71zM1456.94 940.27h2.85v2.85h-2.85zM657.68 943.13h2.85v2.85h-2.85zM1456.94 943.13h2.85v2.85h-2.85zM1465.5 954.54h2.85v2.85h-2.85zM634.84 963.11h2.85v2.85h-2.85zM629.13 965.96h5.71v2.85h-5.71zM626.28 968.82h5.71v2.85h-5.71zM623.42 971.67h2.85v2.85h-2.85zM1494.05 971.67h2.85v2.85h-2.85zM1499.75 974.53h2.85v2.85h-2.85zM1505.46 977.38h2.85v2.85h-2.85zM1511.17 980.24h2.85v2.85h-2.85zM1542.57 994.51h2.85v2.85h-2.85zM1548.28 997.36h2.85v2.85h-2.85zM1553.99 1000.22h2.85v2.85h-2.85zM577.75 1014.49h2.85v2.85h-2.85zM572.04 1017.34h5.71v2.85h-5.71zM569.19 1020.2h5.71v2.85h-5.71zM1588.24 1020.2h2.85v2.85h-2.85zM566.33 1023.05h2.85v2.85h-2.85zM1593.95 1023.05h2.85v2.85h-2.85zM1599.66 1025.91h2.85v2.85h-2.85zM1605.37 1028.76h2.85v2.85h-2.85zM1611.08 1031.62h2.85v2.85h-2.85zM1631.06 1040.18h2.85v2.85h-2.85zM543.5 1043.03h5.71v2.85h-5.71zM1636.77 1043.03h2.85v2.85h-2.85zM540.64 1045.89h5.71v2.85h-5.71zM1642.48 1045.89h2.85v2.85h-2.85zM537.79 1048.74h2.85v2.85h-2.85zM1648.19 1048.74h2.85v2.85h-2.85zM1653.9 1051.6h2.85v2.85h-2.85zM1682.44 1063.02h2.85v2.85h-2.85zM520.66 1065.87h2.85v2.85h-2.85zM1693.86 1065.87h2.85v2.85h-2.85zM1730.97 1077.29h2.85v2.85h-2.85zM1742.39 1080.14h2.85v2.85h-2.85zM1770.93 1085.85h2.85v2.85h-2.85zM1782.35 1088.71h2.85v2.85h-2.85zM492.12 1091.56h2.85v2.85h-2.85zM1793.77 1091.56h2.85v2.85h-2.85zM486.41 1094.42h5.71v2.85h-5.71zM483.55 1097.27h5.71v2.85h-5.71zM480.7 1100.12h2.85v2.85h-2.85zM1830.88 1102.98h2.85v2.85h-2.85zM1865.13 1111.54h2.85v2.85h-2.85z" fill-opacity="0.88"/>
<path d="M1068.72 286.59h2.85v2.85h-2.85zM1065.87 289.45h2.85v2.85h-2.85zM1063.02 295.16h2.85v2.85h-2.85zM1080.14 298.01h2.85v2.85h-2.85zM1060.16 300.86h2.85v2.85h-2.85zM1083 303.72h2.85v2.85h-2.85zM1057.31 306.57h2.85v2.85h-2.85zM1085.85 309.43h2.85v2.85h-2.85zM1088.71 315.14h2.85v2.85h-2.85zM1091.56 320.85h2.85v2.85h-2.85zM1043.03 329.41h2.85v2.85h-2.85zM1040.18 335.12h2.85v2.85h-2.85zM1037.33 340.83h2.85v2.85h-2.85zM1034.47 343.68h2.85v2.85h-2.85zM1102.98 343.68h2.85v2.85h-2.85zM1102.98 346.54h2.85v2.85h-2.85zM1031.62 349.39h2.85v2.85h-2.85zM1105.83 349.39h2.85v2.85h-2.85zM1105.83 352.25h2.85v2.85h-2.85zM1108.69 357.95h2.85v2.85h-2.85zM1111.54 363.66h2.85v2.85h-2.85zM1114.4 369.37h2.85v2.85h-2.85zM1017.34 375.08h2.85v2.85h-2.85zM1014.49 377.94h2.85v2.85h-2.85zM1011.63 383.64h2.85v2.85h-2.85zM1008.78 389.35h2.85v2.85h-2.85zM1005.93 392.21h2.85v2.85h-2.85zM1125.81 392.21h2.85v2.85h-2.85zM1003.07 397.92h2.85v2.85h-2.85zM1128.67 397.92h2.85v2.85h-2.85zM1131.52 403.63h2.85v2.85h-2.85zM1134.38 409.34h2.85v2.85h-2.85zM1137.23 415.04h2.85v2.85h-2.85zM991.65 417.9h2.85v2.85h-2.85zM988.8 423.61h2.85v2.85h-2.85zM985.94 426.46h2.85v2.85h-2.85zM983.09 432.17h2.85v2.85h-2.85zM980.24 437.88h2.85v2.85h-2.85zM1148.65 437.88h2.85v2.85h-2.85zM977.38 443.59h2.85v2.85h-2.85zM1151.51 443.59h2.85v2.85h-2.85zM1154.36 449.3h2.85v2.85h-2.85zM1157.21 455.01h2.85v2.85h-2.85zM1160.07 460.72h2.85v2.85h-2.85zM963.11 466.43h2.85v2.85h-2.85zM960.25 472.13h2.85v2.85h-2.85zM957.4 477.84h2.85v2.85h-2.85zM954.54 480.7h2.85v2.85h-2.85zM1168.63 480.7h2.85v2.85h-2.85zM1171.49 483.55h2.85v2.85h-2.85zM951.69 486.41h2.85v2.85h-2.85zM1171.49 486.41h2.85v2.85h-2.85zM1174.34 492.12h2.85v2.85h-2.85zM1177.2 497.82h2.85v2.85h-2.85zM1180.05 503.53h2.85v2.85h-2.85zM937.42 512.1h2.85v2.85h-2.85zM934.56 514.95h2.85v2.85h-2.85zM931.71 520.66h2.85v2.85h-2.85zM928.85 526.37h2.85v2.85h-2.85zM1191.47 526.37h2.85v2.85h-2.85zM926 529.22h2.85v2.85h-2.85zM1194.32 532.08h2.85v2.85h-2.85zM923.15 534.93h2.85v2.85h-2.85zM1197.18 537.79h2.85v2.85h-2.85zM1200.03 543.5h2.85v2.85h-2.85zM1202.89 549.21h2.85v2.85h-2.85zM911.73 554.91h2.85v2.85h-2.85zM908.87 560.62h2.85v2.85h-2.85zM906.02 563.48h2.85v2.85h-2.85zM903.16 569.19h2.85v2.85h-2.85zM1214.3 572.04h2.85v2.85h-2.85zM900.31 574.9h2.85v2.85h-2.85zM1217.16 577.75h2.85v2.85h-2.85zM897.45 580.61h2.85v2.85h-2.85zM1220.01 583.46h2.85v2.85h-2.85zM1222.87 589.17h2.85v2.85h-2.85zM1225.72 594.88h2.85v2.85h-2.85zM883.18 603.44h2.85v2.85h-2.85zM880.33 609.15h2.85v2.85h-2.85zM877.47 614.86h2.85v2.85h-2.85zM874.62 617.71h2.85v2.85h-2.85zM1237.14 617.71h2.85v2.85h-2.85zM1237.14 620.57h2.85v2.85h-2.85zM871.76 623.42h2.85v2.85h-2.85zM1239.99 626.28h2.85v2.85h-2.85zM1242.85 631.99h2.85v2.85h-2.85zM1245.7 637.7h2.85v2.85h-2.85zM1248.56 643.4h2.85v2.85h-2.85zM857.49 646.26h2.85v2.85h-2.85zM854.64 649.11h2.85v2.85h-2.85zM851.78 654.82h2.85v2.85h-2.85zM848.93 657.68h2.85v2.85h-2.85zM846.07 663.39h2.85v2.85h-2.85zM843.22 666.24h2.85v2.85h-2.85zM1259.98 666.24h2.85v2.85h-2.85zM840.36 671.95h2.85v2.85h-2.85zM1262.83 671.95h2.85v2.85h-2.85zM1265.69 677.66h2.85v2.85h-2.85zM1268.54 683.37h2.85v2.85h-2.85zM823.24 697.64h2.85v2.85h-2.85zM817.53 706.2h2.85v2.85h-2.85zM811.82 714.77h2.85v2.85h-2.85zM1291.38 714.77h2.85v2.85h-2.85zM1294.23 717.62h2.85v2.85h-2.85zM1297.08 723.33h2.85v2.85h-2.85zM1299.94 726.18h2.85v2.85h-2.85zM1305.65 734.75h2.85v2.85h-2.85zM797.55 737.6h2.85v2.85h-2.85zM794.69 740.46h2.85v2.85h-2.85zM791.84 746.17h2.85v2.85h-2.85zM788.98 749.02h2.85v2.85h-2.85zM786.13 754.73h2.85v2.85h-2.85zM1319.92 754.73h2.85v2.85h-2.85zM783.27 757.58h2.85v2.85h-2.85zM1322.78 757.58h2.85v2.85h-2.85zM780.42 763.29h2.85v2.85h-2.85zM1328.48 766.15h2.85v2.85h-2.85zM1331.34 769h2.85v2.85h-2.85zM1337.05 777.57h2.85v2.85h-2.85zM1339.9 780.42h2.85v2.85h-2.85zM763.29 788.98h2.85v2.85h-2.85zM760.44 794.69h2.85v2.85h-2.85zM757.58 797.55h2.85v2.85h-2.85zM1354.17 800.4h2.85v2.85h-2.85zM754.73 803.26h2.85v2.85h-2.85zM751.88 806.11h2.85v2.85h-2.85zM1359.88 808.97h2.85v2.85h-2.85zM1362.74 811.82h2.85v2.85h-2.85zM1368.45 820.38h2.85v2.85h-2.85zM737.6 828.95h2.85v2.85h-2.85zM734.75 831.8h2.85v2.85h-2.85zM731.89 837.51h2.85v2.85h-2.85zM726.18 846.07h2.85v2.85h-2.85zM1391.28 851.78h2.85v2.85h-2.85zM720.48 854.64h2.85v2.85h-2.85zM1394.14 854.64h2.85v2.85h-2.85zM1396.99 860.35h2.85v2.85h-2.85zM1399.85 863.2h2.85v2.85h-2.85zM1405.56 871.76h2.85v2.85h-2.85zM706.2 877.47h2.85v2.85h-2.85zM703.35 880.33h2.85v2.85h-2.85zM700.49 886.04h2.85v2.85h-2.85zM697.64 888.89h2.85v2.85h-2.85zM1419.83 891.75h2.85v2.85h-2.85zM694.79 894.6h2.85v2.85h-2.85zM1422.68 894.6h2.85v2.85h-2.85zM691.93 897.45h2.85v2.85h-2.85zM1428.39 903.16h2.85v2.85h-2.85zM1431.25 906.02h2.85v2.85h-2.85zM1436.96 914.58h2.85v2.85h-2.85zM1439.81 917.44h2.85v2.85h-2.85zM677.66 920.29h2.85v2.85h-2.85zM671.95 928.85h2.85v2.85h-2.85zM669.09 931.71h2.85v2.85h-2.85zM666.24 934.56h2.85v2.85h-2.85zM1454.08 937.42h2.85v2.85h-2.85zM1459.79 945.98h2.85v2.85h-2.85zM1462.65 948.84h2.85v2.85h-2.85zM1468.35 957.4h2.85v2.85h-2.85zM637.7 960.25h2.85v2.85h-2.85zM1474.06 960.25h2.85v2.85h-2.85zM1496.9 971.67h2.85v2.85h-2.85zM620.57 974.53h2.85v2.85h-2.85zM1502.61 974.53h2.85v2.85h-2.85zM617.71 977.38h2.85v2.85h-2.85zM1508.32 977.38h2.85v2.85h-2.85zM614.86 980.24h2.85v2.85h-2.85zM1514.03 980.24h2.85v2.85h-2.85zM612 983.09h2.85v2.85h-2.85zM1516.88 983.09h5.71v2.85h-5.71zM1539.72 994.51h2.85v2.85h-2.85zM1545.43 997.36h2.85v2.85h-2.85zM592.02 1000.22h2.85v2.85h-2.85zM1551.14 1000.22h2.85v2.85h-2.85zM589.17 1003.07h2.85v2.85h-2.85zM1556.84 1003.07h2.85v2.85h-2.85zM586.31 1005.93h2.85v2.85h-2.85zM1562.55 1005.93h2.85v2.85h-2.85zM583.46 1008.78h2.85v2.85h-2.85zM580.61 1011.63h2.85v2.85h-2.85zM1585.39 1017.34h2.85v2.85h-2.85zM1591.1 1020.2h2.85v2.85h-2.85zM1596.81 1023.05h2.85v2.85h-2.85zM1602.52 1025.91h2.85v2.85h-2.85zM1608.23 1028.76h2.85v2.85h-2.85zM1633.92 1043.03h2.85v2.85h-2.85zM1639.62 1045.89h2.85v2.85h-2.85zM1645.33 1048.74h2.85v2.85h-2.85zM534.93 1051.6h2.85v2.85h-2.85zM1651.04 1051.6h2.85v2.85h-2.85zM532.08 1054.45h2.85v2.85h-2.85zM1656.75 1054.45h2.85v2.85h-2.85zM529.22 1057.31h2.85v2.85h-2.85zM526.37 1060.16h2.85v2.85h-2.85zM523.52 1063.02h2.85v2.85h-2.85zM1676.73 1063.02h5.71v2.85h-5.71zM1688.15 1065.87h5.71v2.85h-5.71zM1699.57 1068.72h5.71v2.85h-5.71zM1722.41 1074.43h5.71v2.85h-5.71zM1733.82 1077.29h5.71v2.85h-5.71zM1745.24 1080.14h5.71v2.85h-5.71zM500.68 1083h2.85v2.85h-2.85zM497.82 1085.85h2.85v2.85h-2.85zM1768.08 1085.85h2.85v2.85h-2.85zM494.97 1088.71h2.85v2.85h-2.85zM1776.64 1088.71h5.71v2.85h-5.71zM1788.06 1091.56h5.71v2.85h-5.71zM1813.75 1097.27h2.85v2.85h-2.85zM1822.31 1100.12h5.71v2.85h-5.71zM477.84 1102.98h2.85v2.85h-2.85zM1833.73 1102.98h5.71v2.85h-5.71zM474.99 1105.83h2.85v2.85h-2.85zM1859.42 1108.69h2.85v2.85h-2.85zM1867.98 1111.54h2.85v2.85h-2.85z"/>
<rect x="460.72" y="1097.27" width="25.69" height="25.69"/>
<rect x="660.53" y="917.44" width="25.69" height="25.69"/>
<rect x="860.35" y="612" width="25.69" height="25.69"/>
<rect x="1060.16" y="269.46" width="25.69" height="25.69"/>
<rect x="1257.12" y="671.95" width="25.69" height="25.69"/>
<rect x="1456.94" y="945.98" width="25.69" height="25.69"/>
<rect x="1656.75" y="1048.74" width="25.69" height="25.69"/>
<rect x="1856.57" y="1100.12" width="25.69" height="25.69"/>
</g>
</g>
<g id="box" fill="none">
<rect x="276.6" y="45.39" width="1789.77" height="1370.16" stroke="#979797" stroke-width="8.56"/>
<rect x="276.6" y="45.39" width="1789.77" height="1370.16" stroke="#232323" stroke-width="2.85"/>
</g>
<g id="ticks">
<rect x="469.28" y="1396.99" width="2.85" height="17.13" fill="rgba(35,35,35,0.47)"/>
<rect x="472.13" y="1396.99" width="2.85" height="17.13" fill="#232323"/>
<rect x="474.99" y="1396.99" width="2.85" height="17.13" fill="rgba(35,35,35,0.47)"/>
<rect x="469.28" y="1394.14" width="2.85" height="2.85" fill="rgba(35,35,35,0.25)"/>
<rect x="472.13" y="1394.14" width="2.85" height="2.85" fill="rgba(35,35,35,0.53)"/>
<rect x="474.99" y="1394.14" width="2.85" height="2.85" fill="rgba(35,35,35,0.25)"/>
<rect x="469.28" y="46.81" width="2.85" height="19.98" fill="rgba(35,35,35,0.47)"/>
<rect x="472.13" y="46.81" width="2.85" height="19.98" fill="#232323"/>
<rect x="474.99" y="46.81" width="2.85" height="19.98" fill="rgba(35,35,35,0.47)"/>
<rect x="469.28" y="66.8" width="2.85" height="2.85" fill="rgba(35,35,35,0.25)"/>
<rect x="472.13" y="66.8" width="2.85" height="2.85" fill="rgba(35,35,35,0.53)"/>
<rect x="474.99" y="66.8" width="2.85" height="2.85" fill="rgba(35,35,35,0.25)"/>
<rect x="669.09" y="1396.99" width="2.85" height="17.13" fill="rgba(35,35,35,0.47)"/>
<rect x="671.95" y="1396.99" width="2.85" height="17.13" fill="#232323"/>
<rect x="674.8" y="1396.99" width="2.85" height="17.13" fill="rgba(35,35,35,0.47)"/>
<rect x="669.09" y="1394.14" width="2.85" height="2.85" fill="rgba(35,35,35,0.25)"/>
<rect x="671.95" y="1394.14" width="2.85" height="2.85" fill="rgba(35,35,35,0.53)"/>
<rect x="674.8" y="1394.14" width="2.85" height="2.85" fill="rgba(35,35,35,0.25)"/>
<rect x="669.09" y="46.81" width="2.85" height="19.98" fill="rgba(35,35,35,0.47)"/>
<rect x="671.95" y="46.81" width="2.85" height="19.98" fill="#232323"/>
<rect x="674.8" y="46.81" width="2.85" height="19.98" fill="rgba(35,35,35,0.47)"/>
<rect x="669.09" y="66.8" width="2.85" height="2.85" fill="rgba(35,35,35,0.25)"/>
<rect x="671.95" y="66.8" width="2.85" height="2.85" fill="rgba(35,35,35,0.53)"/>
<rect x="674.8" y="66.8" width="2.85" height="2.85" fill="rgba(35,35,35,0.25)"/>
<rect x="868.91" y="1396.99" width="2.85" height="17.13" fill="rgba(35,35,35,0.47)"/>
<rect x="871.76" y="1396.99" width="2.85" height="17.13" fill="#232323"/>
<rect x="874.62" y="1396.99" width="2.85" height="17.13" fill="rgba(35,35,35,0.47)"/>
<rect x="868.91" y="1394.14" width="2.85" height="2.85" fill="rgba(35,35,35,0.25)"/>
<rect x="871.76" y="1394.14" width="2.85" height="2.85" fill="rgba(35,35,35,0.53)"/>
<rect x="874.62" y="1394.14" width="2.85" height="2.85" fill="rgba(35,35,35,0.25)"/>
<rect x="868.91" y="46.81" width="2.85" height="19.98" fill="rgba(35,35,35,0.47)"/>
<rect x="871.76" y="46.81" width="2.85" height="19.98" fill="#232323"/>
<rect x="874.62" y="46.81" width="2.85" height="19.98" fill="rgba(35,35,35,0.47)"/>
<rect x="868.91" y="66.8" width="2.85" height="2.85" fill="rgba(35,35,35,0.25)"/>
<rect x="871.76" y="66.8" width="2.85" height="2.85" fill="rgba(35,35,35,0.53)"/>
<rect x="874.62" y="66.8" width="2.85" height="2.85" fill="rgba(35,35,35,0.25)"/>
<rect x="1068.72" y="1396.99" width="2.85" height="17.13" fill="rgba(35,35,35,0.47)"/>
<rect x="1071.58" y="1396.99" width="2.85" height="17.13" fill="#232323"/>
<rect x="1074.43" y="1396.99" width="2.85" height="17.13" fill="rgba(35,35,35,0.47)"/>
<rect x="1068.72" y="1394.14" width="2.85" height="2.85" fill="rgba(35,35,35,0.25)"/>
<rect x="1071.58" y="1394.14" width="2.85" height="2.85" fill="rgba(35,35,35,0.53)"/>
<rect x="1074.43" y="1394.14" width="2.85" height="2.85" fill="rgba(35,35,35,0.25)"/>
<rect x="1068.72" y="46.81" width="2.85" height="19.98" fill="rgba(35,35,35,0.47)"/>
<rect x="1071.58" y="46.81" width="2.85" height="19.98" fill="#232323"/>
<rect x="1074.43" y="46.81" width="2.85" height="19.98" fill="rgba(35,35,35,0.47)"/>
<rect x="1068.72" y="66.8" width="2.85" height="2.85" fill="rgba(35,35,35,0.25)"/>
<rect x="1071.58" y="66.8" width="2.85" height="2.85" fill="rgba(35,35,35,0.53)"/>
<rect x="1074.43" y="66.8" width="2.85" height="2.85" fill="rgba(35,35,35,0.25)"/>
<rect x="1265.69" y="1396.99" width="2.85" height="17.13" fill="rgba(35,35,35,0.47)"/>
<rect x="1268.54" y="1396.99" width="2.85" height="17.13" fill="#232323"/>
<rect x="1271.39" y="1396.99" width="2.85" height="17.13" fill="rgba(35,35,35,0.47)"/>
<rect x="1265.69" y="1394.14" width="2.85" height="2.85" fill="rgba(35,35,35,0.25)"/>
<rect x="1268.54" y="1394.14" width="2.85" height="2.85" fill="rgba(35,35,35,0.53)"/>
<rect x="1271.39" y="1394.14" width="2.85" height="2.85" fill="rgba(35,35,35,0.25)"/>
<rect x="1265.69" y="46.81" width="2.85" height="19.98" fill="rgba(35,35,35,0.47)"/>
<rect x="1268.54" y="46.81" width="2.85" height="19.98" fill="#232323"/>
<rect x="1271.39" y="46.81" width="2.85" height="19.98" fill="rgba(35,35,35,0.47)"/>
<rect x="1265.69" y="66.8" width="2.85" height="2.85" fill="rgba(35,35,35,0.25)"/>
<rect x="1268.54" y="66.8" width="2.85" height="2.85" fill="rgba(35,35,35,0.53)"/>
<rect x="1271.39" y="66.8" width="2.85" height="2.85" fill="rgba(35,35,35,0.25)"/>
<rect x="1465.5" y="1396.99" width="2.85" height="17.13" fill="rgba(35,35,35,0.47)"/>
<rect x="1468.35" y="1396.99" width="2.85" height="17.13" fill="#232323"/>
<rect x="1471.21" y="1396.99" width="2.85" height="17.13" fill="rgba(35,35,35,0.47)"/>
<rect x="1465.5" y="1394.14" width="2.85" height="2.85" fill="rgba(35,35,35,0.25)"/>
<rect x="1468.35" y="1394.14" width="2.85" height="2.85" fill="rgba(35,35,35,0.53)"/>
<rect x="1471.21" y="1394.14" width="2.85" height="2.85" fill="rgba(35,35,35,0.25)"/>
<rect x="1465.5" y="46.81" width="2.85" height="19.98" fill="rgba(35,35,35,0.47)"/>
<rect x="1468.35" y="46.81" width="2.85" height="19.98" fill="#232323"/>
<rect x="1471.21" y="46.81" width="2.85" height="19.98" fill="rgba(35,35,35,0.47)"/>
<rect x="1465.5" y="66.8" width="2.85" height="2.85" fill="rgba(35,35,35,0.25)"/>
<rect x="1468.35" y="66.8" width="2.85" height="2.85" fill="rgba(35,35,35,0.53)"/>
<rect x="1471.21" y="66.8" width="2.85" height="2.85" fill="rgba(35,35,35,0.25)"/>
<rect x="1665.32" y="1396.99" width="2.85" height="17.13" fill="rgba(35,35,35,0.47)"/>
<rect x="1668.17" y="1396.99" width="2.85" height="17.13" fill="#232323"/>
<rect x="1671.02" y="1396.99" width="2.85" height="17.13" fill="rgba(35,35,35,0.47)"/>
<rect x="1665.32" y="1394.14" width="2.85" height="2.85" fill="rgba(35,35,35,0.25)"/>
<rect x="1668.17" y="1394.14" width="2.85" height="2.85" fill="rgba(35,35,35,0.53)"/>
<rect x="1671.02" y="1394.14" width="2.85" height="2.85" fill="rgba(35,35,35,0.25)"/>
<rect x="1665.32" y="46.81" width="2.85" height="19.98" fill="rgba(35,35,35,0.47)"/>
<rect x="1668.17" y="46.81" width="2.85" height="19.98" fill="#232323"/>
<rect x="1671.02" y="46.81" width="2.85" height="19.98" fill="rgba(35,35,35,0.47)"/>
<rect x="1665.32" y="66.8" width="2.85" height="2.85" fill="rgba(35,35,35,0.25)"/>
<rect x="1668.17" y="66.8" width="2.85" height="2.85" fill="rgba(35,35,35,0.53)"/>
<rect x="1671.02" y="66.8" width="2.85" height="2.85" fill="rgba(35,35,35,0.25)"/>
<rect x="1865.13" y="1396.99" width="2.85" height="17.13" fill="rgba(35,35,35,0.47)"/>
<rect x="1867.98" y="1396.99" width="2.85" height="17.13" fill="#232323"/>
<rect x="1870.84" y="1396.99" width="2.85" height="17.13" fill="rgba(35,35,35,0.47)"/>
<rect x="1865.13" y="1394.14" width="2.85" height="2.85" fill="rgba(35,35,35,0.25)"/>
<rect x="1867.98" y="1394.14" width="2.85" height="2.85" fill="rgba(35,35,35,0.53)"/>
<rect x="1870.84" y="1394.14" width="2.85" height="2.85" fill="rgba(35,35,35,0.25)"/>
<rect x="1865.13" y="46.81" width="2.85" height="19.98" fill="rgba(35,35,35,0.47)"/>
<rect x="1867.98" y="46.81" width="2.85" height="19.98" fill="#232323"/>
<rect x="1870.84" y="46.81" width="2.85" height="19.98" fill="rgba(35,35,35,0.47)"/>
<rect x="1865.13" y="66.8" width="2.85" height="2.85" fill="rgba(35,35,35,0.25)"/>
<rect x="1867.98" y="66.8" width="2.85" height="2.85" fill="rgba(35,35,35,0.53)"/>
<rect x="1870.84" y="66.8" width="2.85" height="2.85" fill="rgba(35,35,35,0.25)"/>
<rect x="278.03" y="272.32" width="17.13" height="2.85" fill="rgba(35,35,35,0.47)"/>
<rect x="278.03" y="275.17" width="17.13" height="2.85" fill="#232323"/>
<rect x="278.03" y="278.03" width="17.13" height="2.85" fill="rgba(35,35,35,0.47)"/>
<rect x="295.16" y="272.32" width="2.85" height="2.85" fill="rgba(35,35,35,0.25)"/>
<rect x="295.16" y="275.17" width="2.85" height="2.85" fill="rgba(35,35,35,0.53)"/>
<rect x="295.16" y="278.03" width="2.85" height="2.85" fill="rgba(35,35,35,0.25)"/>
<rect x="2047.82" y="272.32" width="17.13" height="2.85" fill="rgba(35,35,35,0.47)"/>
<rect x="2047.82" y="275.17" width="17.13" height="2.85" fill="#232323"/>
<rect x="2047.82" y="278.03" width="17.13" height="2.85" fill="rgba(35,35,35,0.47)"/>
<rect x="2044.96" y="272.32" width="2.85" height="2.85" fill="rgba(35,35,35,0.25)"/>
<rect x="2044.96" y="275.17" width="2.85" height="2.85" fill="rgba(35,35,35,0.53)"/>
<rect x="2044.96" y="278.03" width="2.85" height="2.85" fill="rgba(35,35,35,0.25)"/>
<rect x="278.03" y="497.82" width="17.13" height="2.85" fill="rgba(35,35,35,0.47)"/>
<rect x="278.03" y="500.68" width="17.13" height="2.85" fill="#232323"/>
<rect x="278.03" y="503.53" width="17.13" height="2.85" fill="rgba(35,35,35,0.47)"/>
<rect x="295.16" y="497.82" width="2.85" height="2.85" fill="rgba(35,35,35,0.25)"/>
<rect x="295.16" y="500.68" width="2.85" height="2.85" fill="rgba(35,35,35,0.53)"/>
<rect x="295.16" y="503.53" width="2.85" height="2.85" fill="rgba(35,35,35,0.25)"/>
<rect x="2047.82" y="497.82" width="17.13" height="2.85" fill="rgba(35,35,35,0.47)"/>
<rect x="2047.82" y="500.68" width="17.13" height="2.85" fill="#232323"/>
<rect x="2047.82" y="503.53" width="17.13" height="2.85" fill="rgba(35,35,35,0.47)"/>
<rect x="2044.96" y="497.82" width="2.85" height="2.85" fill="rgba(35,35,35,0.25)"/>
<rect x="2044.96" y="500.68" width="2.85" height="2.85" fill="rgba(35,35,35,0.53)"/>
<rect x="2044.96" y="503.53" width="2.85" height="2.85" fill="rgba(35,35,35,0.25)"/>
<rect x="278.03" y="729.04" width="17.13" height="2.85" fill="rgba(35,35,35,0.47)"/>
<rect x="278.03" y="731.89" width="17.13" height="2.85" fill="#232323"/>
<rect x="278.03" y="734.75" width="17.13" height="2.85" fill="rgba(35,35,35,0.47)"/>
<rect x="295.16" y="729.04" width="2.85" height="2.85" fill="rgba(35,35,35,0.25)"/>
<rect x="295.16" y="731.89" width="2.85" height="2.85" fill="rgba(35,35,35,0.53)"/>
<rect x="295.16" y="734.75" width="2.85" height="2.85" fill="rgba(35,35,35,0.25)"/>
<rect x="2047.82" y="729.04" width="17.13" height="2.85" fill="rgba(35,35,35,0.47)"/>
<rect x="2047.82" y="731.89" width="17.13" height="2.85" fill="#232323"/>
<rect x="2047.82" y="734.75" width="17.13" height="2.85" fill="rgba(35,35,35,0.47)"/>
<rect x="2044.96" y="729.04" width="2.85" height="2.85" fill="rgba(35,35,35,0.25)"/>
<rect x="2044.96" y="731.89" width="2.85" height="2.85" fill="rgba(35,35,35,0.53)"/>
<rect x="2044.96" y="734.75" width="2.85" height="2.85" fill="rgba(35,35,35,0.25)"/>
<rect x="278.03" y="957.4" width="17.13" height="2.85" fill="rgba(35,35,35,0.47)"/>
<rect x="278.03" y="960.25" width="17.13" height="2.85" fill="#232323"/>
<rect x="278.03" y="963.11" width="17.13" height="2.85" fill="rgba(35,35,35,0.47)"/>
<rect x="295.16" y="957.4" width="2.85" height="2.85" fill="rgba(35,35,35,0.25)"/>
<rect x="295.16" y="960.25" width="2.85" height="2.85" fill="rgba(35,35,35,0.53)"/>
<rect x="295.16" y="963.11" width="2.85" height="2.85" fill="rgba(35,35,35,0.25)"/>
<rect x="2047.82" y="957.4" width="17.13" height="2.85" fill="rgba(35,35,35,0.47)"/>
<rect x="2047.82" y="960.25" width="17.13" height="2.85" fill="#232323"/>
<rect x="2047.82" y="963.11" width="17.13" height="2.85" fill="rgba(35,35,35,0.47)"/>
<rect x="2044.96" y="957.4" width="2.85" height="2.85" fill="rgba(35,35,35,0.25)"/>
<rect x="2044.96" y="960.25" width="2.85" height="2.85" fill="rgba(35,35,35,0.53)"/>
<rect x="2044.96" y="963.11" width="2.85" height="2.85" fill="rgba(35,35,35,0.25)"/>
<rect x="278.03" y="1185.76" width="17.13" height="2.85" fill="rgba(35,35,35,0.47)"/>
<rect x="278.03" y="1188.61" width="17.13" height="2.85" fill="#232323"/>
<rect x="278.03" y="1191.47" width="17.13" height="2.85" fill="rgba(35,35,35,0.47)"/>
<rect x="295.16" y="1185.76" width="2.85" height="2.85" fill="rgba(35,35,35,0.25)"/>
<rect x="295.16" y="1188.61" width="2.85" height="2.85" fill="rgba(35,35,35,0.53)"/>
<rect x="295.16" y="1191.47" width="2.85" height="2.85" fill="rgba(35,35,35,0.25)"/>
<rect x="2047.82" y="1185.76" width="17.13" height="2.85" fill="rgba(35,35,35,0.47)"/>
<rect x="2047.82" y="1188.61" width="17.13" height="2.85" fill="#232323"/>
<rect x="2047.82" y="1191.47" width="17.13" height="2.85" fill="rgba(35,35,35,0.47)"/>
<rect x="2044.96" y="1185.76" width="2.85" height="2.85" fill="rgba(35,35,35,0.25)"/>
<rect x="2044.96" y="1188.61" width="2.85" height="2.85" fill="rgba(35,35,35,0.53)"/>
<rect x="2044.96" y="1191.47" width="2.85" height="2.85" fill="rgba(35,35,35,0.25)"/>
</g>
<g id="xticklabels">
<text class="tick" transform="translate(0 1513.6) scale(0.932 1)" x="274.71" y="0">0</text>
<text class="tick" transform="translate(0 1513.6) scale(0.932 1)" x="491.3" y="0">1</text>
<rect x="461.74" y="1507.03" width="12.67" height="8.07" fill="#fff"/>
<rect x="480.22" y="1507.03" width="12.32" height="8.07" fill="#fff"/>
<text class="tick" transform="translate(0 1513.6) scale(0.932 1)" x="702.5" y="0">2</text>
<text class="tick" transform="translate(0 1513.6) scale(0.932 1)" x="915.15" y="0">3</text>
<text class="tick" transform="translate(0 1513.6) scale(0.932 1)" x="1127.83" y="0">4</text>
<text class="tick" transform="translate(0 1513.6) scale(0.932 1)" x="1344.2" y="0">5</text>
<text class="tick" transform="translate(0 1513.6) scale(0.932 1)" x="1557.3" y="0">6</text>
<text class="tick" transform="translate(0 1513.6) scale(0.932 1)" x="1769.31" y="0">7</text>
<text class="tick" transform="translate(0 1513.6) scale(0.932 1)" x="1984.15" y="0">8</text>
<text class="tick" transform="translate(0 1513.6) scale(0.932 1)" x="2197.69" y="0">9</text>
</g>
<g id="yticklabels">
<text class="tick" transform="translate(0 75.2) scale(0.932 1)" x="164.36 204.8 225.82" y="0">0.3</text>
<text class="tick" transform="translate(0 303.56) scale(0.932 1)" x="124.55 164.98 185.8 225.69" y="0">0.25</text>
<text class="tick" transform="translate(0 531.92) scale(0.932 1)" x="164.36 204.8 225.62" y="0">0.2</text>
<text class="tick" transform="translate(0 760.28) scale(0.932 1)" x="124.55 164.98 189.3 225.69" y="0">0.15</text>
<rect x="180.28" y="753.71" width="12.67" height="8.07" fill="#fff"/>
<rect x="198.76" y="753.71" width="12.32" height="8.07" fill="#fff"/>
<text class="tick" transform="translate(0 988.64) scale(0.932 1)" x="164.36 204.8 229.12" y="0">0.1</text>
<rect x="217.39" y="982.07" width="12.67" height="8.07" fill="#fff"/>
<rect x="235.87" y="982.07" width="12.32" height="8.07" fill="#fff"/>
<text class="tick" transform="translate(0 1217) scale(0.932 1)" x="124.55 164.98 185.8 225.69" y="0">0.05</text>
<text class="tick" transform="translate(0 1445.36) scale(0.932 1)" x="225.62" y="0">0</text>
</g>
<text class="lab" text-anchor="middle" transform="translate(1173.1 1614) scale(0.957 1)">Anodic number</text>
<text class="lab" text-anchor="middle" transform="translate(81.1 730.9) rotate(-90) scale(0.955 1)" style="letter-spacing:2.5px">Normalized Charge</text>
<g id="legend">
<rect x="1546.85" y="111.04" width="445.3" height="328.27" fill="#fff" stroke="#979797" stroke-width="8.56"/>
<rect x="1546.85" y="111.04" width="445.3" height="328.27" fill="none" stroke="#232323" stroke-width="2.85"/>
<path d="M1562.55 156.71L1591.1 156.71M1608.23 156.71L1636.77 156.71M1653.9 156.71L1682.44 156.71M1699.57 156.71L1728.11 156.71" stroke="#00ff00" stroke-width="2.85" fill="none"/>
<rect x="1636.77" y="143.87" width="25.69" height="25.69" fill="#00ff00"/>
<text class="leg" transform="translate(1748.4 180.7) scale(0.945 1)" x="0 40.78 73.09 91.35 124.21 160.76" y="0">31 keV</text>
<rect x="1790.57" y="174.6" width="11.96" height="7.6" fill="#fff"/>
<rect x="1808" y="174.6" width="11.62" height="7.6" fill="#fff"/>
<path d="M1562.55 236.64L1591.1 236.64M1608.23 236.64L1636.77 236.64M1653.9 236.64L1682.44 236.64M1699.57 236.64L1728.11 236.64" stroke="#000000" stroke-width="2.85" fill="none"/>
<rect x="1636.77" y="223.79" width="25.69" height="25.69" fill="#000000"/>
<text class="leg" transform="translate(1748.4 260.63) scale(0.945 1)" x="0 40.78 73.09 91.35 124.21 160.76" y="0">81 keV</text>
<rect x="1790.57" y="254.53" width="11.96" height="7.6" fill="#fff"/>
<rect x="1808" y="254.53" width="11.62" height="7.6" fill="#fff"/>
<path d="M1562.55 313.71L1591.1 313.71M1608.23 313.71L1636.77 313.71M1653.9 313.71L1682.44 313.71M1699.57 313.71L1728.11 313.71" stroke="#ff0000" stroke-width="2.85" fill="none"/>
<rect x="1636.77" y="300.86" width="25.69" height="25.69" fill="#ff0000"/>
<text class="leg" transform="translate(1748.4 340.55) scale(0.945 1)" x="4.23 36.55 73.09 109.64 127.9 160.76 197.3" y="0">122 keV</text>
<rect x="1756.03" y="334.45" width="11.96" height="7.6" fill="#fff"/>
<rect x="1773.47" y="334.45" width="11.62" height="7.6" fill="#fff"/>
<path d="M1562.55 393.64L1591.1 393.64M1608.23 393.64L1636.77 393.64M1653.9 393.64L1682.44 393.64M1699.57 393.64L1728.11 393.64" stroke="#0000ff" stroke-width="2.85" fill="none"/>
<rect x="1636.77" y="380.79" width="25.69" height="25.69" fill="#0000ff"/>
<text class="leg" transform="translate(1748.4 420.48) scale(0.945 1)" x="0 36.55 73.09 109.64 127.9 160.76 197.3" y="0">356 keV</text>
</g>
</svg>
</body></html>
